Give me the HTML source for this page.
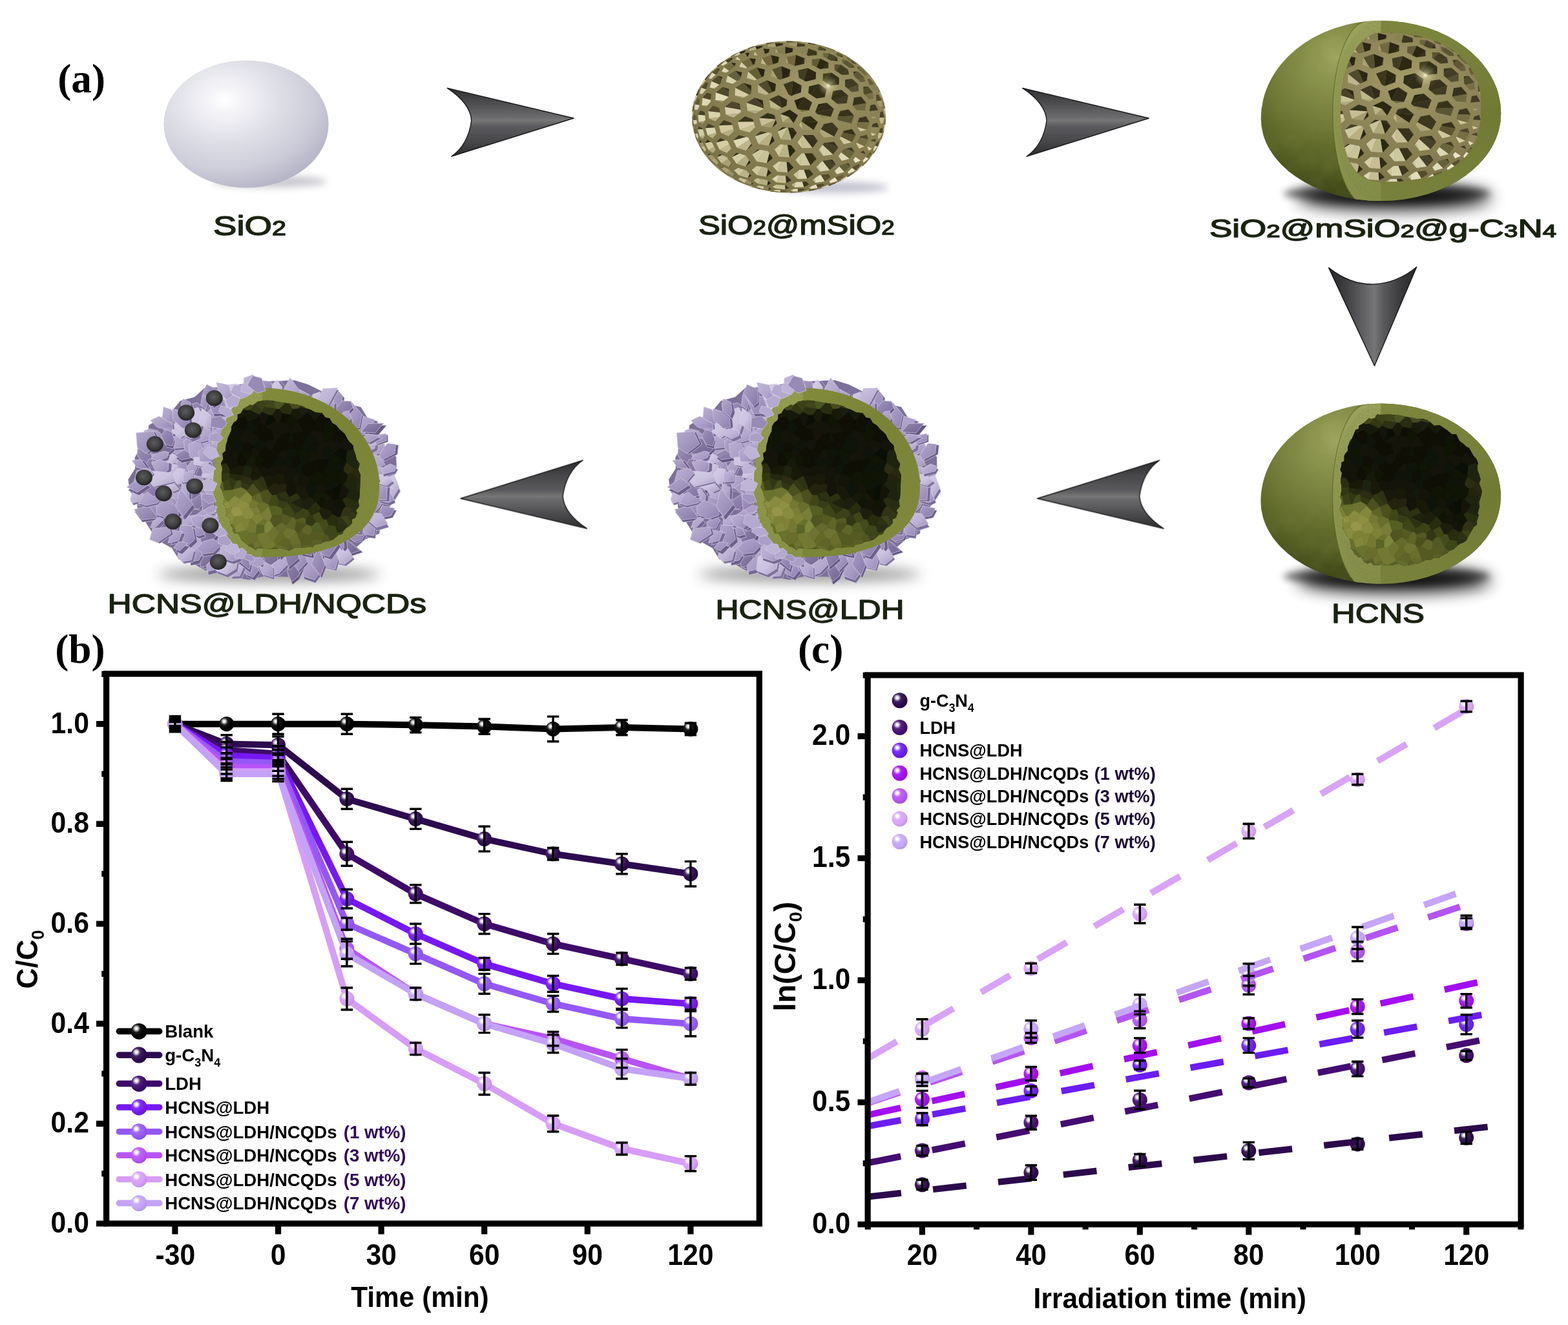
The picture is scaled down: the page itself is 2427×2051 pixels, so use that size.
<!DOCTYPE html>
<html lang="en"><head><meta charset="utf-8"><title>Figure</title>
<style>html,body{margin:0;padding:0;background:#fff}svg{display:block}text{font-kerning:normal}</style>
</head><body>
<svg width="2427" height="2051" viewBox="0 0 2427 2051">
<defs>
<radialGradient id="gb0" cx=".34" cy=".34" r=".72" fx=".34" fy=".32"><stop offset="0" stop-color="#f2f2f2"/><stop offset=".10" stop-color="#f2f2f2"/><stop offset=".22" stop-color="#8c8c8c"/><stop offset=".34" stop-color="#1a1a1a"/><stop offset=".7" stop-color="#000000"/><stop offset="1" stop-color="#000000"/></radialGradient><radialGradient id="gb1" cx=".34" cy=".34" r=".72" fx=".34" fy=".32"><stop offset="0" stop-color="#f4f3f6"/><stop offset=".10" stop-color="#f4f3f6"/><stop offset=".22" stop-color="#a091b0"/><stop offset=".34" stop-color="#422361"/><stop offset=".7" stop-color="#2d0b4f"/><stop offset="1" stop-color="#280a47"/></radialGradient><radialGradient id="gb2" cx=".34" cy=".34" r=".72" fx=".34" fy=".32"><stop offset="0" stop-color="#f5f3f8"/><stop offset=".10" stop-color="#f5f3f8"/><stop offset=".22" stop-color="#a891bc"/><stop offset=".34" stop-color="#512378"/><stop offset=".7" stop-color="#3e0b69"/><stop offset="1" stop-color="#380a5e"/></radialGradient><radialGradient id="gb3" cx=".34" cy=".34" r=".72" fx=".34" fy=".32"><stop offset="0" stop-color="#f8f3fe"/><stop offset=".10" stop-color="#f8f3fe"/><stop offset=".22" stop-color="#c197fa"/><stop offset=".34" stop-color="#842ff4"/><stop offset=".7" stop-color="#7618f3"/><stop offset="1" stop-color="#6a16db"/></radialGradient><radialGradient id="gb4" cx=".34" cy=".34" r=".72" fx=".34" fy=".32"><stop offset="0" stop-color="#faf7ff"/><stop offset=".10" stop-color="#faf7ff"/><stop offset=".22" stop-color="#cfb4fb"/><stop offset=".34" stop-color="#9f69f7"/><stop offset=".7" stop-color="#9458f6"/><stop offset="1" stop-color="#854fdd"/></radialGradient><radialGradient id="gb5" cx=".34" cy=".34" r=".72" fx=".34" fy=".32"><stop offset="0" stop-color="#fbf6ff"/><stop offset=".10" stop-color="#fbf6ff"/><stop offset=".22" stop-color="#dfb2fb"/><stop offset=".34" stop-color="#bf65f8"/><stop offset=".7" stop-color="#b854f7"/><stop offset="1" stop-color="#a64cde"/></radialGradient><radialGradient id="gb6" cx=".34" cy=".34" r=".72" fx=".34" fy=".32"><stop offset="0" stop-color="#fdfaff"/><stop offset=".10" stop-color="#fdfaff"/><stop offset=".22" stop-color="#edd3fc"/><stop offset=".34" stop-color="#dba7f9"/><stop offset=".7" stop-color="#d79df8"/><stop offset="1" stop-color="#c28ddf"/></radialGradient><radialGradient id="gb7" cx=".34" cy=".34" r=".72" fx=".34" fy=".32"><stop offset="0" stop-color="#fcfaff"/><stop offset=".10" stop-color="#fcfaff"/><stop offset=".22" stop-color="#e4d5fb"/><stop offset=".34" stop-color="#caabf8"/><stop offset=".7" stop-color="#c4a2f7"/><stop offset="1" stop-color="#b092de"/></radialGradient><radialGradient id="gc0" cx=".34" cy=".34" r=".72" fx=".34" fy=".32"><stop offset="0" stop-color="#f4f3f6"/><stop offset=".10" stop-color="#f4f3f6"/><stop offset=".22" stop-color="#a091ae"/><stop offset=".34" stop-color="#41225e"/><stop offset=".7" stop-color="#2c0a4c"/><stop offset="1" stop-color="#280944"/></radialGradient><radialGradient id="gc1" cx=".34" cy=".34" r=".72" fx=".34" fy=".32"><stop offset="0" stop-color="#f6f3f8"/><stop offset=".10" stop-color="#f6f3f8"/><stop offset=".22" stop-color="#ab92c0"/><stop offset=".34" stop-color="#582580"/><stop offset=".7" stop-color="#450d72"/><stop offset="1" stop-color="#3e0c67"/></radialGradient><radialGradient id="gc2" cx=".34" cy=".34" r=".72" fx=".34" fy=".32"><stop offset="0" stop-color="#f8f4fe"/><stop offset=".10" stop-color="#f8f4fe"/><stop offset=".22" stop-color="#bd99fa"/><stop offset=".34" stop-color="#7b34f5"/><stop offset=".7" stop-color="#6c1df4"/><stop offset="1" stop-color="#611adc"/></radialGradient><radialGradient id="gc3" cx=".34" cy=".34" r=".72" fx=".34" fy=".32"><stop offset="0" stop-color="#faf3fe"/><stop offset=".10" stop-color="#faf3fe"/><stop offset=".22" stop-color="#d693f9"/><stop offset=".34" stop-color="#ac26f3"/><stop offset=".7" stop-color="#a30ef2"/><stop offset="1" stop-color="#930dda"/></radialGradient><radialGradient id="gc4" cx=".34" cy=".34" r=".72" fx=".34" fy=".32"><stop offset="0" stop-color="#fbf6fe"/><stop offset=".10" stop-color="#fbf6fe"/><stop offset=".22" stop-color="#ddb2fa"/><stop offset=".34" stop-color="#bc66f4"/><stop offset=".7" stop-color="#b455f3"/><stop offset="1" stop-color="#a24cdb"/></radialGradient><radialGradient id="gc5" cx=".34" cy=".34" r=".72" fx=".34" fy=".32"><stop offset="0" stop-color="#fdfaff"/><stop offset=".10" stop-color="#fdfaff"/><stop offset=".22" stop-color="#eed6fc"/><stop offset=".34" stop-color="#ddacf9"/><stop offset=".7" stop-color="#d9a3f8"/><stop offset="1" stop-color="#c393df"/></radialGradient><radialGradient id="gc6" cx=".34" cy=".34" r=".72" fx=".34" fy=".32"><stop offset="0" stop-color="#fcfbff"/><stop offset=".10" stop-color="#fcfbff"/><stop offset=".22" stop-color="#e5d7fc"/><stop offset=".34" stop-color="#cbaff9"/><stop offset=".7" stop-color="#c5a6f8"/><stop offset="1" stop-color="#b195df"/></radialGradient><linearGradient id="arG" x1="0" y1="0" x2="0" y2="1"><stop offset="0" stop-color="#2f2f31"/><stop offset=".18" stop-color="#47474a"/><stop offset=".42" stop-color="#6a6a6c"/><stop offset=".47" stop-color="#767676"/><stop offset=".56" stop-color="#5b5b5e"/><stop offset=".8" stop-color="#454548"/><stop offset="1" stop-color="#2a2a2c"/></linearGradient><linearGradient id="arV" x1="0" y1="0" x2="1" y2="0"><stop offset="0" stop-color="#262628"/><stop offset=".22" stop-color="#434346"/><stop offset=".46" stop-color="#6c6c6e"/><stop offset=".52" stop-color="#757577"/><stop offset=".62" stop-color="#5a5a5d"/><stop offset=".82" stop-color="#3a3a3d"/><stop offset="1" stop-color="#262628"/></linearGradient><filter id="arB" x="-10%" y="-10%" width="120%" height="120%"><feGaussianBlur stdDeviation="0.7"/></filter><path id="arR" d="M22.4 26.4L217.9 73L28.7 132.2Q54.6 114.1 59.8 76.5Q57.8 49.7 22.4 26.4Z"/><radialGradient id="s1g" cx=".37" cy=".32" r=".72" fx=".37" fy=".31"><stop offset="0" stop-color="#ffffff"/><stop offset=".12" stop-color="#f6f6f9"/><stop offset=".45" stop-color="#dfdfe8"/><stop offset=".75" stop-color="#cdcdda"/><stop offset="1" stop-color="#b4b4c6"/></radialGradient><filter id="blur6" x="-30%" y="-80%" width="160%" height="260%"><feGaussianBlur stdDeviation="6"/></filter><filter id="blur4" x="-30%" y="-80%" width="160%" height="260%"><feGaussianBlur stdDeviation="4"/></filter><filter id="blur10" x="-30%" y="-100%" width="160%" height="300%"><feGaussianBlur stdDeviation="10"/></filter><filter id="blur14" x="-30%" y="-100%" width="160%" height="300%"><feGaussianBlur stdDeviation="13"/></filter><radialGradient id="geoBase" cx=".62" cy=".34" r=".8"><stop offset="0" stop-color="#a59c6b"/><stop offset=".35" stop-color="#8f8659"/><stop offset=".8" stop-color="#7d754a"/><stop offset="1" stop-color="#6a6340"/></radialGradient><radialGradient id="star" cx=".5" cy=".5" r=".5"><stop offset="0" stop-color="#fffbe0" stop-opacity=".95"/><stop offset=".25" stop-color="#e8e0b0" stop-opacity=".5"/><stop offset="1" stop-color="#c8c090" stop-opacity="0"/></radialGradient><g id="geo"><ellipse rx="150" ry="117.4" fill="url(#geoBase)"/><path fill="#6e6441" d="M146.1 26.4L145 28L142.3 34.4L142.3 34.5L143.2 34.7Z"/><path fill="#dcd7b4" d="M142.3 34.5L139.3 42.7L139.6 42.9L143.2 34.7ZM-111.6 -78.4L-118.7 -71.7L-117.1 -71.9L-110.3 -77.5ZM138 30.4L138.2 33.7L142.1 31.7ZM-141.3 -11.2L-138.7 -15.9L-138.5 -18.5L-145.5 -19.5L-145.9 -11ZM-124.2 -60L-120.3 -59.1L-112.9 -65.4L-118.7 -68.6ZM9 109.1L23.4 108.5L20.9 100.4L12.1 100.7L9.4 102.1ZM-130.5 6.6L-129.1 4.3L-129.9 -2.5L-140.6 -3.4L-139.3 7.9ZM-100.4 -77.1L-104 -70.1L-97.1 -68.6L-92.3 -71.6ZM-112.5 24.5L-114.9 16.3L-129.1 17.2L-125.7 28.5ZM94.1 64.8L81.1 54.8L76.8 60.6L81.9 68.1ZM-85.9 36.3L-80.5 47.8L-61.1 35.3L-62.6 32.1L-66.7 31Z"/><path fill="#ebe6c8" d="M131.1 56.9L130.3 56.5L130.2 56.6L126.2 62.5L125.5 64.2ZM113.1 75L107 81L106.8 82.3L114.4 75.9ZM123.5 64.3L118.9 61.9L114.6 67.5L115.6 70.9ZM103 82.7L98.1 78.7L91.2 85.2L92.8 88.1ZM64.3 102.4L75.7 98.9L71.4 93.4L63 99.2ZM103.2 61.8L100 65.9L102.9 71.1L111.2 67.4Z"/><path fill="#5f5532" d="M131.1 56.9L136.2 49.2L135.9 49.1L130.3 56.5ZM-28.6 115.2L-17.6 116.6L-17.7 116.3L-28.4 114.4ZM97.6 39.2L103.7 28L83.6 24.2L80.2 30.4Z"/><path fill="#afa578" d="M-138.1 45.8L-138.3 44L-141 37.7L-141 37.6L-141.9 37.8ZM-56.1 107.3L-65.4 104.7L-67 105L-56.9 108.6ZM21.2 116.2L21.2 115.4L19.1 115.8ZM-104.5 79.5L-96.8 86.9L-91.4 82L-101 77.5ZM70.1 30.2L49.9 19L47.7 23L54.3 32Z"/><path fill="#6e643c" d="M-141 37.6L-144.8 29.5L-145.2 29.5L-141.9 37.8ZM-141.5 25.4L-143.1 20L-146.4 17.3L-145.3 26.1Z"/><path fill="#b4af82" d="M-28.6 115.2L-28.4 114.4L-28.5 114.4L-37 113.2L-39.3 113.3ZM139.2 -38.3L143.7 -29.9L144.9 -30L141.5 -39ZM5.4 115.5L5.7 112.1L1.7 113.3ZM-57.3 -102.9L-55 -103L-49.8 -104.8L-51.6 -108.8L-59.4 -105.9ZM-47.5 103.6L-33.5 106.1L-32.3 99.1L-34.7 97.4L-43.2 95.9ZM-118.2 33.2L-112 26.2L-112.5 24.5L-125.7 28.5ZM-80.8 72.5L-66.7 76.7L-61.4 67.3L-66.5 59.7ZM-93.2 29.8L-85 21.6L-85.8 18.8L-104.9 25Z"/><path fill="#d7d2aa" d="M-98.4 -88.6L-96.3 -89.3L-89.3 -93.3L-89.3 -93.3L-89.8 -93.9ZM-73.3 -102.4L-73.1 -102.2L-63 -105.7L-63.3 -106.3ZM21.2 116.2L31.4 114.8L31 113.4L30.2 113.5L21.2 115.4ZM-130.5 -57.9L-135.8 -49.5L-134.6 -49.3L-128.4 -57ZM-76.6 -100.1L-85.4 -94.7L-80.6 -94.7L-74.6 -97.5ZM-148.2 4.8L-147 11.5L-142.7 10.8L-142.2 9.1L-142.7 4.7ZM-135.5 -45.2L-138.3 -35.9L-134.1 -35.4L-127.9 -42.7ZM13.4 96.1L28.5 95.5L23.3 81.8L16.4 82L13.7 84.1ZM-108.3 0.8L-106.1 -1.6L-106.8 -7L-124.8 -9.1L-123.4 2.6ZM-94.8 -64.2L-97.3 -54.3L-87.1 -51.3L-80.3 -55.5Z"/><path fill="#504b2d" d="M-89.3 -93.3L-80.6 -98.7L-80.7 -98.9L-89.8 -93.9ZM41.4 -112.7L30.1 -115L29.6 -113.2L29.9 -113.1L40.9 -111.8ZM14.1 115.5L25.2 113.2L21.9 111L13.5 111.3ZM55.4 105.6L52.9 103.2L42.3 104.8L44.5 110.1ZM56.5 -105.8L46.7 -109.6L44.5 -104.3L47.6 -103.1L54.2 -102.7ZM-128.9 -53.3L-135.5 -45.2L-127.9 -42.7L-127.9 -42.7L-125.4 -51.2ZM-109.8 -63.5L-119.7 -55.2L-107.8 -50L-105.6 -51.9L-103.8 -58.7ZM130.2 -37.7L122.5 -47.3L115.4 -43.4L115.6 -36.5L117.5 -34.3ZM-93.1 -31.1L-92.8 -39.7L-102.7 -46.3L-113.1 -37.8ZM-34 -56.7L-47.8 -50.2L-30.9 -36.1L-26.1 -38.3Z"/><path fill="#3c371e" d="M-63 -105.7L-62.8 -105.7L-55.1 -108.6L-53.3 -109.7L-63.3 -106.3ZM84.9 92.7L83.1 89.9L81.9 90.3ZM0.4 110.1L-4.7 105.9L-6 105.8L-5.6 112ZM23.4 108.5L31.5 104.6L27 100.1L20.9 100.4ZM61.1 88.4L60.1 88.6L64.8 93.1ZM27.5 -95.7L30.5 -94.6L39.3 -95.4L43.2 -101.4L30.1 -106.1ZM-98 36.2L-106.2 32.8L-112.6 39.7ZM28.5 95.5L38 88.7L32 81.6L23.3 81.8ZM119.5 -0.9L109 1.4L106.6 7.9L124.9 8.3ZM-88.1 -24.3L-75.6 -17.8L-76 -20.2ZM79.3 -9.3L78.5 -7.1L92.2 -11.7ZM-45 50.8L-48 50.3L-56.8 58.1ZM70.1 30.2L76.4 18.6L52.1 15L49.9 19ZM76.4 18.6L67.1 8.6L54.2 11L52.1 15ZM-54.6 7.6L-55.8 3.4L-68 -0.9L-79.4 7.8ZM-0.7 -35.1L3.7 -32.6L3.7 -32.6L6.3 -55.7L-8.5 -50.4Z"/><path fill="#d2c8a0" d="M2.1 117.3L2.1 116.6L-8.9 116.9L-9 117.2ZM146.7 19.9L146.6 21.5L147.8 20.1ZM146.7 -12.9L146.7 -12.7L148.5 -4.1L149.8 -4L149.1 -13.2ZM-12.9 113.2L-19.9 112.7L-24.2 114.3L-13.2 116.2ZM-18 104.9L-19.3 104.8L-25.3 108.3L-19.8 111ZM-129.8 40.4L-124.7 50.9L-115.5 46.6L-118.6 40.2L-121.1 38.5ZM13.4 96.1L13.7 84.1L7 89.2ZM97.6 39.2L80.2 30.4L78.8 33.1L85 42.2ZM-85.8 18.8L-87.7 12.3L-108.4 13.2L-104.9 25ZM-7.7 43L-13.2 42.6L-22.1 50.3L-15.1 61.5ZM20.4 48.3L18.9 31.8L13.5 39.4Z"/><path fill="#50462d" d="M2.1 117.3L13 117L10.8 116.6L2.2 116.6L2.1 116.6ZM-120.8 -26.3L-120.3 -34.6L-126.7 -37.6L-133.7 -29.4ZM123.1 34.8L120.6 27.5L110.3 30.3L109.4 31.9ZM-88.1 -24.3L-99.1 -15.6L-74.7 -10.9L-75.6 -17.8Z"/><path fill="#5a5032" d="M-148.8 14.3L-147.8 14.2L-147.9 14.1L-149 7.5L-149.8 5.8ZM-104.4 -84.3L-111.6 -78.4L-110.3 -77.5L-109.7 -78L-103.8 -83.6ZM95.4 -85.6L100.7 -82L105.4 -81.4L98 -88ZM103 82.7L109.7 76L105.9 74L100.3 76.6L98.1 78.7ZM80.3 -80.9L70.6 -81.2L70.9 -72.7L72.6 -71.5Z"/><path fill="#beb98c" d="M-148.8 14.3L-147.1 22.9L-146.8 22.8L-147.8 14.2ZM-129.8 53.7L-128 50.6L-131.1 44.4L-136 46.2ZM140.5 0.9L140.1 3.6L141.6 8.6L146 9.3L147.6 0.9ZM-41.4 -91.1L-43.3 -82.7L-34.5 -80.4ZM18.9 7.2L16 12.5L21.8 20ZM-11.7 -13.7L-11 -14L-30.4 -27L-28.3 -14.2Z"/><path fill="#878255" d="M101.8 -86.2L101.7 -86L108.9 -79.5L109.6 -80ZM17.9 -99.3L27.5 -95.7L30.1 -106.1L17.5 -105.2Z"/><path fill="#827850" d="M108.9 -79.5L109 -79.4L114.9 -74.6L116.9 -73.6L109.6 -80Z"/><path fill="#736e46" d="M86.4 -95.9L85.8 -95.3L95 -90.5L95.3 -90.7Z"/><path fill="#918c5f" d="M86.4 -95.9L77.3 -100.6L78.8 -99.3L85.7 -95.3L85.8 -95.3ZM104.8 -10.6L107.4 -7.7L117.9 -9.8Z"/><path fill="#464123" d="M120 -69.4L121 -67.9L121.8 -68.5ZM-35.6 -114L-35.2 -112.7L-25.7 -114.8L-24.6 -115.7ZM122 -58.3L122.7 -56L126.3 -58.2ZM53 -67L52.5 -56.6L55.3 -54.7L66.1 -68.5ZM-52.4 30.1L-32.8 23.9L-43.7 22.2Z"/><path fill="#8c825a" d="M121 -67.9L125.6 -61.6L126 -61L127.6 -61.7L121.8 -68.5ZM136.5 0.8L138.2 -10.4L124.8 -9.1L124.4 -6.6L128.1 -0.3Z"/><path fill="#9b9164" d="M126 -61L131.5 -54.6L133 -54.1L127.6 -61.7ZM-108.9 77.9L-109.2 77.7L-117.1 71.7L-118.2 72.2L-110.7 79.2ZM-131.1 44.4L-133.1 40.2L-134.5 38.9L-138.7 39.7L-136 46.2ZM-138.3 -35.9L-134.8 -34.5L-134.1 -35.4ZM14.2 -72.3L13.2 -61.9L15.7 -60.6ZM-9.8 -40.1L-0.7 -35.1L-8.5 -50.4ZM19.2 6.6L18.9 7.2L21.8 20L38.3 19.9ZM7.5 -16.7L13 -13L8.5 -25.5Z"/><path fill="#464128" d="M121.4 67.9L119.9 69.1L120.9 69.5ZM145.5 -8.6L141.7 -7.5L140.5 0.9L147.6 0.9ZM-129.9 -2.5L-130.4 -7.3L-136.7 -10.2L-140.6 -3.4ZM-114.9 16.3L-115.4 14.6L-124.9 10.4L-129.1 17.2ZM63.2 82.6L72.6 73.4L62.8 66.5L52 68ZM68.4 58.2L76.4 47.6L58.6 39.8L54.3 40.3L52.2 43.2Z"/><path fill="#736941" d="M119.9 69.1L113.6 74.4L113.1 75L114.4 75.9L120.9 69.5ZM145.9 -22.1L146.7 -12.9L149.1 -13.2L147.1 -22.4ZM88.7 -92.8L90.1 -89.2L95.4 -85.6L98 -88ZM123.5 64.3L127.6 58.3L123.6 56.9L121.9 58L118.9 61.9ZM-64.5 -76.2L-55.3 -80.5L-60.7 -90.8L-73.5 -84.8ZM-27.5 -95.7L-41.4 -91.1L-34.5 -80.4L-30.8 -79.5L-24.5 -81.6ZM10.9 -95.9L-3.6 -92.7L-0.8 -82.7L9 -78.9L9 -78.9Z"/><path fill="#373219" d="M-134.7 51.7L-133.7 51.4L-134.8 50ZM82.4 -96L79.6 -93.3L83.7 -92.5ZM61.3 -83.9L52.1 -74.4L61.3 -75.4ZM24.5 -90.8L19.5 -81.3L23.9 -82.3ZM103.7 28L97.8 18.8L85 21.6L83.6 24.2ZM33.3 74.7L42.8 65L32.8 56.2L24 56.4ZM78.5 -7.1L76 -0.4L101.1 -1.7L92.2 -11.7ZM81.4 -42.1L68.4 -40.2L66.5 -31.4ZM44.7 36.9L38 27.9L26.9 28.1Z"/><path fill="#8c8255" d="M-134.7 51.7L-129.8 58.8L-128.2 58.1L-128.6 57.5L-133.7 51.4ZM-150 -0.6L-149.2 0.9L-148.9 -0.7ZM-30.9 109.6L-32.9 108.7L-38.4 107.7L-40 111.8L-31.4 113ZM46.7 -109.6L34.5 -111L34.7 -107.8L44.5 -104.3ZM-39.4 -105.7L-52.6 -101.3L-48.3 -95.1L-45.1 -94.8L-37 -97.5ZM65 -0.3L44.5 -4.2L52.1 2.1Z"/><path fill="#a09669" d="M-129.8 58.8L-123.8 66.2L-123.6 64.9L-128.2 58.1ZM-114.3 63.9L-116 61.5L-121 58.2L-125.2 59.7L-120.1 67.1ZM1.6 -110.7L12.3 -108.4L13.1 -114.8L0.9 -114.1ZM-133.2 11.1L-130.5 6.6L-139.3 7.9ZM-128.2 -15.4L-126 -18L-134.6 -18.1ZM0 0L-9.4 8.5L7.4 9.6Z"/><path fill="#827d50" d="M-46.9 110.6L-55.3 107.6L-56.1 107.3L-56.9 108.6L-47.1 111.4ZM125.9 -48.7L131.8 -41.5L135.8 -41.8L132.3 -51.1ZM-5.6 -108.6L-19.6 -105.8L-17.1 -99.3L-8.6 -97.4L-5.4 -98ZM89.6 -20.9L74.6 -20.4L76.6 -18.6Z"/><path fill="#2d2814" d="M-45 111.3L-46.9 110.6L-47.1 111.4ZM-76.6 -100.1L-74.6 -97.5L-68.5 -100.3L-66.3 -103.6ZM-49.8 -104.8L-42 -107.4L-40.3 -110.5L-51.6 -108.8ZM-88.8 -88.1L-86.5 -90.9L-91.1 -91ZM-27.3 111.3L-30.9 109.6L-31.4 113ZM-108.1 -72.1L-107 -74.2L-111.2 -74.7ZM56.5 -105.8L54.2 -102.7L57.1 -102.6ZM23.5 -109.2L24.8 -109.3L24.9 -112.4ZM-128.9 -53.3L-125.4 -51.2L-125.1 -52.2ZM-39.4 -105.7L-37 -97.5L-31.4 -99.4L-29.8 -104.9ZM-129.8 40.4L-121.1 38.5L-126.1 35.4ZM-120.3 -34.6L-120.2 -35.3L-126.7 -37.6ZM-109.8 -63.5L-103.8 -58.7L-103 -61.8ZM-55.3 -80.5L-53.3 -81.4L-51.2 -89.7L-60.7 -90.8ZM-27 86.8L-32.5 80.9L-34.9 92.7ZM-27.5 -95.7L-24.5 -81.6L-16.6 -84.3L-15.1 -92.8ZM61.3 -83.9L48.7 -90.4L42.6 -76.9L48.3 -73.9L52.1 -74.4ZM-83 -71.5L-74.2 -61.8L-72.6 -68.9ZM24.5 -90.8L10.9 -95.9L9 -78.9L19.5 -81.3ZM42.8 65L35.9 56.2L32.8 56.2ZM-70.6 -52.7L-58.3 -40.1L-58.2 -49ZM-25.1 64L-30.2 56L-34.2 71.5ZM42.2 -68.9L30.7 -55.8L41.6 -58.5ZM42.2 -68.9L29.2 -75.7L22.9 -56.7L26.5 -54.8L30.7 -55.8ZM-34 -56.7L-26.1 -38.3L-21.3 -40.5L-20 -50.9ZM-31 44.7L-22.2 36.9L-25.8 28.7ZM3.7 -32.6L8.6 -34.4L19.7 -48.5L6.3 -55.7ZM-39.2 -17L-40.5 -25.7L-52.8 -29.7ZM19.4 6.3L19.2 6.6L38.3 19.9L44.9 7.9ZM4.3 35.8L12.3 24.5L-0.8 16.5L-1.6 16.4ZM0 0L1.3 -11.2L-13.2 -4.4ZM0 0L14 -2.5L1.3 -11.2ZM0 0L7.4 9.6L14 -2.5Z"/><path fill="#2d2d19" d="M-104.4 -84.3L-103.8 -83.6L-102.4 -84.9ZM-134.5 38.9L-137.2 36.3L-138.7 39.7ZM-111.1 62.2L-103.4 59.1L-106.9 57.6ZM6.5 -105.9L4.8 -100.2L5.8 -100.4ZM-2 85.9L7.4 78.6L0 70L-3.6 69.7ZM31.1 -47.3L30.2 -36.9L34.3 -34.1L46.3 -51.1ZM12.3 24.5L6.5 17L-0.8 16.5ZM-20.7 2.8L-22.4 -2.7L-32.7 -6.2Z"/><path fill="#6e6941" d="M70.1 -103.8L60.8 -107.3L60.1 -106L60.9 -105.7L69.5 -103.1ZM107.3 -74.4L108.2 -72.8L111.9 -69.4L116.3 -72L110.3 -76.9ZM111.9 -69.4L117.5 -64.4L121.8 -64.2L116.3 -72ZM98.7 -17.7L98.7 -17.7L104.8 -10.6L117.9 -9.8L119.9 -21.5ZM14.6 -11.8L20.2 -8.1L31.1 -10Z"/><path fill="#91875a" d="M60.8 -107.3L50.4 -110.5L51.2 -109.4L60.1 -106ZM135.3 27L139.1 16.1L128.4 15.5L126.1 22.1L126.9 24.5Z"/><path fill="#322d19" d="M70.1 -103.8L69.5 -103.1L71.5 -102.5ZM-20.3 -108.8L-9.8 -110.9L-8.9 -114L-21.2 -114.3ZM74.6 -92.4L69 -86.9L75.4 -86.6ZM-79.2 78.8L-80.1 78.6L-84.8 82.7ZM-4.2 102.4L3.9 98.2L-2.7 91.4L-5 91.3ZM100.9 -29.7L100.3 -26.2L111.6 -31.4ZM-88 62.2L-76.8 56.8L-81.1 55.6ZM72.6 73.4L67.2 65.9L62.8 66.5ZM-92.8 -39.7L-92.6 -43.2L-102.7 -46.3ZM61.8 -50.3L64.5 -48.4L77.6 -50.2L77.8 -60.6ZM2.3 -73.1L-1.7 -61.8L1 -62.8ZM38.5 -31.2L42.7 -28.4L55.6 -30.6L58.4 -42.8ZM34.3 -34.1L38.5 -31.2L58.4 -42.8L46.3 -51.1ZM69.7 -12.5L58.7 -21.9L42.4 -11.4L40.8 -7.3ZM19.8 5.7L19.4 6.3L44.9 7.9L33.6 -1.6ZM-10.6 -14.2L-9.9 -14.6L-2.6 -26.2L-16.1 -33.7ZM-9.9 -14.6L-3.6 -17.5L-2.6 -26.2ZM13.6 -12.5L14 -12.3L36 -22.4L23.4 -31ZM14 -12.3L14.6 -11.8L31.1 -10L36 -22.4Z"/><path fill="#5f5a37" d="M149.9 3.4L148.8 4.3L147.4 12L149.2 12.1ZM-148.2 4.8L-142.7 4.7L-143.4 -1.9L-146.8 -4.1ZM82.4 -96L75.4 -99.9L72.7 -96.2L77.4 -93.8L79.6 -93.3ZM-138.5 -18.5L-137.8 -27L-141.3 -28.6L-145.5 -19.5Z"/><path fill="#cdc8a0" d="M147.4 12L147.3 12.6L146.7 19.9L147.8 20.1L149.2 12.1ZM74.3 88.7L71.3 83.3L70.7 83.9ZM-69.3 81.8L-79.2 78.8L-84.8 82.7L-77 90.4ZM48.3 84.7L45.3 74.8L42.5 77.5ZM17.5 75.2L33.3 74.7L24 56.4L19.7 56.5L17.1 59.3ZM-36.4 52.2L-45 50.8L-56.8 58.1L-49.6 68.9ZM-52.4 30.1L-47 42.1L-27.5 24.7L-27.5 24.7L-32.8 23.9Z"/><path fill="#504628" d="M31.4 114.8L42.2 112.6L40.7 112.1L31 113.4ZM109.7 76L108.5 72.8L105.9 74Z"/><path fill="#55502d" d="M-149.6 -8.8L-147.8 -8.6L-147.4 -16.3L-148.3 -17.4ZM71.9 101.8L61 105.2L62 106.9L72.7 102.6ZM-112.9 -65.4L-110.6 -67.3L-108.1 -72.1L-111.2 -74.7L-118.7 -68.6ZM-11.6 -78.6L-26 -73.6L-17.6 -59.2L-13.7 -57.6L-9.8 -59Z"/><path fill="#cdc89b" d="M-149.6 -8.8L-150 -0.6L-148.9 -0.7L-147.8 -8L-147.8 -8.6ZM-41.5 77.3L-49.9 75.9L-57.4 82L-49.6 90.1ZM106.4 15.8L110.5 22.4L120.9 19.7ZM-65 -60.2L-52.6 -56.6L-49.4 -58.1L-62.9 -70.4Z"/><path fill="#c8be96" d="M-35.6 -114L-45.6 -111.8L-45.1 -111.1L-36 -112.5L-35.2 -112.7ZM-45.6 -111.8L-47.2 -110.8L-45.1 -111.1ZM141.6 8.6L142.3 10.8L146 9.3ZM-52.6 -101.3L-54.6 -95.7L-48.3 -95.1ZM-111.1 62.2L-104 72L-94.1 64.8L-95.7 62.5L-103.4 59.1ZM-19 101.4L-4.2 102.4L-5 91.3L-15.7 90.5ZM-17.4 84.8L-2 85.9L-3.6 69.7L-12.2 69.1ZM20.4 48.3L36.7 48L21.5 28.1L18.9 31.8ZM-20.4 3.9L-20.5 3.5L-45.9 1.6L-42.2 14.3Z"/><path fill="#e6e1be" d="M61 105.2L60.7 105.3L50.9 109.3L51.2 110.3L62 106.9Z"/><path fill="#968c5f" d="M-101.5 85L-108.9 77.9L-110.7 79.2L-102.2 85.8ZM-142.5 -9L-141.3 -11.2L-145.9 -11ZM-57.2 101.7L-62.1 98.3L-65.3 97.3L-68.7 102.2L-58.5 105.2Z"/><path fill="#a09b6e" d="M-94.7 90.9L-85.2 96.6L-83.8 95.1L-93.8 90.3ZM135.5 -24.3L140 -16.3L144.3 -16.2L143.6 -25.7Z"/><path fill="#7d784b" d="M-85.2 96.6L-75.3 101.4L-74.8 100.5L-83.5 95.2L-83.8 95.1Z"/><path fill="#d7cdaa" d="M-143.7 -33.6L-146.5 -24.7L-145.2 -24.6L-141.5 -32.8L-141.4 -33ZM-99.1 -15.6L-97.5 -3.4L-77.3 -5.2L-74.2 -7.6L-74.7 -10.9ZM-53.4 11.8L-54.6 7.6L-79.4 7.8L-75.8 20.1Z"/><path fill="#413c23" d="M-139.7 -42.4L-143.7 -33.6L-141.4 -33L-138.7 -41.9ZM12.3 -108.4L12.3 -108.4L23.5 -109.2L24.9 -112.4L13.1 -114.8ZM139.1 16.1L136.8 8.9L130 10.8L128.4 15.5ZM116.1 52.3L110.5 54.7L118.6 57.7ZM95.3 76.5L92.2 71.5L88.4 72.5ZM138.2 -10.4L133.2 -19.5L126.2 -17.4L124.8 -9.1ZM133.2 -19.5L126.3 -18.1L126.2 -17.4ZM91.5 -73.3L80.3 -80.9L72.6 -71.5L80.7 -66ZM101.8 54.6L97.2 47L88.3 49.2ZM107.8 -50L97.9 -58.9L87 -50.5L87 -47.5L91.6 -43.5ZM-87.7 12.3L-88.6 9.5L-100.5 4.9L-108.4 13.2ZM-85.9 36.3L-66.7 31L-77.6 28.2ZM89.6 -20.9L91.9 -32.9L68.6 -25.5L74.6 -20.4ZM29.2 -75.7L14.2 -72.3L15.7 -60.6L22.9 -56.7Z"/><path fill="#787346" d="M136 -46.9L139.1 -38.6L139.2 -38.3L141.5 -39L137.1 -47.4Z"/><path fill="#e6e1c3" d="M81.2 98.6L91.1 93.3L89.6 91.8L80.7 97.7Z"/><path fill="#645f3c" d="M91.1 93.3L100 87.4L99 86.7L89.9 91.6L89.6 91.8ZM116.2 -61.9L107 -57.7L111 -54.1L118.2 -54.6ZM86.1 85.3L95.3 76.5L88.4 72.5L80.1 74.8L78 76.8ZM-83 -71.5L-94.8 -64.2L-80.3 -55.5L-74.9 -58.8L-74.2 -61.8Z"/><path fill="#554b2d" d="M-124.2 -65.7L-130.5 -57.9L-128.4 -57L-128.2 -57.2L-123.3 -65ZM140.2 37.3L136.3 39.5L133.5 44.6L137.2 45.8ZM135 -33.1L135.5 -24.3L135.5 -24.3L143.6 -25.7L138.9 -34.6ZM60.1 88.6L49.7 90.1L55.4 99.7L64.8 93.1ZM-106.8 -7L-107.6 -13.7L-117.4 -17.4L-124.8 -9.1Z"/><path fill="#aaa578" d="M30.1 -115L18.2 -116.4L18.3 -115.4L29.6 -113.2ZM-111.3 73.9L-109 71.3L-114.3 63.9L-120.1 67.1Z"/><path fill="#afaa7d" d="M-15 -115.7L-3.9 -115.5L-3.6 -115.5L-3.6 -117.4L-15.3 -116.7ZM-33.1 -108.8L-30.1 -108.6L-31.6 -112ZM-19.6 -105.8L-20.9 -100.2L-17.1 -99.3ZM-12.3 34.7L4.3 35.8L-1.6 16.4L-2.1 16.4Z"/><path fill="#4b4128" d="M-3.6 -115.5L8.1 -116.2L8.4 -117.1L-3.6 -117.4ZM105.7 -77.5L107.3 -74.4L110.3 -76.9ZM-141 19.6L-133.1 19L-133.4 18L-139.5 14.6ZM106.8 -70.4L99.4 -70.2L100.6 -65.3ZM-38.5 -12.9L-38.5 -12.9L-39.2 -17L-52.8 -29.7L-65.7 -21.9Z"/><path fill="#e1dcb9" d="M133.5 44.6L130.8 49.6L131.5 53.3L137.2 45.8ZM-105.4 -80L-101.1 -79.7L-94.5 -83.8L-98.2 -87ZM42.3 104.8L38.9 105.4L33.3 108L33.8 111.6L44.5 110.1ZM128.8 49L122 45.8L121.4 46.8L123.8 52.3ZM74.3 88.7L86.1 85.3L78 76.8L71.3 83.3ZM49.7 90.1L46.4 90.6L39.9 95.2L41.2 101.9L55.4 99.7ZM-100.8 -24.9L-93.1 -31.1L-93.1 -31.1L-113.1 -37.8L-113.8 -26Z"/><path fill="#645a37" d="M-2.1 115.9L-5.9 113.7L-12.9 113.2L-13.2 116.2ZM48.7 -90.4L35.9 -89.2L35.4 -80.7L42.6 -76.9Z"/><path fill="#d2cda5" d="M-141.4 34.3L-139.9 30.7L-141.5 25.4L-145.3 26.1ZM-38.4 107.7L-46.7 106.2L-50.4 108L-40 111.8ZM-83 -88.9L-75.7 -87.8L-74.6 -88.3L-79.6 -93.2ZM-141 19.6L-137.8 30.4L-130.4 28.2L-133.1 19ZM-76.9 -77.7L-66.5 -75.2L-64.5 -76.2L-73.5 -84.8ZM-88 62.2L-80.8 72.5L-66.5 59.7L-66.5 59.7L-76.8 56.8ZM-17.4 84.8L-12.2 69.1L-15.8 68.9L-25 76.3ZM17.5 75.2L17.1 59.3L10.3 66.5ZM53 60.2L68.4 58.2L52.2 43.2L47.8 49.2Z"/><path fill="#4b4628" d="M127.6 58.3L126.8 54.7L123.6 56.9ZM145.4 16.3L141.6 18L139.4 24.3L144.7 25.2ZM-94.5 -83.8L-90 -86.6L-88.8 -88.1L-91.1 -91L-98.2 -87ZM134.3 38.8L133.9 33.7L127.2 36.2L126.7 37.2ZM74.6 -92.4L62.6 -98.5L58.5 -90.8L65.8 -87L69 -86.9Z"/><path fill="#dcd7af" d="M5.4 115.5L14.1 115.5L13.5 111.3L7.8 111.5L5.7 112.1ZM-126 -18L-121 -23.7L-120.8 -26.3L-133.7 -29.4L-134.6 -18.1ZM-19 101.4L-15.7 90.5L-18 90.4L-26 96.1Z"/><path fill="#c3be91" d="M139.4 24.3L137.9 28.7L138 30.4L142.1 31.7L144.7 25.2ZM64.3 102.4L63 99.2L62 99.8ZM-47.5 103.6L-43.2 95.9L-49.2 94.8L-54.6 98.6ZM39.9 95.2L36.9 97.3L41.2 101.9ZM53 60.2L47.8 49.2L46.3 51.3ZM-60.7 23.9L-52.1 16L-53.4 11.8L-75.8 20.1Z"/><path fill="#c8c396" d="M-61.5 -102.6L-57.3 -102.9L-59.4 -105.9ZM-6 105.8L-18 104.9L-19.8 111L-5.6 112ZM-30.2 56L-32.2 52.9L-36.4 52.2L-49.6 68.9L-34.2 71.5ZM-42.8 -10.3L-38.5 -12.9L-65.7 -21.9L-63.9 -9.3Z"/><path fill="#877d50" d="M-147 11.5L-143.7 14.1L-142.7 10.8ZM-74.6 -88.3L-64.3 -93.2L-67.3 -98.9L-79.6 -93.2ZM110.5 54.7L107.6 55.9L103.2 61.8L111.2 67.4L118.6 57.7Z"/><path fill="#8c875a" d="M75.4 -99.9L64.7 -103.2L65.6 -99.9L72.7 -96.2ZM128.8 49L134.3 38.8L126.7 37.2L122 45.8ZM17 -99.6L17.9 -99.3L17.5 -105.2Z"/><path fill="#c3b991" d="M33.3 108L30.8 109.3L33.8 111.6Z"/><path fill="#a5a073" d="M-30.1 -108.6L-23.6 -108.1L-20.3 -108.8L-21.2 -114.3L-31.6 -112ZM-103.9 -22.4L-100.8 -24.9L-113.8 -26Z"/><path fill="#323219" d="M-55 103.3L-57.2 101.7L-58.5 105.2ZM55.3 -54.7L61.8 -50.3L77.8 -60.6L66.1 -68.5ZM-20.5 3.5L-20.7 2.8L-32.7 -6.2L-45.9 1.6Z"/><path fill="#cdc39b" d="M-65.3 97.3L-75.4 94.2L-78.4 96.3L-68.7 102.2Z"/><path fill="#282314" d="M-121 58.2L-123.2 56.7L-125.2 59.7ZM-33.5 106.1L-27.7 102.6L-32.3 99.1ZM-58.3 90.7L-60.8 88.2L-63.6 94.6ZM6.5 -105.9L-5.6 -108.6L-5.4 -98L4.8 -100.2ZM-42.1 -61.5L-38.9 -63L-37.1 -73.3L-49.6 -76.6ZM2.3 -73.1L-11.6 -78.6L-9.8 -59L-1.7 -61.8ZM-65.8 51.9L-57.2 44.1L-58.2 41.8ZM13 -13L13.6 -12.5L23.4 -31L8.5 -25.5Z"/><path fill="#695f3c" d="M122.7 -56L124.1 -51L125.9 -48.7L132.3 -51.1L126.3 -58.2ZM75.7 98.9L84.9 92.7L81.9 90.3L71.4 93.4ZM82.4 -89.3L83.3 -83.5L84.3 -82.8L88.6 -88Z"/><path fill="#96915f" d="M140 -16.3L140.5 -15.3L144.3 -16.2Z"/><path fill="#37321e" d="M135 -34.1L135 -33.1L138.9 -34.6ZM122.5 -47.3L115.3 -46.5L115.4 -43.4ZM100.3 -26.2L98.7 -17.7L119.9 -21.5L111.6 -31.4ZM76.4 47.6L70 38.5L58.6 39.8ZM91.9 -32.9L81.4 -42.1L66.5 -31.4L65.7 -28L68.6 -25.5ZM36.7 48L44.7 36.9L26.9 28.1L21.5 28.1L21.5 28.1ZM65 -0.3L69.7 -12.5L40.8 -7.3L40.8 -7.3L44.5 -4.2ZM22.6 0.4L19.8 5.7L33.6 -1.6ZM-17.6 22.4L-2.9 16.3L-10.2 15.8Z"/><path fill="#a59b6e" d="M0.3 -111L1.6 -110.7L0.9 -114.1ZM-3.6 -92.7L-4.9 -84.3L-0.8 -82.7ZM-20.2 4.5L-20.4 3.9L-42.2 14.3L-26 16.7Z"/><path fill="#282814" d="M-104.5 79.5L-101 77.5L-102.2 77ZM-86.4 91.9L-83.6 89.7L-84.4 88.9ZM-64.3 -93.2L-63.1 -93.7L-60.9 -99.3L-67.3 -98.9ZM-89.2 -84.1L-84.3 -78.2L-82 -82.9ZM39.3 -95.4L43.2 -95.7L43.2 -101.4ZM10.3 52.6L3.3 43.8L-2.1 43.4L1 62.6ZM58.7 -21.9L45.7 -19.7L42.4 -11.4Z"/><path fill="#969164" d="M-96.8 86.9L-86.4 91.9L-84.4 88.9L-91.4 82Z"/><path fill="#b9af82" d="M-137.8 30.4L-133.7 34.3L-130.1 29.2L-130.4 28.2ZM-113.9 6.7L-108.3 0.8L-123.4 2.6ZM-47 42.1L-31 44.7L-25.8 28.7L-27.5 24.7Z"/><path fill="#5a5532" d="M84.3 -82.8L93.4 -76.6L99.4 -80.7L88.6 -88ZM76 -0.4L74.8 2.8L77.3 5.6L96.7 10.2L101.1 -1.7ZM-70.6 -52.7L-83 -45.1L-61.8 -34.6L-58.4 -36.6L-58.3 -40.1Z"/><path fill="#555032" d="M93.4 -76.6L94.4 -75.9L101.8 -76L99.4 -80.7ZM107.8 -50L91.6 -43.5L97.3 -38.4L108 -39.9Z"/><path fill="#d7cda5" d="M135.3 27L126.9 24.5L128.6 29.3ZM117.3 45.5L105.2 39.7L104.3 41.3L108.8 49.1ZM-92.2 42.7L-94.6 37.6L-98 36.2L-112.6 39.7L-107.3 50.7ZM-83 -45.1L-83.4 -32.9L-68.8 -30.4L-61.8 -34.6Z"/><path fill="#beb48c" d="M9 109.1L9.4 102.1L4.1 104.8ZM-32.5 80.9L-34.7 78.5L-41.5 77.3L-49.6 90.1L-34.9 92.7ZM-97.5 -3.4L-85.5 1.1L-77.3 -5.2ZM-80.5 47.8L-65.8 51.9L-58.2 41.8L-61.1 35.3ZM-47.8 -50.2L-47.9 -37.8L-35.6 -33.9L-30.9 -36.1Z"/><path fill="#736e41" d="M-89.2 -84.1L-100.4 -77.1L-92.3 -71.6L-85.4 -75.9L-84.3 -78.2Z"/><path fill="#b4aa7d" d="M-124.7 50.9L-117.4 55.8L-113.3 51.1L-115.5 46.6ZM-18 -10.7L-11.7 -13.7L-28.3 -14.2Z"/><path fill="#5f5537" d="M116.2 -61.9L106.8 -70.4L100.6 -65.3L101.2 -62.8L107 -57.7Z"/><path fill="#69643c" d="M62.6 -98.5L53.1 -99.1L53.3 -93.4L58.5 -90.8ZM94.1 64.8L101.8 54.6L88.3 49.2L84.6 50.1L81.1 54.8Z"/><path fill="#e1d7b4" d="M-119.7 -55.2L-122.4 -45.5L-115.1 -44L-107.8 -50Z"/><path fill="#9b9664" d="M-122.4 -45.5L-115.8 -43.4L-115.1 -44Z"/><path fill="#b9b487" d="M-60.8 88.2L-66.2 82.7L-69.3 81.8L-77 90.4L-63.6 94.6ZM-2.1 43.4L-7.7 43L-15.1 61.5L1 62.6ZM0 0L-13.2 -4.4L-9.4 8.5Z"/><path fill="#23230f" d="M-93.1 77L-88.6 72.8L-89 72.1Z"/><path fill="#aaa073" d="M-104 72L-93.1 77L-89 72.1L-94.1 64.8ZM136.5 0.8L128.1 -0.3L129.7 2.6ZM-26 -73.6L-27.7 -63.3L-17.6 -59.2ZM-83.4 -32.9L-71.2 -28.9L-68.8 -30.4Z"/><path fill="#7d734b" d="M130.7 -27.9L123.2 -27.4L123.8 -26.7Z"/><path fill="#786e46" d="M130.7 -27.9L130.2 -37.7L117.5 -34.3L123.2 -27.4ZM117.3 45.5L123.1 34.8L109.4 31.9L105.2 39.7ZM106.6 7.9L104.8 13.1L106.4 15.8L120.9 19.7L124.9 8.3Z"/><path fill="#463c23" d="M91.5 -73.3L80.7 -66L82.4 -64.9L93.2 -65.8Z"/><path fill="#c3b98c" d="M-96 55.7L-89.2 49L-92.2 42.7L-107.3 50.7Z"/><path fill="#3c3723" d="M97.9 -58.9L87.1 -57.8L87 -50.5Z"/><path fill="#231e0f" d="M-66.7 76.7L-59.3 70.4L-61.4 67.3Z"/><path fill="#d7d2af" d="M48.3 84.7L63.2 82.6L52 68L52 68L45.3 74.8Z"/><path fill="#645f37" d="M-49.4 -58.1L-42.1 -61.5L-49.6 -76.6L-62.9 -70.4Z"/><path fill="#91875f" d="M77.3 5.6L83.9 12.9L96.7 10.2Z"/><path fill="#2d2819" d="M8.6 -34.4L18.7 -38.1L19.7 -48.5ZM-18.6 10.1L-20.2 4.5L-26 16.7Z"/><path fill="#b4aa82" d="M-51.7 -5.1L-42.8 -10.3L-63.9 -9.3Z"/><path fill="#413723" d="M-11 -14L-10.6 -14.2L-16.1 -33.7L-30.4 -27Z"/><path fill="#c8c39b" d="M-17.6 22.4L-12.3 34.7L-2.1 16.4L-2.9 16.3Z"/><ellipse cx="61" cy="-48" rx="16" ry="16" fill="url(#star)"/></g><clipPath id="cavSm"><polygon points="156,-5.5 155.7,8.8 154.8,19.1 153.3,28.2 151.3,36.5 148.6,44.3 145.4,51.5 141.6,58.3 137.2,64.7 132.3,70.6 126.8,76.2 120.7,81.3 114.1,86 107,90.3 99.3,94.2 91,97.7 82.2,100.7 72.8,103.4 62.7,105.5 51.9,107.3 40.3,108.6 27.4,109.5 12.2,109.9 -2.8,109.9 -8.5,109.5 -13.5,108.5 -18.2,107.1 -22.5,105.3 -26.6,102.9 -30.4,100.2 -34.1,97 -37.5,93.3 -40.7,89.2 -43.7,84.7 -46.5,79.8 -49.1,74.4 -51.4,68.7 -53.5,62.5 -55.3,56 -57,49.1 -58.3,41.7 -59.5,34 -60.4,25.7 -61,16.8 -61.4,7.1 -61.5,-5.5 -61.3,-13.6 -60.9,-21.6 -60.1,-29.5 -59.1,-37.3 -57.7,-45 -56.1,-52.5 -54.2,-59.7 -52,-66.7 -49.6,-73.4 -46.9,-79.7 -44,-85.7 -40.8,-91.3 -37.5,-96.5 -33.9,-101.3 -30.3,-105.5 -26.4,-109.3 -22.4,-112.6 -18.3,-115.3 -14.1,-117.6 -9.9,-119.2 -5.5,-120.4 -1.2,-120.9 9.4,-120.9 22.8,-120.4 34.8,-119.5 46.1,-118 56.8,-116.1 67,-113.7 76.7,-110.8 85.8,-107.4 94.5,-103.6 102.7,-99.4 110.3,-94.7 117.4,-89.6 123.9,-84.1 129.9,-78.3 135.3,-72 140.1,-65.3 144.3,-58.3 147.8,-50.9 150.8,-43.2 153.1,-35 154.7,-26.3 155.7,-16.9"/></clipPath><radialGradient id="shOut" gradientUnits="userSpaceOnUse" cx="-80" cy="-72" r="225" fx="-66" fy="-84"><stop offset="0" stop-color="#9ea65f"/><stop offset=".2" stop-color="#8a934c"/><stop offset=".45" stop-color="#727b38"/><stop offset=".7" stop-color="#566024"/><stop offset="1" stop-color="#333b12"/></radialGradient><linearGradient id="shBandL" x1="0" y1="0" x2="0" y2="1"><stop offset="0" stop-color="#9aa25c"/><stop offset=".5" stop-color="#8f9852"/><stop offset="1" stop-color="#858e48"/></linearGradient><linearGradient id="shBandR" x1="0" y1="0" x2="0" y2="1"><stop offset="0" stop-color="#7f8840"/><stop offset=".5" stop-color="#727b34"/><stop offset="1" stop-color="#7a833c"/></linearGradient><filter id="grain" x="0" y="0" width="100%" height="100%"><feTurbulence type="fractalNoise" baseFrequency=".45" numOctaves="2" seed="4" result="n"/><feColorMatrix in="n" type="matrix" values="0 0 0 0 0.16  0 0 0 0 0.18  0 0 0 0 0.04  1.8 0 0 0 -.72"/></filter><filter id="grain2" x="0" y="0" width="100%" height="100%"><feTurbulence type="fractalNoise" baseFrequency=".03" numOctaves="3" seed="9" result="n"/><feColorMatrix in="n" type="matrix" values="0 0 0 0 0.2  0 0 0 0 0.22  0 0 0 0 0.05  0 1.5 0 0 -.62"/></filter><clipPath id="faceClip"><path d="M1 -141H190V141H1A73.0 141 0 0 1 1 -141Z"/></clipPath><clipPath id="outClip"><path d="M1 -139.6A185.8 143.6 0 0 1 186.8 4.0A185.8 135.6 0 0 1 1 139.6A185.8 127.6 0 0 1 -184.8 12.0A185.8 151.6 0 0 1 1 -139.6Z"/></clipPath><clipPath id="cavClip"><polygon points="157.6,-3.9 155.9,4.8 153,13.5 154,19.1 151,30.8 152.6,33.1 149.7,42.9 149.9,47.9 144.8,51.5 143.5,54.4 139.8,60.4 138,63.9 133.2,72.6 126.8,76.9 125.7,76.3 120.2,79.9 114.1,85.7 107.2,88.4 104.8,91.4 95.4,96.1 90.7,99.2 83.1,99.1 79.1,102.1 70.3,102.6 60.2,107.8 52.5,108.7 45.5,110.4 36.7,111.2 27.7,108.2 17.6,110.8 2,109.8 -5.8,110.6 -10.6,110.5 -11.6,108.2 -14.3,106.3 -19.8,108.3 -23.1,106.4 -25,105.9 -26,102.8 -29.8,97.6 -33,98.8 -37.2,94.5 -39.2,93.7 -42.4,87.6 -46.3,84.3 -45.1,83.3 -45.6,76.2 -47.1,71.4 -49.7,66.9 -53.5,61.9 -52.6,61 -57.6,54.5 -58.2,49 -57.7,41.6 -57,36.8 -60,29.6 -62.9,24.1 -61.7,21.3 -59.2,12 -61.7,5.3 -59.6,-6.3 -59.9,-12.1 -60.7,-16.3 -60.7,-22.6 -59.1,-32.1 -61.8,-37.2 -59.9,-42.7 -59.7,-48.4 -55.6,-50.5 -55.5,-58.6 -53.6,-62.3 -49.9,-66.1 -50.2,-72.3 -48.4,-76.5 -46.8,-80.9 -43.2,-86 -40.6,-92.3 -38.4,-97.6 -38.1,-98.8 -33.2,-100.6 -32.7,-105.2 -27.4,-107.9 -23.2,-110.9 -21.1,-113.4 -17.7,-116.7 -14.9,-116.2 -13.6,-115.9 -7.5,-117.2 -6.6,-120.7 -3.5,-123.2 -1.5,-122.3 14.8,-122.6 23.7,-121.8 29.6,-121.4 41.5,-118.8 49.1,-117.8 55.7,-116.1 66.7,-115.9 73.1,-113.6 77.4,-110.9 83.7,-105.2 91.7,-106.3 96,-103.8 103.1,-98.7 110.8,-92.2 117.7,-92.3 121.3,-84.8 123.4,-80.9 129.4,-76.8 133.1,-72.9 137.8,-70.8 142.6,-61.9 144.2,-58.9 149.3,-53.5 151.4,-47.5 150.7,-41.9 150.8,-36.1 152.9,-30.8 155.5,-22 153.3,-16.2"/></clipPath><g id="shellBody"><path d="M1 -139.6A185.8 143.6 0 0 1 186.8 4.0A185.8 135.6 0 0 1 1 139.6A185.8 127.6 0 0 1 -184.8 12.0A185.8 151.6 0 0 1 1 -139.6Z" fill="url(#shOut)"/><g clip-path="url(#outClip)"><rect x="-186" y="-141" width="260" height="282" filter="url(#grain2)" opacity=".4"/><ellipse cx="-20" cy="4" rx="54.5" ry="143.5" fill="#5c6426" opacity=".6"/><ellipse cx="-20" cy="4" rx="53" ry="142" fill="url(#shBandL)"/><rect x="-20" y="-141" width="22" height="282" fill="url(#shBandL)"/><rect x="1" y="-141" width="188" height="282" fill="url(#shBandR)"/><rect x="-75" y="-141" width="264" height="282" filter="url(#grain)" opacity=".45" clip-path="url(#faceClip)"/></g></g><g id="cavCells"><path fill="#373c19" stroke="#373c19" stroke-width=".6" d="M-78.5 -134.6L-63.9 -136.7L-62.2 -135.6L-69.3 -123.4L-73.7 -121.4L-79.1 -124.1ZM-38.7 -114.6L-39.9 -124.9L-34 -140.6L-33.7 -140.8L-25.8 -133.5L-25.9 -129.1ZM51.5 -123.7L62.8 -118.5L67.8 -124.1L62.9 -131L56.6 -131.5L53 -130ZM-38.9 -113.9L-38.7 -114.6L-39.9 -124.9L-48.3 -128.2L-46.5 -112.2L-40.5 -113ZM67.8 -124.1L72.8 -123.8L78.8 -112.1L76 -109.2L62.1 -112.4L62.8 -118.5ZM90.2 -112.7L78.8 -112.1L72.8 -123.8L78.5 -130L87.9 -128.7ZM29 31.9L27.3 42.2L35.1 45.8L43.7 38.2L44.6 36.1L44.5 35.6L43.3 35Z"/><path fill="#464b1e" stroke="#464b1e" stroke-width=".6" d="M-54.7 -133.8L-56.5 -119.1L-69.3 -123.4L-62.2 -135.6L-55 -135.3ZM51.5 -123.7L45.5 -117.5L39.2 -118.7L34.4 -129.1L34.2 -132.2L42.7 -138.6L53 -130ZM51.5 -123.7L45.5 -117.5L50.3 -109.5L59.9 -110.2L62.1 -112.4L62.8 -118.5ZM108 71.5L100.4 82.9L99 81.8L92.4 67.3L98.9 62.1L104.3 62.5Z"/><path fill="#3c4119" stroke="#3c4119" stroke-width=".6" d="M-39.9 -124.9L-34 -140.6L-51.9 -138.6L-55 -135.3L-54.7 -133.8L-48.3 -128.2ZM-16.7 -133.5L-25.8 -133.5L-25.9 -129.1L-21.5 -118.3L-10.7 -124.1ZM-7.6 -122.9L-10.7 -124.1L-16.7 -133.5L-13.5 -136.8L0.1 -139.9L4.3 -134.5L1.9 -127.3ZM-7.7 -117.7L3.3 -105.9L6.9 -113.1L7.3 -118.1L1.9 -127.3L-7.6 -122.9ZM-59 3.6L-56.7 17.7L-44.1 16.6L-49 -1.9ZM52.4 58.8L54.6 53.4L63.5 48L67.5 59.8L55.6 63.1ZM75.1 47.5L79.2 54.8L71.5 62.1L67.5 59.8L63.5 48L65.6 45.1L66.6 44.5ZM136.3 70.4L142.3 65.5L137.7 56.2L126.4 57.4L125.7 58ZM165.6 101.9L175.1 92.1L180.2 97.2L177 109.3L167.8 105.8Z"/><path fill="#414619" stroke="#414619" stroke-width=".6" d="M1.9 -127.3L4.3 -134.5L12.3 -135.5L17.2 -133L19.2 -121.5L7.3 -118.1ZM-7.7 -117.7L-15.5 -108L-23 -107.2L-24.3 -109L-21.5 -118.3L-10.7 -124.1L-7.6 -122.9ZM25.7 23.7L18.1 24.5L13.1 39.4L13.7 41L27.3 42.2L29 31.9ZM86.8 67.4L81.8 55.6L92.9 50.1L98.9 62.1L92.4 67.3ZM127.8 82.2L138.2 94.7L136.3 99.5L130.4 100.4L120.3 91.3L118.8 86.3L121 83Z"/><path fill="#374119" stroke="#374119" stroke-width=".6" d="M19.2 -121.5L17.2 -133L28.5 -135.2L34.2 -132.2L34.4 -129.1L21.2 -120ZM156.4 72.5L145.3 64.9L142.3 65.5L136.3 70.4L136 72.4L136.2 75.2L145.8 82.5Z"/><path fill="#282d14" stroke="#282d14" stroke-width=".6" d="M67 -138.1L62.9 -131L67.8 -124.1L72.8 -123.8L78.5 -130L76.9 -134.4ZM174.2 -16.9L168.4 -20.2L157.9 -16.1L159.7 -5.4L175.2 -10ZM25.7 23.7L29 31.9L43.3 35L26.8 23.1ZM160.4 35.7L158.1 54.1L150.1 53.6L144.4 49L142.6 43.9L150.7 34.1L155.2 31.3ZM119.6 70.6L136 72.4L136.2 75.2L127.8 82.2L121 83L118.1 73.2Z"/><path fill="#2d3214" stroke="#2d3214" stroke-width=".6" d="M95.7 -137.1L93.1 -133.7L101.7 -115.3L104.9 -116.7L112.7 -125.6L112.4 -126.3L97.3 -137.1ZM-83.6 -106.3L-72.5 -117L-67.2 -108.8L-69 -104.8L-80.1 -98.8ZM3.3 -105.9L3.1 -104.7L13 -100.1L18.8 -99.9L25.7 -109.6L24.8 -110.6L6.9 -113.1ZM8.6 16L11.3 15.6L12.2 13.2L5 -4.8L2.5 -5.4L-5.7 0.4ZM158.7 21.1L168.3 7.1L172.8 6.9L173.8 7.7L177.7 15.1L173.3 22.6ZM26.8 23.1L27.8 22.1L40.5 18.4L45.9 27.1L44.5 35.6L43.3 35ZM59.4 22.9L63.8 30.1L49.1 36.4L44.6 36.1L44.5 35.6L45.9 27.1L56.3 21.4ZM44.6 36.1L43.7 38.2L54.6 53.4L63.5 48L65.6 45.1L49.1 36.4ZM119.6 70.6L136 72.4L136.3 70.4L125.7 58L122.4 58.6Z"/><path fill="#1e1e0f" stroke="#1e1e0f" stroke-width=".6" d="M131.7 -142.3L126.7 -130.4L135.3 -125.5L140.9 -127.5L142.1 -134.9L133.2 -142ZM142 -113L152.8 -108.5L161.4 -112.6L152.9 -122.7L145.2 -122.1ZM-65.7 -23.6L-75.8 -11.8L-83.2 -21.2L-81.7 -29.3L-78.8 -32L-73.5 -30.3ZM75.1 47.5L87.1 35.9L80.2 27.5L77.6 26.8L67.9 32.4L66.6 44.5ZM113.6 53.8L112 48.2L95.2 43.7L92.9 50.1L98.9 62.1L104.3 62.5Z"/><path fill="#23230f" stroke="#23230f" stroke-width=".6" d="M140.9 -127.5L145.2 -122.1L152.9 -122.7L157.8 -136L153 -138.3L142.1 -134.9ZM116.8 -124.2L122.9 -116.5L121.2 -109.4L111.8 -107.2L104.9 -116.7L112.7 -125.6ZM126.7 -130.4L135.3 -125.5L131 -115.9L122.9 -116.5L116.8 -124.2ZM-40.5 -113L-46.5 -112.2L-50.5 -111.2L-52.5 -96.3L-49.8 -93.8L-38.2 -95.3ZM153.5 -48.1L148.5 -46.4L149.4 -32.7L152.4 -29.8L166.3 -33.3L166.6 -33.7L161.5 -44.6ZM154.9 0.2L143 -9.8L137.2 -7.9L135.2 2.1L150.8 5.2ZM12.2 13.2L11.3 15.6L18.1 24.5L25.7 23.7L26.8 23.1L27.8 22.1L28.2 8.1L22.3 5.3ZM39.1 6.1L28.2 8.1L27.8 22.1L40.5 18.4L42.1 9.7Z"/><path fill="#23280f" stroke="#23280f" stroke-width=".6" d="M163.8 -112.3L168.4 -127.2L166.6 -134.1L159.5 -136.2L157.8 -136L152.9 -122.7L161.4 -112.6ZM168.4 -20.2L166.3 -33.3L152.4 -29.8L152.5 -19.3L157.9 -16.1ZM-31.1 1.3L-27.7 -5.4L-28.5 -7.1L-47.9 -9.5L-48.3 -3.2L-36.7 2.3ZM158 -0.8L159.7 -5.4L175.2 -10L177.8 -6.5L172.8 6.9L168.3 7.1ZM155.3 23.2L149.9 18.1L150.8 5.2L154.9 0.2L158 -0.8L168.3 7.1L158.7 21.1ZM162.6 36.1L174.8 27.5L173.3 22.6L158.7 21.1L155.3 23.2L155.2 31.3L160.4 35.7ZM162.6 36.1L174 43.2L174.2 52.5L163 58.3L158.1 54.1L160.4 35.7Z"/><path fill="#41461e" stroke="#41461e" stroke-width=".6" d="M-72.5 -117L-73.7 -121.4L-69.3 -123.4L-56.5 -119.1L-53.9 -113L-67.2 -108.8ZM7.3 -118.1L19.2 -121.5L21.2 -120L24.8 -110.6L6.9 -113.1ZM120.3 91.3L112.6 103.7L106.2 87.4L118.8 86.3ZM146.1 87.5L138.2 94.7L127.8 82.2L136.2 75.2L145.8 82.5Z"/><path fill="#373c14" stroke="#373c14" stroke-width=".6" d="M-46.5 -112.2L-48.3 -128.2L-54.7 -133.8L-56.5 -119.1L-53.9 -113L-50.5 -111.2ZM162.4 71.4L163 58.3L158.1 54.1L150.1 53.6L145.3 64.9L156.4 72.5Z"/><path fill="#4b501e" stroke="#4b501e" stroke-width=".6" d="M-24.3 -109L-21.5 -118.3L-25.9 -129.1L-38.7 -114.6L-38.9 -113.9ZM-75.1 -9.9L-83.2 -1.8L-84.7 1.2L-78.3 11.2L-74.6 11.7L-66.3 0.8L-68.8 -7.2ZM0.3 19.5L-0.4 20.7L-12.9 27.1L-20.8 19.4L-21 17.5L-15.1 9.1L-11.9 5.7ZM8.6 16L11.3 15.6L18.1 24.5L13.1 39.4L4 35.4L-0.4 20.7L0.3 19.5ZM57.6 82.8L56.6 82.5L54 78.6L56.6 67L71.6 69L72.4 70.4L63 81.9ZM130.4 100.4L123.6 108.1L112.4 104.8L112.6 103.7L120.3 91.3ZM107.6 119.7L107.8 107.6L112.4 104.8L123.6 108.1L124.8 115.2L119.7 122.9Z"/><path fill="#4b5523" stroke="#4b5523" stroke-width=".6" d="M25.7 -109.6L24.8 -110.6L21.2 -120L34.4 -129.1L39.2 -118.7L30 -109.5ZM161.6 89.6L164.1 101.1L154.2 103.2L153.6 91.7Z"/><path fill="#373714" stroke="#373714" stroke-width=".6" d="M101.7 -115.3L93.1 -133.7L87.9 -128.7L90.2 -112.7L93.8 -110.4Z"/><path fill="#28280f" stroke="#28280f" stroke-width=".6" d="M135.3 -125.5L131 -115.9L137.6 -110.9L142 -113L145.2 -122.1L140.9 -127.5ZM158 -0.8L159.7 -5.4L157.9 -16.1L152.5 -19.3L147.9 -16.9L143 -9.8L154.9 0.2Z"/><path fill="#1e230f" stroke="#1e230f" stroke-width=".6" d="M-50.5 -111.2L-53.9 -113L-67.2 -108.8L-69 -104.8L-59.8 -94.3L-52.5 -96.3ZM101.7 -115.3L104.9 -116.7L111.8 -107.2L108.9 -95.4L108.8 -95.4L108.7 -95.4L95.2 -101.8L93.8 -110.4ZM148.5 -46.4L149.4 -32.7L135.2 -29L134.5 -29.8L136 -44L146 -47.6ZM135.2 -29L149.4 -32.7L152.4 -29.8L152.5 -19.3L147.9 -16.9L135.3 -25.8ZM-65.7 -23.6L-75.8 -11.8L-75.1 -9.9L-68.8 -7.2L-65.2 -9.5L-62.1 -22.7ZM-22.7 -22.7L-12.7 -18.9L-15 -1.7L-27.7 -5.4L-28.5 -7.1L-26.7 -20.7ZM150.8 5.2L135.2 2.1L129.9 8.1L139.7 17.5L149.9 18.1ZM155.2 31.3L150.7 34.1L134.3 28L139.7 17.5L149.9 18.1L155.3 23.2ZM66.6 44.5L65.6 45.1L49.1 36.4L63.8 30.1L67.9 32.4Z"/><path fill="#19190a" stroke="#19190a" stroke-width=".6" d="M-23 -107.2L-23.9 -98.1L-36 -94.1L-38.2 -95.3L-40.5 -113L-38.9 -113.9L-24.3 -109ZM18.8 -99.9L25.7 -109.6L30 -109.5L35 -102.9L31.4 -90L27.9 -88.1L23.2 -91.3ZM58.2 -91.4L47.4 -100.9L50.3 -109.5L59.9 -110.2L64.9 -96.6L64.7 -95.9ZM137.6 -110.9L135.8 -100.3L133.6 -98L125 -97.1L121.2 -109.4L122.9 -116.5L131 -115.9ZM-60.6 -34.8L-73.5 -30.3L-65.7 -23.6L-62.1 -22.7L-54.8 -24.9ZM-33.2 -22.9L-26.7 -20.7L-28.5 -7.1L-47.9 -9.5L-48.5 -11L-48 -16.1ZM-5.7 0.4L2.5 -5.4L-2.3 -19.3L-6.1 -20.3L-12.7 -18.9L-15 -1.7L-11.2 2.6ZM11.3 -6.9L21.4 -5.2L22.3 5.3L12.2 13.2L5 -4.8ZM22.3 5.3L28.2 8.1L39.1 6.1L39.4 -5.7L38.4 -7.2L27.1 -10.2L21.4 -5.2ZM55 9.6L56.3 21.4L59.4 22.9L72 14L72 11.6L58.9 8ZM67.9 32.4L63.8 30.1L59.4 22.9L72 14L77.6 26.8Z"/><path fill="#14190a" stroke="#14190a" stroke-width=".6" d="M-23 -107.2L-15.5 -108L-1.1 -101.2L-2.4 -97L-13.6 -91.2L-19.4 -90.6L-23.9 -98.1ZM93.8 -110.4L95.2 -101.8L88.1 -92.6L85.6 -91.3L74.7 -103.9L76 -109.2L78.8 -112.1L90.2 -112.7ZM137.6 -110.9L135.8 -100.3L149.4 -98.6L152.8 -108.5L142 -113ZM-13.6 -36.1L-8.2 -34.1L-6.1 -20.3L-12.7 -18.9L-22.7 -22.7L-21.8 -27.9ZM53.6 9.1L50.9 -5.1L58.3 -9.1L63.1 -7.8L58.9 8L55 9.6ZM89.7 36.8L87.1 35.9L80.2 27.5L87.7 19.7L101.2 22L97.5 27.7ZM103.6 35.4L112.7 30.3L103.7 20.8L101.2 22L97.5 27.7Z"/><path fill="#323714" stroke="#323714" stroke-width=".6" d="M-7.7 -117.7L-15.5 -108L-1.1 -101.2L3.1 -104.7L3.3 -105.9ZM-65.2 -9.5L-48.5 -11L-47.9 -9.5L-48.3 -3.2L-49 -1.9L-59 3.6L-66.3 0.8L-68.8 -7.2ZM-43.3 16.3L-44 16.6L-44.1 16.6L-49 -1.9L-48.3 -3.2L-36.7 2.3ZM-15.1 9.1L-30.7 2.6L-29.7 12.6L-21 17.5ZM8.6 16L-5.7 0.4L-11.2 2.6L-11.9 5.7L0.3 19.5ZM144.4 49L150.1 53.6L145.3 64.9L142.3 65.5L137.7 56.2ZM80.7 73.5L72.4 70.4L71.6 69L71.5 62.1L79.2 54.8L81.8 55.6L86.8 67.4ZM162.4 71.4L156.4 72.5L145.8 82.5L146.1 87.5L153.6 91.7L161.6 89.6L168.7 83.6L163.1 72Z"/><path fill="#282d0f" stroke="#282d0f" stroke-width=".6" d="M35 -102.9L46.6 -100.6L47.4 -100.9L50.3 -109.5L45.5 -117.5L39.2 -118.7L30 -109.5ZM142.6 43.9L150.7 34.1L134.3 28L128.5 31.7L134.7 42.2ZM94.9 42.9L95.2 43.7L92.9 50.1L81.8 55.6L79.2 54.8L75.1 47.5L87.1 35.9L89.7 36.8ZM119.6 70.6L122.4 58.6L113.6 53.8L104.3 62.5L108 71.5L118.1 73.2Z"/><path fill="#191e0f" stroke="#191e0f" stroke-width=".6" d="M64.9 -96.6L59.9 -110.2L62.1 -112.4L76 -109.2L74.7 -103.9Z"/><path fill="#191e0a" stroke="#191e0a" stroke-width=".6" d="M108.9 -95.4L111.8 -107.2L121.2 -109.4L125 -97.1L122.7 -95L115.1 -94.5Z"/><path fill="#14140a" stroke="#14140a" stroke-width=".6" d="M169 -99.7L166.1 -110.3L163.8 -112.3L161.4 -112.6L152.8 -108.5L149.4 -98.6L149.5 -98.6L168.3 -98.8ZM-1.1 -101.2L-2.4 -97L3.4 -84L7.4 -82.6L8 -83.3L13 -100.1L3.1 -104.7ZM11.1 -78.6L8.7 -80L7.4 -82.6L8 -83.3L23.2 -91.3L27.9 -88.1L27.6 -80.4L17.5 -77.1ZM26.9 -61.5L20.1 -62.8L17.5 -77.1L27.6 -80.4L34.7 -70.5L29.3 -62ZM34.7 -70.5L27.6 -80.4L27.9 -88.1L31.4 -90L40.3 -89.2L47.8 -80.5L46.5 -72.9L44.9 -72.3ZM68.6 -74.1L68.2 -76.2L58 -90.5L47.8 -80.5L46.5 -72.9L50.2 -70.7ZM-14.7 -72.6L-19.1 -57.3L-26 -56.1L-33.2 -59.6L-33.1 -66.2L-25.2 -77.4L-22.8 -78.1ZM-10.4 -72.5L0.4 -62.4L-10.3 -51.2L-19.1 -57.3L-14.7 -72.6ZM91 -56.8L101.5 -60.2L99.6 -72.7L84.4 -77.2L77.7 -71.4ZM-59.8 -41.5L-62.1 -44.7L-57.5 -55.2L-50.5 -57.1L-42.8 -53.1L-42.4 -48.6L-48 -40.2ZM26.9 -61.5L20.1 -62.8L14.1 -61.6L8.4 -58.6L9.8 -49.6L14.5 -44.8L20.4 -47.1ZM91 -56.8L101.5 -60.2L103.3 -59.1L105.8 -52.2L98 -41L88.8 -42.6L87.9 -43.6L90.6 -56.3ZM103.3 -59.1L105.8 -52.2L116.9 -40.6L125.9 -48.1L126.6 -57.3L112.9 -62.2ZM133.3 -64.1L126.6 -57.3L125.9 -48.1L136 -44L146 -47.6L143.5 -54ZM143.5 -54L146 -47.6L148.5 -46.4L153.5 -48.1L157.2 -55.3L152.7 -65.4L151.9 -65.8ZM-59.8 -41.5L-48 -40.2L-46.7 -33.1L-53.1 -24.4L-54.8 -24.9L-60.6 -34.8ZM-48 -40.2L-42.4 -48.6L-32.5 -40.2L-37.1 -31.5L-46.7 -33.1ZM-10.3 -51L-15.5 -42.7L-13.6 -36.1L-8.2 -34.1L-1.1 -37.9L-1.2 -43.4ZM31.1 -43.4L26.6 -33.3L39 -29.8L43.5 -35.6L39.6 -46.2L37.9 -47.4ZM78.1 -41.5L87.9 -43.6L88.8 -42.6L90.1 -30.4L80.1 -26L78.9 -26.5L75.6 -34.5ZM90.1 -30.4L88.8 -42.6L98 -41L102.5 -31.2L92.9 -29.5ZM-46.7 -33.1L-37.1 -31.5L-33.2 -22.9L-48 -16.1L-53.1 -24.4ZM11.3 -6.9L12.9 -17.4L2.1 -22.4L-2.3 -19.3L2.5 -5.4L5 -4.8ZM21.9 -23.5L12.9 -17.4L11.3 -6.9L21.4 -5.2L27.1 -10.2L25 -19.7ZM25 -19.7L27.1 -10.2L38.4 -7.2L43.7 -18.5L39.1 -24.5ZM52.2 -18.8L58.3 -9.1L50.9 -5.1L39.4 -5.7L38.4 -7.2L43.7 -18.5L50.1 -19.8ZM53.6 9.1L42.1 9.7L39.1 6.1L39.4 -5.7L50.9 -5.1ZM58.9 8L72 11.6L78.6 3.7L77.4 -3.5L66.8 -8.9L63.1 -7.8ZM53.6 9.1L42.1 9.7L40.5 18.4L45.9 27.1L56.3 21.4L55 9.6ZM103.7 20.8L104.1 18.2L102.7 12L97.3 6.1L87.5 8L87.7 19.7L101.2 22ZM134.3 28L139.7 17.5L129.9 8.1L126.8 8.6L123.1 30.2L128.5 31.7ZM94.9 42.9L95.2 43.7L112 48.2L115.3 41L116.9 32.4L112.7 30.3L103.6 35.4ZM113.6 53.8L112 48.2L115.3 41L130.3 46.9L126.4 57.4L125.7 58L122.4 58.6Z"/><path fill="#0f140a" stroke="#0f140a" stroke-width=".6" d="M-80.1 -98.8L-80.6 -97.3L-76 -87.2L-69.4 -84.4L-66.9 -84.9L-59.8 -94.3L-69 -104.8ZM-25.2 -77.4L-33.1 -66.2L-44.9 -73L-34.5 -82.2ZM-4.1 -80.2L-13.6 -91.2L-19.4 -90.6L-22.8 -78.1L-14.7 -72.6L-10.4 -72.5ZM99.7 -83.2L108.7 -95.4L108.8 -95.4L110 -78.5L100.9 -74.9ZM53.9 -61.9L53.1 -58L43.7 -56.6L44.9 -72.3L46.5 -72.9L50.2 -70.7ZM72.8 -70.5L77.7 -71.4L91 -56.8L90.6 -56.3L77.1 -54.1L69.8 -58.6L69.6 -59.7ZM-42.8 -53.1L-33.2 -59.6L-26 -56.1L-26 -42.9L-28.4 -40.5L-32.5 -40.2L-42.4 -48.6ZM0.9 -62.4L8.4 -58.6L9.8 -49.6L-1.2 -43.4L-10.3 -51L-10.3 -51.2L0.4 -62.4ZM77.1 -54.1L77.9 -41.8L64.1 -48.5L69.8 -58.6ZM90.6 -56.3L87.9 -43.6L78.1 -41.5L77.9 -41.8L77.1 -54.1ZM153.5 -48.1L157.2 -55.3L165.9 -58.6L172.2 -52L161.5 -44.6ZM43.5 -35.6L51.8 -33.4L59.6 -36.2L59.9 -45.8L54.2 -49.5L39.6 -46.2ZM102.5 -31.2L105.2 -30.1L108 -29.7L109.5 -29.9L116.8 -39.3L116.9 -40.6L105.8 -52.2L98 -41ZM39 -29.8L39.1 -24.5L25 -19.7L21.9 -23.5L20.5 -29.6L26.6 -33.3ZM39 -29.8L39.1 -24.5L43.7 -18.5L50.1 -19.8L51.8 -33.4L43.5 -35.6ZM60.1 -35.7L75.6 -34.5L78.9 -26.5L68.2 -20.5L62.8 -24.8ZM122.7 -23.4L128 -31.3L134.5 -29.8L135.2 -29L135.3 -25.8L132 -18.9ZM62.8 -24.8L68.2 -20.5L66.8 -8.9L63.1 -7.8L58.3 -9.1L52.2 -18.8ZM115.5 -16L104.7 -7.3L100.7 -7L99.2 -8.5L108 -29.7L109.5 -29.9L115 -20.3ZM115.5 -16L122.1 -11.5L131.3 -13.3L132 -18.9L122.7 -23.4L115 -20.3ZM77.6 26.8L72 14L72 11.6L78.6 3.7L87.5 8L87.7 19.7L80.2 27.5ZM120.4 3.5L125 7.9L116.1 14.7L104.1 18.2L102.7 12L116.3 2.9Z"/><path fill="#0f0f05" stroke="#0f0f05" stroke-width=".6" d="M-52.5 -75.4L-48.3 -84.6L-49.8 -93.8L-52.5 -96.3L-59.8 -94.3L-66.9 -84.9L-52.6 -75.4ZM-36 -94.1L-36.1 -84.4L-48.3 -84.6L-49.8 -93.8L-38.2 -95.3ZM-36 -94.1L-36.1 -84.4L-34.5 -82.2L-25.2 -77.4L-22.8 -78.1L-19.4 -90.6L-23.9 -98.1ZM-4.1 -80.2L3.4 -84L-2.4 -97L-13.6 -91.2ZM31.4 -90L35 -102.9L46.6 -100.6L40.3 -89.2ZM68.2 -76.2L58 -90.5L58.2 -91.4L64.7 -95.9L74.3 -89.3ZM74.3 -89.3L84.6 -90.1L85.6 -91.3L74.7 -103.9L64.9 -96.6L64.7 -95.9ZM88.1 -92.6L95.2 -101.8L108.7 -95.4L99.7 -83.2ZM124.2 -85.1L122.7 -95L125 -97.1L133.6 -98L140.7 -83.1L140.4 -82.5ZM140.7 -83.1L133.6 -98L135.8 -100.3L149.4 -98.6L149.5 -98.6L151.7 -88.4ZM-71 -70.4L-75.1 -69.6L-85.8 -73.2L-83.8 -80L-76 -87.2L-69.4 -84.4ZM-52.6 -75.4L-66.9 -84.9L-69.4 -84.4L-71 -70.4L-66.4 -66.2ZM-4.1 -80.2L3.4 -84L7.4 -82.6L8.7 -80L0.9 -62.4L0.4 -62.4L-10.4 -72.5ZM72.8 -70.5L77.7 -71.4L84.4 -77.2L84.6 -90.1L74.3 -89.3L68.2 -76.2L68.6 -74.1ZM85.6 -91.3L84.6 -90.1L84.4 -77.2L99.6 -72.7L100.9 -74.9L99.7 -83.2L88.1 -92.6ZM121.5 -76L120.1 -75.7L115 -77.9L115.1 -94.5L122.7 -95L124.2 -85.1ZM147.6 -70.7L162.3 -82.9L161.7 -84.5L151.7 -88.4L140.7 -83.1L140.4 -82.5L139.6 -73.2ZM151.9 -65.8L152.7 -65.4L166.9 -69.6L169.6 -73.7L169.5 -75.4L162.3 -82.9L147.6 -70.7ZM-65.8 -61L-75.8 -54.6L-79 -55.6L-80.4 -57.1L-75.1 -69.6L-71 -70.4L-66.4 -66.2ZM-50.5 -57.1L-50.6 -73.4L-52.5 -75.4L-52.6 -75.4L-66.4 -66.2L-65.8 -61L-57.5 -55.2ZM11.1 -78.6L8.7 -80L0.9 -62.4L8.4 -58.6L14.1 -61.6ZM11.1 -78.6L14.1 -61.6L20.1 -62.8L17.5 -77.1ZM29.3 -62L34.7 -70.5L44.9 -72.3L43.7 -56.6L37.4 -49.4ZM72.8 -70.5L69.6 -59.7L53.9 -61.9L50.2 -70.7L68.6 -74.1ZM134.1 -68.9L121.5 -76L120.1 -75.7L112.9 -62.2L126.6 -57.3L133.3 -64.1ZM134.1 -68.9L139.6 -73.2L147.6 -70.7L151.9 -65.8L143.5 -54L133.3 -64.1ZM157.2 -55.3L152.7 -65.4L166.9 -69.6L165.9 -58.6ZM-62.1 -44.7L-71.2 -44.4L-75.8 -54.6L-65.8 -61L-57.5 -55.2ZM-10.3 -51L-15.5 -42.7L-26 -42.9L-26 -56.1L-19.1 -57.3L-10.3 -51.2ZM26.9 -61.5L20.4 -47.1L31.1 -43.4L37.9 -47.4L37.4 -49.4L29.3 -62ZM37.9 -47.4L39.6 -46.2L54.2 -49.5L53.1 -58L43.7 -56.6L37.4 -49.4ZM53.9 -61.9L53.1 -58L54.2 -49.5L59.9 -45.8L64.1 -48.5L69.8 -58.6L69.6 -59.7ZM-59.8 -41.5L-62.1 -44.7L-71.2 -44.4L-78.4 -34.8L-78.8 -32L-73.5 -30.3L-60.6 -34.8ZM9.8 -49.6L-1.2 -43.4L-1.1 -37.9L7.3 -31.1L14.6 -33.3L14.5 -44.8ZM20.4 -47.1L14.5 -44.8L14.6 -33.3L20.5 -29.6L26.6 -33.3L31.1 -43.4ZM161.5 -44.6L166.6 -33.7L174.8 -36.3L176.4 -51L176.3 -51.1L172.2 -52ZM-28.4 -40.5L-32.5 -40.2L-37.1 -31.5L-33.2 -22.9L-26.7 -20.7L-22.7 -22.7L-21.8 -27.9ZM21.9 -23.5L12.9 -17.4L2.1 -22.4L7.3 -31.1L14.6 -33.3L20.5 -29.6ZM59.6 -36.2L51.8 -33.4L50.1 -19.8L52.2 -18.8L62.8 -24.8L60.1 -35.7ZM90.1 -30.4L80.1 -26L86.2 -12.1L93.2 -12.1L94.1 -15.1L92.9 -29.5ZM92.9 -29.5L94.1 -15.1L105.2 -30.1L102.5 -31.2ZM66.8 -8.9L77.4 -3.5L86.2 -12.1L80.1 -26L78.9 -26.5L68.2 -20.5ZM93.2 -12.1L99.2 -8.5L108 -29.7L105.2 -30.1L94.1 -15.1ZM103.7 20.8L104.1 18.2L116.1 14.7L118.9 31.4L116.9 32.4L112.7 30.3Z"/><path fill="#0a0f05" stroke="#0a0f05" stroke-width=".6" d="M13 -100.1L8 -83.3L23.2 -91.3L18.8 -99.9ZM134.5 -29.8L136 -44L125.9 -48.1L116.9 -40.6L116.8 -39.3L128 -31.3ZM125 7.9L116.1 14.7L118.9 31.4L123.1 30.2L126.8 8.6Z"/><path fill="#0f1405" stroke="#0f1405" stroke-width=".6" d="M47.8 -80.5L58 -90.5L58.2 -91.4L47.4 -100.9L46.6 -100.6L40.3 -89.2ZM115 -77.9L115.1 -94.5L108.9 -95.4L108.8 -95.4L110 -78.5ZM161.7 -84.5L168.3 -98.8L149.5 -98.6L151.7 -88.4ZM-34.5 -82.2L-36.1 -84.4L-48.3 -84.6L-52.5 -75.4L-50.6 -73.4L-44.9 -73ZM134.1 -68.9L121.5 -76L124.2 -85.1L140.4 -82.5L139.6 -73.2ZM-33.1 -66.2L-33.2 -59.6L-42.8 -53.1L-50.5 -57.1L-50.6 -73.4L-44.9 -73ZM99.6 -72.7L101.5 -60.2L103.3 -59.1L112.9 -62.2L120.1 -75.7L115 -77.9L110 -78.5L100.9 -74.9ZM-28.4 -40.5L-21.8 -27.9L-13.6 -36.1L-15.5 -42.7L-26 -42.9ZM59.6 -36.2L59.9 -45.8L64.1 -48.5L77.9 -41.8L78.1 -41.5L75.6 -34.5L60.1 -35.7ZM-8.2 -34.1L-6.1 -20.3L-2.3 -19.3L2.1 -22.4L7.3 -31.1L-1.1 -37.9ZM115 -20.3L109.5 -29.9L116.8 -39.3L128 -31.3L122.7 -23.4ZM93.2 -12.1L86.2 -12.1L77.4 -3.5L78.6 3.7L87.5 8L97.3 6.1L100.7 -7L99.2 -8.5ZM116.3 2.9L102.7 12L97.3 6.1L100.7 -7L104.7 -7.3ZM115.5 -16L104.7 -7.3L116.3 2.9L120.4 3.5L122.1 -11.5ZM122.1 -11.5L120.4 3.5L125 7.9L126.8 8.6L129.9 8.1L135.2 2.1L137.2 -7.9L131.3 -13.3ZM94.9 42.9L89.7 36.8L97.5 27.7L103.6 35.4ZM115.3 41L116.9 32.4L118.9 31.4L123.1 30.2L128.5 31.7L134.7 42.2L130.3 46.9Z"/><path fill="#2d2d14" stroke="#2d2d14" stroke-width=".6" d="M-54.8 -24.9L-62.1 -22.7L-65.2 -9.5L-48.5 -11L-48 -16.1L-53.1 -24.4ZM132 -18.9L135.3 -25.8L147.9 -16.9L143 -9.8L137.2 -7.9L131.3 -13.3ZM-11.9 5.7L-15.1 9.1L-30.7 2.6L-31.1 1.3L-27.7 -5.4L-15 -1.7L-11.2 2.6Z"/><path fill="#5a5f28" stroke="#5a5f28" stroke-width=".6" d="M-65.9 21.5L-74.6 11.7L-66.3 0.8L-59 3.6L-56.7 17.7L-59.8 20.1ZM-84.1 84.5L-83.2 94.9L-78.5 98.3L-76.7 98L-64.8 89L-64.8 85.7L-71.8 76.6L-73.2 75.8ZM-8.1 108.7L-14.5 115.8L-15.9 115.7L-24.4 105.3L-11.7 99.4ZM80.2 101.3L82.4 92.8L96.9 93.4L98.2 102.7L88.1 111.3L84.9 111ZM59.2 117.9L56 122.2L42.3 115L42.9 107.4L47.8 101.8L48.5 102ZM107.6 119.7L107.8 107.6L98.2 102.7L88.1 111.3L91.4 115.6L99.2 119.6L106.9 120.3Z"/><path fill="#414b1e" stroke="#414b1e" stroke-width=".6" d="M-30.7 2.6L-31.1 1.3L-36.7 2.3L-43.3 16.3L-29.7 12.6Z"/><path fill="#64692d" stroke="#64692d" stroke-width=".6" d="M-87.3 19.4L-88.2 28.3L-78.3 34.5L-66.4 22.3L-65.9 21.5L-74.6 11.7L-78.3 11.2L-87.1 19ZM43.1 75.6L35.1 83.9L30.3 83.2L22.7 74.2L33.4 66.9L41.1 71.5ZM64.4 101.8L48.5 102L59.2 117.9L65.6 113.1L64.8 102.3ZM2 102.5L5.1 109.1L0.3 118.7L-5.3 120.3L-14.5 115.8L-8.1 108.7ZM76.4 128.1L56 122.4L56 122.2L59.2 117.9L65.6 113.1L76.6 117.8L77.1 127.9ZM82.4 133.5L88.4 132.7L91.4 115.6L88.1 111.3L84.9 111L76.6 117.8L77.1 127.9ZM158.9 114.4L161.2 121.4L154 129.7L146.3 125.7L146.3 108.2L151.6 107.4Z"/><path fill="#7d8237" stroke="#7d8237" stroke-width=".6" d="M-65.9 21.5L-59.8 20.1L-52 34.5L-60.4 38.3L-66.4 22.3ZM-28 65.9L-41.8 72.3L-44.3 70.2L-41 58.1L-28.9 56.5L-25.9 61ZM-20.9 80.5L-15 62.1L-25.9 61L-28 65.9L-23.8 79.6ZM-4.9 70.9L5.2 62.3L0.8 53L-9.7 54.3L-13.8 61.9L-5.3 71.1Z"/><path fill="#69732d" stroke="#69732d" stroke-width=".6" d="M-59.8 20.1L-56.7 17.7L-44.1 16.6L-44 16.6L-40.6 25.7L-49.7 35L-52 34.5ZM-4.9 70.9L5.2 62.3L11.6 64.7L6.5 72.8ZM-26.2 100.8L-38.8 86L-39 85.6L-38.1 83.3L-23.8 79.6L-20.9 80.5L-16.9 83.6Z"/><path fill="#6e7332" stroke="#6e7332" stroke-width=".6" d="M-21 17.5L-20.8 19.4L-32.7 30.2L-40.6 25.7L-44 16.6L-43.3 16.3L-29.7 12.6ZM56.6 82.5L54 78.6L43.1 75.6L35.1 83.9L39.9 91.6L46.1 94.4ZM-55.4 96.1L-64.8 89L-64.8 85.7L-56.5 79.5L-43.8 87ZM16.9 94.3L12.2 83.2L21 73.8L22.7 74.2L30.3 83.2L21.6 96.7ZM1.9 101L-4.1 93.5L-11.7 99.4L-8.1 108.7L2 102.5Z"/><path fill="#82873c" stroke="#82873c" stroke-width=".6" d="M-12.9 27.1L-20.8 19.4L-32.7 30.2L-32.4 31.3L-17.1 38.9L-12.7 31.2ZM-86.1 48.6L-83 55.9L-75.6 59.2L-74 58.3L-71.2 40.9L-78.3 34.8ZM-45.5 43.8L-60.6 45.9L-59.8 57.9L-59.8 57.9L-46 52L-44.5 44.8ZM-23.8 79.6L-28 65.9L-41.8 72.3L-38.1 83.3Z"/><path fill="#5f6428" stroke="#5f6428" stroke-width=".6" d="M-0.4 20.7L-12.9 27.1L-12.7 31.2L-1.5 36.5L4 35.4ZM49 59.2L41.1 71.5L43.1 75.6L54 78.6L56.6 67L55.6 63.1L52.4 58.8ZM63 81.9L72.4 70.4L80.7 73.5L82 80.1L79 87.6L74.8 87.7ZM-38.8 86L-41.9 99.8L-53.5 104.4L-55.4 96.1L-43.8 87L-39 85.6ZM-62 111.4L-76.7 98L-78.5 98.3L-81.6 108.3L-72.5 115.8L-64.6 114.5ZM-53.5 104.4L-54 108.5L-51 111.4L-35.7 112.6L-29.9 106.8L-41.9 99.8ZM-25.7 104.6L-29.9 106.8L-41.9 99.8L-38.8 86L-26.2 100.8ZM46.1 94.4L39.9 91.6L27 101.7L42.9 107.4L47.8 101.8ZM-64.3 119.6L-64.6 114.5L-72.5 115.8L-76.6 122.9L-69.7 128.6ZM33.1 124.9L27.7 124.5L24.7 122.2L22.8 105.6L24.1 103.4L37.3 118.9Z"/><path fill="#787d37" stroke="#787d37" stroke-width=".6" d="M-66.4 22.3L-78.3 34.5L-78.3 34.8L-71.2 40.9L-62.8 41.8L-60.4 38.3ZM-14.6 45.3L-9.7 54.3L0.8 53L1.1 52.6L-4.1 41.8ZM11.6 64.7L15.3 64.9L18.9 57.8L13.5 41.9L1.1 52.6L0.8 53L5.2 62.3ZM-59.8 57.9L-74 58.3L-75.6 59.2L-76.5 69.9L-73.2 75.8L-71.8 76.6L-56.8 65.6L-59.8 57.9Z"/><path fill="#8c9141" stroke="#8c9141" stroke-width=".6" d="M-45.5 43.8L-49.7 35L-52 34.5L-60.4 38.3L-62.8 41.8L-60.6 45.9ZM-28.2 48.9L-17.1 43L-17.1 38.9L-32.4 31.3L-35.3 42.5Z"/><path fill="#878c41" stroke="#878c41" stroke-width=".6" d="M-45.5 43.8L-49.7 35L-40.6 25.7L-32.7 30.2L-32.4 31.3L-35.3 42.5L-44.5 44.8ZM-25.9 61L-28.9 56.5L-28.2 48.9L-17.1 43L-14.6 45.3L-9.7 54.3L-13.8 61.9L-15 62.1ZM-46 52L-41 58.1L-44.3 70.2L-52.5 69.6L-56.8 65.6L-59.8 57.9Z"/><path fill="#737832" stroke="#737832" stroke-width=".6" d="M-1.5 36.5L-4.1 41.8L-14.6 45.3L-17.1 43L-17.1 38.9L-12.7 31.2ZM-59.8 57.9L-74 58.3L-71.2 40.9L-62.8 41.8L-60.6 45.9ZM-56.8 65.6L-52.5 69.6L-56.5 79.5L-64.8 85.7L-71.8 76.6ZM-5.3 71.1L-13.8 61.9L-15 62.1L-20.9 80.5L-16.9 83.6L-6.4 84ZM1.9 101L16.9 94.3L12.2 83.2L6.6 82.6L-5.3 85L-4.1 93.5ZM1.9 101L16.9 94.3L21.6 96.7L24.6 101.9L24.1 103.4L22.8 105.6L12.2 110.7L5.1 109.1L2 102.5Z"/><path fill="#696e2d" stroke="#696e2d" stroke-width=".6" d="M4 35.4L-1.5 36.5L-4.1 41.8L1.1 52.6L13.5 41.9L13.7 41L13.1 39.4ZM-39 85.6L-43.8 87L-56.5 79.5L-52.5 69.6L-44.3 70.2L-41.8 72.3L-38.1 83.3ZM-11.7 99.4L-24.4 105.3L-25.7 104.6L-26.2 100.8L-16.9 83.6L-6.4 84L-5.3 85L-4.1 93.5ZM57.6 82.8L56.6 82.5L46.1 94.4L47.8 101.8L48.5 102L64.4 101.8L64.5 101.2ZM88.4 132.7L91.4 115.6L99.2 119.6L90.6 133.2Z"/><path fill="#96964b" stroke="#96964b" stroke-width=".6" d="M-44.5 44.8L-35.3 42.5L-28.2 48.9L-28.9 56.5L-41 58.1L-46 52Z"/><path fill="#555f23" stroke="#555f23" stroke-width=".6" d="M27.3 42.2L13.7 41L13.5 41.9L18.9 57.8L33.7 55.6L35.1 53.9L35.1 45.8ZM136.6 121.7L134.7 117L124.8 115.2L119.7 122.9L122.9 130.6L123.3 130.8Z"/><path fill="#3c4619" stroke="#3c4619" stroke-width=".6" d="M49 59.2L35.1 53.9L35.1 45.8L43.7 38.2L54.6 53.4L52.4 58.8ZM118.1 73.2L121 83L118.8 86.3L106.2 87.4L101.5 86.3L100.4 82.9L108 71.5Z"/><path fill="#323214" stroke="#323214" stroke-width=".6" d="M130.3 46.9L134.7 42.2L142.6 43.9L144.4 49L137.7 56.2L126.4 57.4Z"/><path fill="#505523" stroke="#505523" stroke-width=".6" d="M21 73.8L15.3 64.9L18.9 57.8L33.7 55.6L33.4 66.9L22.7 74.2ZM98.2 102.7L107.8 107.6L112.4 104.8L112.6 103.7L106.2 87.4L101.5 86.3L96.9 93.4ZM136.3 99.5L130.4 100.4L123.6 108.1L124.8 115.2L134.7 117L142 106.8ZM146.1 87.5L138.2 94.7L136.3 99.5L142 106.8L146.3 108.2L151.6 107.4L154.2 103.2L153.6 91.7ZM164.1 101.1L154.2 103.2L151.6 107.4L158.9 114.4L167.8 105.8L165.6 101.9ZM167.8 105.8L177 109.3L177.6 110.9L170.3 121.3L169.2 121.6L161.2 121.4L158.9 114.4ZM40.2 136.2L55.4 126.4L56 122.4L56 122.2L42.3 115L37.3 118.9L33.1 124.9L39.9 135.9Z"/><path fill="#555a23" stroke="#555a23" stroke-width=".6" d="M49 59.2L35.1 53.9L33.7 55.6L33.4 66.9L41.1 71.5ZM55.6 63.1L67.5 59.8L71.5 62.1L71.6 69L56.6 67ZM57.6 82.8L64.5 101.2L74.8 87.7L63 81.9ZM64.5 101.2L64.4 101.8L64.8 102.3L80.2 101.3L82.4 92.8L79 87.6L74.8 87.7ZM82 80.1L79 87.6L82.4 92.8L96.9 93.4L101.5 86.3L100.4 82.9L99 81.8ZM168.7 83.6L172 85.2L175.1 92.1L165.6 101.9L164.1 101.1L161.6 89.6Z"/><path fill="#5a6428" stroke="#5a6428" stroke-width=".6" d="M-4.9 70.9L6.5 72.8L6.6 82.6L-5.3 85L-6.4 84L-5.3 71.1ZM-24.4 105.3L-15.9 115.7L-22.9 128.6L-34.8 121.5L-35.7 112.6L-29.9 106.8L-25.7 104.6Z"/><path fill="#7d873c" stroke="#7d873c" stroke-width=".6" d="M6.5 72.8L11.6 64.7L15.3 64.9L21 73.8L12.2 83.2L6.6 82.6Z"/><path fill="#505a23" stroke="#505a23" stroke-width=".6" d="M80.7 73.5L86.8 67.4L92.4 67.3L99 81.8L82 80.1ZM136.6 121.7L134.7 117L142 106.8L146.3 108.2L146.3 125.7L142 125.9Z"/><path fill="#646928" stroke="#646928" stroke-width=".6" d="M39.9 91.6L35.1 83.9L30.3 83.2L21.6 96.7L24.6 101.9L27 101.7ZM-38.9 125.4L-34.8 121.5L-35.7 112.6L-51 111.4L-50.3 121.6Z"/><path fill="#646e2d" stroke="#646e2d" stroke-width=".6" d="M-53.5 104.4L-54 108.5L-62 111.4L-76.7 98L-64.8 89L-55.4 96.1ZM37.3 118.9L24.1 103.4L24.6 101.9L27 101.7L42.9 107.4L42.3 115ZM9.2 126.5L0.3 118.7L5.1 109.1L12.2 110.7L15.3 121.8Z"/><path fill="#5a5f23" stroke="#5a5f23" stroke-width=".6" d="M64.8 102.3L80.2 101.3L84.9 111L76.6 117.8L65.6 113.1ZM-54.6 130.5L-64.3 119.6L-64.6 114.5L-62 111.4L-54 108.5L-51 111.4L-50.3 121.6ZM24.7 122.2L15.3 121.8L12.2 110.7L22.8 105.6Z"/></g><g id="cavity" clip-path="url(#cavClip)"><rect x="-65" y="-125" width="225" height="240" fill="#14170a"/><use href="#cavCells"/></g><linearGradient id="fl0" x1="0" y1="0" x2="1" y2="1"><stop offset="0" stop-color="#968bae"/><stop offset=".55" stop-color="#7f729c"/><stop offset="1" stop-color="#746693"/></linearGradient><linearGradient id="fl1" x1="0" y1="0" x2="1" y2="1"><stop offset="0" stop-color="#a095b9"/><stop offset=".55" stop-color="#8b7eaa"/><stop offset="1" stop-color="#7c6f9c"/></linearGradient><linearGradient id="fl2" x1="0" y1="0" x2="1" y2="1"><stop offset="0" stop-color="#aa9fc2"/><stop offset=".55" stop-color="#978ab5"/><stop offset="1" stop-color="#8577a4"/></linearGradient><linearGradient id="fl3" x1="0" y1="0" x2="1" y2="1"><stop offset="0" stop-color="#b3a8cb"/><stop offset=".55" stop-color="#a295bf"/><stop offset="1" stop-color="#8c7fab"/></linearGradient><linearGradient id="fl4" x1="0" y1="0" x2="1" y2="1"><stop offset="0" stop-color="#bab0d1"/><stop offset=".55" stop-color="#ab9fc7"/><stop offset="1" stop-color="#9386b1"/></linearGradient><linearGradient id="fl5" x1="0" y1="0" x2="1" y2="1"><stop offset="0" stop-color="#c2b8d7"/><stop offset=".55" stop-color="#b4a9ce"/><stop offset="1" stop-color="#998db6"/></linearGradient><linearGradient id="fl6" x1="0" y1="0" x2="1" y2="1"><stop offset="0" stop-color="#cac2dd"/><stop offset=".55" stop-color="#beb4d6"/><stop offset="1" stop-color="#a094bb"/></linearGradient><linearGradient id="fl7" x1="0" y1="0" x2="1" y2="1"><stop offset="0" stop-color="#d4cee6"/><stop offset=".55" stop-color="#cbc3e0"/><stop offset="1" stop-color="#a99fc2"/></linearGradient><g id="flakes"><polygon points="200.7,0 204.1,17.2 201.6,34.4 188.2,49.2 181,65.2 178.6,83.9 156.3,93.2 141.9,106.1 131.7,123.5 110.1,131 88.4,137.3 67.9,145.1 46.2,151.3 22.7,150.5 0,150.1 -23.4,155.4 -46.2,151.3 -67.9,145.1 -90.9,141.1 -109.6,130.5 -131.9,123.7 -142.6,106.6 -161.2,96.1 -173.8,81.6 -183.4,66 -195,51 -197,33.6 -208,17.5 -210.2,0 -199.4,-16.8 -199.9,-34.1 -191.2,-50 -180.3,-64.9 -178.3,-83.7 -159.9,-95.3 -142.1,-106.2 -129.5,-121.4 -107.3,-127.6 -91.4,-141.9 -66.7,-142.4 -44.4,-145.4 -22.6,-149.8 0,-152.1 23,-152.3 46.9,-153.6 68.7,-146.8 88.2,-137 106,-126.1 125.4,-117.5 149.8,-112 160.2,-95.5 176,-82.7 179.9,-64.8 188.3,-49.3 204.6,-34.9 205.3,-17.3" fill="#7d7099"/><g stroke="#d6cee8" stroke-width=".9" stroke-linejoin="round" stroke-opacity=".75"><path fill="#7f729c" d="M-205.9 34L-202.4 22.7L-190.4 19.5L-182.4 30.3L-186.8 36.1L-202.1 40.1Z"/><path fill="url(#fl6)" d="M-207.1 30.7L-203.5 19.4L-191.6 16.2L-183.5 27L-187.9 32.8L-203.3 36.8Z"/><path fill="#6c5f8a" d="M-2.4 -150.8L16.2 -147.8L22.1 -124.8L4.3 -119.3L-6.6 -137.5Z"/><path fill="url(#fl2)" d="M-7.6 -154L11.1 -151L17 -128L-0.9 -122.5L-11.7 -140.7Z"/><path fill="#7f729c" d="M32.5 0.7L17.5 -5.7L22.7 -24.3L36 -14.9Z"/><path fill="url(#fl6)" d="M31.2 -4.7L16.2 -11.1L21.4 -29.7L34.7 -20.3Z"/><path fill="#766994" d="M59.3 -45.1L69 -58.7L90.5 -60.8L81.8 -45.5Z"/><path fill="url(#fl4)" d="M56.8 -49.7L66.5 -63.4L88 -65.5L79.4 -50.2Z"/><path fill="#766994" d="M31.5 -50.2L18.8 -45.5L5.8 -54.2L-0.2 -67.6L13.3 -71.3L33.8 -62.2Z"/><path fill="url(#fl5)" d="M30.3 -53.4L17.6 -48.6L4.6 -57.3L-1.4 -70.7L12.1 -74.5L32.6 -65.4Z"/><path fill="#766994" d="M-15.7 84.5L-21.1 72L-13.1 52.1L1.4 55L-0.4 75.3Z"/><path fill="url(#fl4)" d="M-19.2 80.9L-24.6 68.4L-16.7 48.4L-2.1 51.4L-3.9 71.7Z"/><path fill="#766994" d="M59.2 -136.5L73.7 -128.7L66 -109.4L53.5 -122.4Z"/><path fill="url(#fl4)" d="M54.8 -139.4L69.3 -131.5L61.6 -112.2L49.1 -125.2Z"/><path fill="#766994" d="M98 51.8L93.3 24.5L114.7 16.2L116.8 38Z"/><path fill="url(#fl4)" d="M95 48.8L90.3 21.6L111.7 13.2L113.8 35Z"/><path fill="#6c5f8a" d="M-19 -57.9L-31.8 -57.1L-39.3 -62.1L-42.2 -74.9L-31.3 -79.8L-18.4 -70.1Z"/><path fill="url(#fl3)" d="M-22 -59.4L-34.8 -58.6L-42.3 -63.6L-45.2 -76.4L-34.3 -81.3L-21.4 -71.7Z"/><path fill="#766994" d="M80.4 -45.7L66.3 -42.4L43.3 -51.3L46.5 -64.2L69.8 -59.8Z"/><path fill="url(#fl5)" d="M78.7 -51.9L64.6 -48.6L41.6 -57.5L44.8 -70.4L68.1 -66.1Z"/><path fill="#6c5f8a" d="M-29.2 -4.7L-14.5 -11.1L10.6 -1.4L-3.9 5.4Z"/><path fill="url(#fl2)" d="M-33.5 -8.9L-18.8 -15.3L6.3 -5.6L-8.3 1.2Z"/><path fill="#7f729c" d="M-153.4 -23.5L-150.8 -36.5L-140.9 -41L-128.8 -33L-131.2 -24.9L-145.1 -19.8Z"/><path fill="url(#fl7)" d="M-156.1 -26.2L-153.5 -39.2L-143.6 -43.6L-131.5 -35.7L-133.9 -27.5L-147.9 -22.5Z"/><path fill="#6c5f8a" d="M-176.4 47.1L-164.6 43.2L-147.8 60.4L-162.8 60.8Z"/><path fill="url(#fl2)" d="M-179.4 42.6L-167.6 38.6L-150.8 55.9L-165.8 56.2Z"/><path fill="#6c5f8a" d="M-93.8 -128.3L-84.3 -117.8L-88.2 -103.8L-96.6 -111.7Z"/><path fill="url(#fl3)" d="M-95.3 -132.2L-85.7 -121.6L-89.6 -107.6L-98 -115.5Z"/><path fill="#6c5f8a" d="M160.4 84.9L155.2 94.7L142.5 97.7L136.3 93.1L141.2 82.4L151.3 79.5Z"/><path fill="url(#fl2)" d="M157.5 83.2L152.2 93L139.6 96L133.3 91.4L138.2 80.7L148.3 77.8Z"/><path fill="#6c5f8a" d="M-200.1 50.1L-176.3 45L-163.3 63.4L-188.1 66.3Z"/><path fill="url(#fl2)" d="M-201.2 46.4L-177.5 41.3L-164.4 59.7L-189.3 62.6Z"/><path fill="#7f729c" d="M201.8 33.5L183.2 21.9L185.7 5.1L203.4 -1.2L211.1 18.7Z"/><path fill="url(#fl7)" d="M200.1 27.6L181.4 16L184 -0.8L201.7 -7.1L209.3 12.8Z"/><path fill="#63567f" d="M-0.6 85.9L0.9 77.7L13.5 69.6L17.1 77.3L8 86.5Z"/><path fill="url(#fl0)" d="M-3.3 80.8L-1.8 72.6L10.8 64.5L14.4 72.2L5.3 81.4Z"/><path fill="#7f729c" d="M127.8 -17.5L116.6 -35.7L122.8 -56.1L137.1 -61.5L139.6 -29.8Z"/><path fill="url(#fl6)" d="M126.2 -21L114.9 -39.3L121.1 -59.6L135.4 -65L137.9 -33.3Z"/><path fill="#766994" d="M-57 115.4L-67.8 117.1L-79 110.2L-77.7 104.1L-62.4 109.4Z"/><path fill="url(#fl5)" d="M-60.2 114.3L-71 116L-82.2 109.1L-80.9 103L-65.6 108.3Z"/><path fill="#7f729c" d="M-63.1 -128.4L-43.6 -133.5L-34.9 -107.4L-49.5 -97.2L-66.1 -113.6Z"/><path fill="url(#fl7)" d="M-64.1 -131.8L-44.6 -136.9L-35.9 -110.8L-50.5 -100.6L-67.2 -117Z"/><path fill="#766994" d="M-5.4 -90L-13 -92.4L-18.8 -110.2L-15 -123.8L-4.1 -114.8L-0.7 -99.7Z"/><path fill="url(#fl4)" d="M-9.3 -92.2L-16.9 -94.6L-22.6 -112.4L-18.9 -126L-8 -117L-4.6 -101.8Z"/><path fill="#7f729c" d="M-81.3 66.4L-79.6 59.3L-66 53.1L-53.8 57L-61.8 67.9L-71.6 71.2Z"/><path fill="url(#fl6)" d="M-82 62.9L-80.3 55.8L-66.7 49.6L-54.5 53.5L-62.5 64.4L-72.3 67.7Z"/><path fill="#7f729c" d="M-46.2 91.6L-65.5 68.7L-58.8 56L-40.7 75Z"/><path fill="url(#fl7)" d="M-50.3 87.3L-69.6 64.4L-62.9 51.7L-44.7 70.7Z"/><path fill="#766994" d="M-52.4 30.7L-58.9 18.5L-44.5 -1.8L-32.4 6.8L-35.5 22.7Z"/><path fill="url(#fl5)" d="M-57.3 27.4L-63.8 15.2L-49.4 -5.1L-37.3 3.5L-40.4 19.4Z"/><path fill="#63567f" d="M-93.5 138L-95.2 126L-83.4 115.5L-74.6 118.5L-76.3 127.8L-83 135.5Z"/><path fill="url(#fl0)" d="M-97.8 136L-99.6 124.1L-87.7 113.6L-78.9 116.6L-80.7 125.8L-87.3 133.6Z"/><path fill="#6c5f8a" d="M-189.1 -28.4L-179.8 -38L-156.9 -32.6L-153.6 -18.9L-176.9 -13.8Z"/><path fill="url(#fl3)" d="M-190.5 -31.4L-181.1 -41L-158.3 -35.7L-155 -22L-178.3 -16.8Z"/><path fill="#6c5f8a" d="M-43.5 58.3L-31.4 49.4L-14.5 44L-2.1 56.9L-13.3 67.8L-28.3 68.6Z"/><path fill="url(#fl2)" d="M-48.3 55.8L-36.2 46.9L-19.3 41.5L-6.9 54.4L-18.1 65.3L-33.1 66.1Z"/><path fill="#6c5f8a" d="M-154.1 -75L-149.1 -84.2L-133.9 -86.3L-121 -79.6L-131.4 -66.2L-143.2 -66.1Z"/><path fill="url(#fl3)" d="M-158.1 -79.3L-153.2 -88.5L-138 -90.6L-125.1 -83.9L-135.5 -70.5L-147.3 -70.4Z"/><path fill="#63567f" d="M-9.6 51.8L-27.7 53L-37.9 32L-27.8 19.1L-7.1 23.5L0.3 38.6Z"/><path fill="url(#fl0)" d="M-13 47.1L-31.1 48.3L-41.4 27.4L-31.2 14.5L-10.5 18.9L-3.1 33.9Z"/><path fill="#7f729c" d="M52.6 -86.6L53 -100.9L64.2 -108.1L65.1 -93.6Z"/><path fill="url(#fl6)" d="M48.8 -89.7L49.2 -104L60.4 -111.1L61.3 -96.7Z"/><path fill="#63567f" d="M114.8 96.2L109.2 77.8L129.2 71L133.2 82.9Z"/><path fill="url(#fl1)" d="M113.2 90.1L107.6 71.7L127.6 64.8L131.6 76.7Z"/><path fill="#6c5f8a" d="M-123 -1.2L-133.3 -8L-135.7 -20.3L-128.1 -25.9L-120.4 -22L-117.3 -11.5Z"/><path fill="url(#fl3)" d="M-124.2 -6.5L-134.4 -13.3L-136.9 -25.6L-129.3 -31.2L-121.6 -27.3L-118.5 -16.8Z"/><path fill="#63567f" d="M-7.6 101.1L-4.5 87.5L14.3 78.8L30.3 81.7L24.2 100.3L11 104.2Z"/><path fill="url(#fl1)" d="M-13.1 99.2L-9.9 85.7L8.8 76.9L24.9 79.9L18.7 98.5L5.6 102.4Z"/><path fill="#766994" d="M66 76.8L67.5 65.6L81.4 63L88 69.9L76.1 80.8Z"/><path fill="url(#fl4)" d="M62.2 75.1L63.7 63.9L77.6 61.3L84.2 68.2L72.3 79.1Z"/><path fill="#7f729c" d="M99.3 -60.2L90.8 -61.7L77.5 -70.6L75.7 -79.9L86.8 -78.9L97 -72.1Z"/><path fill="url(#fl6)" d="M96.5 -62.3L88 -63.8L74.8 -72.7L72.9 -81.9L84 -81L94.3 -74.2Z"/><path fill="#63567f" d="M-191.5 -52.9L-176.2 -42.8L-168.6 -25.9L-177.5 -12.9L-193.5 -32.2Z"/><path fill="url(#fl1)" d="M-194.4 -58.2L-179.1 -48.1L-171.5 -31.2L-180.4 -18.2L-196.5 -37.5Z"/><path fill="#766994" d="M-70.1 -149.1L-53 -145.6L-43.3 -132.9L-45.4 -120.5L-51.8 -120.3L-66.3 -134Z"/><path fill="url(#fl5)" d="M-74 -150.1L-56.9 -146.5L-47.2 -133.8L-49.3 -121.5L-55.7 -121.2L-70.2 -134.9Z"/><path fill="#6c5f8a" d="M113.1 -139.2L124.5 -125.9L122.5 -109.1L107.2 -95.1L98.5 -110.1L103.3 -132.5Z"/><path fill="url(#fl3)" d="M109.9 -141L121.3 -127.7L119.3 -110.9L104 -96.9L95.3 -111.9L100.1 -134.3Z"/><path fill="#6c5f8a" d="M-18.2 -68L-5.8 -83.9L7.8 -80.3L-2.2 -66.9Z"/><path fill="url(#fl3)" d="M-20 -72L-7.6 -87.9L6 -84.3L-4 -70.9Z"/><path fill="#766994" d="M79.8 160.4L62.7 154.7L53 131.6L61.3 119.3L81.8 127.7L88.8 148.1Z"/><path fill="url(#fl4)" d="M78.2 155.6L61.1 149.9L51.5 126.8L59.7 114.5L80.3 122.9L87.2 143.3Z"/><path fill="#766994" d="M126.9 57.8L114.2 50.7L105.9 40.8L108.9 29.2L121.5 30.7L129 43.6Z"/><path fill="url(#fl5)" d="M122.8 56.1L110.1 49L101.9 39L104.8 27.4L117.4 28.9L125 41.9Z"/><path fill="#766994" d="M182.6 36.3L169.6 39.5L155.9 29.8L160.5 22.3L173.5 25Z"/><path fill="url(#fl4)" d="M180.5 33.3L167.6 36.5L153.9 26.8L158.4 19.3L171.4 22Z"/><path fill="#6c5f8a" d="M185.5 36.4L179.6 46.8L168 57.7L154.5 60.5L155.8 49.6L169.6 36.3Z"/><path fill="url(#fl3)" d="M184.4 33.5L178.5 43.9L166.9 54.8L153.5 57.7L154.7 46.7L168.5 33.4Z"/><path fill="#7f729c" d="M15.4 -35.2L17.2 -44.9L24.8 -51.6L31.4 -44.9L23.6 -37.2Z"/><path fill="url(#fl6)" d="M10 -36.9L11.8 -46.6L19.5 -53.3L26 -46.6L18.2 -38.9Z"/><path fill="#63567f" d="M44.3 163.1L36.9 147.4L42 127.9L53 123.7L63.2 136.8L54.7 154.8Z"/><path fill="url(#fl0)" d="M43.1 158.3L35.7 142.6L40.8 123.1L51.7 118.9L62 132L53.5 149.9Z"/><path fill="#766994" d="M-105.5 119.3L-112.9 97.9L-97.1 82.2L-79.9 91.8L-83.9 115.2Z"/><path fill="url(#fl5)" d="M-109.8 117.2L-117.2 95.8L-101.3 80.1L-84.1 89.7L-88.1 113.1Z"/><path fill="#766994" d="M192.6 -51.9L186 -38.7L172.2 -33.5L177.7 -49.6Z"/><path fill="url(#fl4)" d="M187.6 -54.8L181 -41.6L167.2 -36.4L172.7 -52.5Z"/><path fill="#6c5f8a" d="M-16.6 -17L-29.7 -11.4L-54.1 -30L-55 -42.2L-40.2 -43.8L-24.7 -31.8Z"/><path fill="url(#fl2)" d="M-20.3 -17.9L-33.4 -12.3L-57.9 -30.9L-58.8 -43.1L-43.9 -44.7L-28.4 -32.7Z"/><path fill="#766994" d="M176.6 -89.6L166.2 -67.7L145 -65L134.2 -70.3L141.6 -91.6L157.6 -95.6Z"/><path fill="url(#fl4)" d="M171.6 -92.2L161.2 -70.2L140.1 -67.6L129.2 -72.9L136.6 -94.1L152.7 -98.2Z"/><path fill="#766994" d="M11.6 -85.6L-3 -80.4L-18.2 -96.6L4.6 -104.4Z"/><path fill="url(#fl4)" d="M10.7 -89L-3.9 -83.8L-19.2 -100L3.7 -107.8Z"/><path fill="#7f729c" d="M119.9 -4.3L122.8 -18.1L135.4 -26.8L141.7 -23.8L131.4 -9.3Z"/><path fill="url(#fl7)" d="M117 -9.2L119.9 -23L132.5 -31.7L138.7 -28.7L128.4 -14.2Z"/><path fill="#6c5f8a" d="M57 70.1L62.8 47.9L80.6 42.5L71.4 68.8Z"/><path fill="url(#fl2)" d="M52.8 68.2L58.6 46L76.3 40.6L67.2 66.9Z"/><path fill="#6c5f8a" d="M108.8 -54.3L95 -61.9L97.2 -74.4L107.8 -76.2L113.2 -62Z"/><path fill="url(#fl3)" d="M108.1 -57.6L94.2 -65.2L96.5 -77.7L107 -79.5L112.5 -65.3Z"/><path fill="#766994" d="M47.1 118.5L41 113.1L36.7 93.9L46 92.2L53.5 108Z"/><path fill="url(#fl4)" d="M43.1 114.1L36.9 108.6L32.6 89.5L42 87.7L49.5 103.5Z"/><path fill="#6c5f8a" d="M166.3 54.6L159.7 65L142 64.2L143.1 52.7L153.6 47.6Z"/><path fill="url(#fl3)" d="M163.3 52.6L156.8 63L139 62.1L140.1 50.7L150.6 45.6Z"/><path fill="#766994" d="M20.2 -79.1L6.8 -99.1L21 -118.6L37.5 -111.1L40.9 -92.1Z"/><path fill="url(#fl4)" d="M17.1 -83.4L3.6 -103.4L17.8 -122.9L34.3 -115.4L37.8 -96.5Z"/><path fill="#63567f" d="M88.8 108L80.2 97.4L80.7 82.7L92.2 83.1L97.1 94.1Z"/><path fill="url(#fl1)" d="M87.9 104.5L79.4 93.9L79.8 79.2L91.4 79.6L96.3 90.6Z"/><path fill="#7f729c" d="M-91.5 -1L-87.6 -12.7L-67 -15.6L-73.9 1.7Z"/><path fill="url(#fl7)" d="M-97.1 -3.5L-93.1 -15.2L-72.6 -18.1L-79.4 -0.8Z"/><path fill="#766994" d="M103.1 61.8L90.5 68.2L77.2 56L95.7 52.6Z"/><path fill="url(#fl4)" d="M100.6 56.2L88 62.6L74.8 50.4L93.2 47Z"/><path fill="#63567f" d="M59.2 -66.4L52.6 -76.1L60.7 -87.9L68.8 -86.2L67.3 -71Z"/><path fill="url(#fl1)" d="M57.1 -70.2L50.5 -80L58.6 -91.7L66.7 -90L65.2 -74.8Z"/><path fill="#6c5f8a" d="M-5.3 -11.7L-11.1 -25.5L-0.1 -36.8L5.4 -25.5Z"/><path fill="url(#fl3)" d="M-10.2 -13.9L-16 -27.7L-5 -39L0.5 -27.8Z"/><path fill="#63567f" d="M-77.9 103.9L-66.1 93.2L-49.2 93.1L-45.7 102.6L-58.5 111.9Z"/><path fill="url(#fl0)" d="M-79.7 100L-67.9 89.3L-51 89.2L-47.5 98.7L-60.3 108.1Z"/><path fill="#7f729c" d="M108.9 -56.2L113.6 -79.4L139.2 -79.2L128.1 -57.8Z"/><path fill="url(#fl6)" d="M107.3 -61.8L112 -85L137.6 -84.8L126.6 -63.5Z"/><path fill="#766994" d="M-86.4 148.3L-86.9 138L-69 118.9L-56.8 120.4L-60.9 135.4L-70.8 144.5Z"/><path fill="url(#fl4)" d="M-88.1 142.6L-88.7 132.3L-70.7 113.2L-58.6 114.7L-62.7 129.7L-72.5 138.8Z"/><path fill="#63567f" d="M-181.4 12.3L-187.3 -7L-176.5 -26L-158.2 -27L-151.6 -6L-164.9 8.3Z"/><path fill="url(#fl0)" d="M-183.3 7.3L-189.2 -11.9L-178.4 -31L-160.1 -32L-153.5 -11L-166.8 3.3Z"/><path fill="#766994" d="M189.4 -17.9L172.4 -8.4L159.4 -17.4L162.3 -34L182.5 -31.4Z"/><path fill="url(#fl5)" d="M187 -22.9L170 -13.4L157 -22.4L159.9 -38.9L180.2 -36.3Z"/><path fill="#7f729c" d="M161.5 16.3L137.5 21.4L124.2 5.9L136.9 -9.2L154.4 -5.9Z"/><path fill="url(#fl6)" d="M158.8 14L134.9 19.1L121.5 3.6L134.3 -11.4L151.8 -8.2Z"/><path fill="#63567f" d="M26.1 137L14.8 136.3L1.5 125.5L1 109.8L11.7 111.7L27.2 120.4Z"/><path fill="url(#fl0)" d="M20.7 134.6L9.3 134L-4 123.2L-4.5 107.5L6.3 109.3L21.8 118.1Z"/><path fill="#63567f" d="M189.8 -83.6L176.9 -68.6L155.3 -70.2L165.8 -83.5Z"/><path fill="url(#fl0)" d="M185.2 -86.8L172.4 -71.8L150.7 -73.4L161.2 -86.7Z"/><path fill="#63567f" d="M71 104.3L64.1 88.6L84 73.6L86 95.2Z"/><path fill="url(#fl0)" d="M66.7 102.8L59.8 87.1L79.7 72.1L81.7 93.7Z"/><path fill="#766994" d="M-193.7 40L-183.9 24.6L-169.8 20.5L-157.2 28.7L-163.7 39.4L-182 43.6Z"/><path fill="url(#fl4)" d="M-194.4 36.8L-184.6 21.4L-170.4 17.3L-157.9 25.4L-164.4 36.2L-182.6 40.4Z"/><path fill="#766994" d="M-25.6 7.5L-36.5 2.3L-40.7 -11.1L-29.6 -16.3L-23 -6.2Z"/><path fill="url(#fl5)" d="M-27.2 4.9L-38.1 -0.3L-42.3 -13.7L-31.2 -18.9L-24.6 -8.8Z"/><path fill="#766994" d="M-108.7 -1.9L-118.5 -15.5L-109.6 -26.6L-100.5 -18.1Z"/><path fill="url(#fl4)" d="M-110.3 -4.7L-120.2 -18.4L-111.2 -29.4L-102.1 -20.9Z"/><path fill="#766994" d="M203.6 36.2L194.8 40.6L179 36L177.2 24.7L198.9 25.3Z"/><path fill="url(#fl4)" d="M201.1 32L192.2 36.4L176.5 31.9L174.7 20.6L196.4 21.2Z"/><path fill="#6c5f8a" d="M-62.7 -1.8L-67 -16.2L-61.8 -24.1L-52.1 -26L-52.8 -5.9Z"/><path fill="url(#fl2)" d="M-67 -2.8L-71.2 -17.2L-66 -25.1L-56.3 -26.9L-57 -6.8Z"/><path fill="#7f729c" d="M-81.9 47.1L-72.8 37.3L-56.5 36.3L-50.1 46.2L-69.4 51.6Z"/><path fill="url(#fl6)" d="M-85.6 45.2L-76.6 35.4L-60.3 34.4L-53.9 44.3L-73.2 49.7Z"/><path fill="#6c5f8a" d="M12 21.6L2.7 11.8L12.2 -6.8L28 -11.6L33.1 -0.5L29.2 16.6Z"/><path fill="url(#fl2)" d="M8.4 18.7L-0.9 8.8L8.6 -9.7L24.4 -14.5L29.5 -3.4L25.6 13.6Z"/><path fill="#766994" d="M17 41.8L-1.6 36.8L-9.6 12.7L6.7 4.2L19 28.4Z"/><path fill="url(#fl4)" d="M14.5 38.1L-4.1 33.1L-12.1 9.1L4.2 0.6L16.5 24.7Z"/><path fill="#766994" d="M7.9 -120.2L14.4 -128.5L35.9 -128.4L35.9 -115L21 -112.8Z"/><path fill="url(#fl4)" d="M3.5 -121.5L10 -129.8L31.5 -129.7L31.5 -116.2L16.6 -114Z"/><path fill="#6c5f8a" d="M138.1 -116L153.5 -97.4L149.5 -76.5L133.2 -79.3L130 -100.5Z"/><path fill="url(#fl3)" d="M136.3 -119.3L151.6 -100.7L147.6 -79.9L131.3 -82.6L128.2 -103.9Z"/><path fill="#766994" d="M-56.6 -48.8L-71 -39.5L-85 -44.7L-90.5 -58.5L-69.5 -63.8Z"/><path fill="url(#fl5)" d="M-59.8 -50.9L-74.2 -41.6L-88.1 -46.8L-93.7 -60.6L-72.7 -65.9Z"/><path fill="#766994" d="M-183.8 -72.4L-175.8 -75.4L-162.5 -72.5L-153 -63.7L-163.4 -58.6L-177.1 -61.3Z"/><path fill="url(#fl4)" d="M-185.9 -75.1L-177.8 -78.2L-164.5 -75.3L-155.1 -66.4L-165.4 -61.3L-179.1 -64.1Z"/><path fill="#766994" d="M145.2 -49.3L134.1 -47.3L112 -51.3L107.7 -64L121.1 -68.3L136.1 -63.7Z"/><path fill="url(#fl4)" d="M140.5 -51.3L129.4 -49.3L107.2 -53.2L103 -65.9L116.4 -70.2L131.3 -65.6Z"/><path fill="#6c5f8a" d="M-14.3 156.4L-26.9 150.7L-26.1 131.1L-14.5 124.9L-5.6 145.4Z"/><path fill="url(#fl3)" d="M-16.9 151.7L-29.5 146L-28.7 126.4L-17.1 120.2L-8.2 140.7Z"/><path fill="#63567f" d="M11.1 -16.8L23.7 -44.5L44.1 -41.2L42.4 -20.3Z"/><path fill="url(#fl1)" d="M6.9 -19.3L19.4 -47.1L39.9 -43.8L38.1 -22.8Z"/><path fill="#766994" d="M-153.3 -110.1L-141.6 -106.5L-133.9 -93.9L-135.7 -86.2L-150.3 -86.5L-154.8 -94.6Z"/><path fill="url(#fl4)" d="M-155.8 -112.2L-144.1 -108.6L-136.4 -95.9L-138.2 -88.3L-152.8 -88.5L-157.3 -96.7Z"/><path fill="#6c5f8a" d="M191.8 -69L192 -57.9L173.9 -51.8L178.4 -66.6Z"/><path fill="url(#fl3)" d="M189.4 -70.9L189.5 -59.8L171.5 -53.6L176 -68.4Z"/><path fill="#6c5f8a" d="M68.6 48.3L80.9 37.7L93.9 44.5L83.7 51.9Z"/><path fill="url(#fl2)" d="M62.8 46.4L75.1 35.8L88.1 42.6L77.9 50Z"/><path fill="#766994" d="M12.4 -33.4L0.2 -32.2L-3.1 -52L10.5 -48.7Z"/><path fill="url(#fl4)" d="M7.5 -37.1L-4.7 -35.9L-8 -55.7L5.5 -52.5Z"/><path fill="#766994" d="M-20.6 30.8L-38 21.7L-36.7 6.4L-20.4 14.5Z"/><path fill="url(#fl4)" d="M-26 27.3L-43.3 18.2L-42 3L-25.7 11.1Z"/><path fill="#7f729c" d="M88.5 -130.6L88.9 -120.1L74.6 -111.9L77.1 -126.5Z"/><path fill="url(#fl7)" d="M86.9 -135.6L87.3 -125.1L73 -116.9L75.4 -131.5Z"/><path fill="#766994" d="M172.4 91.5L158.7 89.9L151.3 69.5L174.4 72.7Z"/><path fill="url(#fl4)" d="M170.3 86.9L156.6 85.2L149.2 64.9L172.3 68Z"/><path fill="#6c5f8a" d="M-4.7 101L-12.5 105.8L-23.6 97.3L-24.8 86.4L-15.2 82.7L-2.2 92.2Z"/><path fill="url(#fl3)" d="M-6.9 96.7L-14.6 101.5L-25.7 93L-27 82.1L-17.3 78.4L-4.4 88Z"/><path fill="#6c5f8a" d="M55.1 144.7L44 129.1L48.8 111.8L62.7 112.5L68.4 130.6Z"/><path fill="url(#fl3)" d="M53.8 141.3L42.7 125.7L47.5 108.4L61.4 109.1L67.1 127.2Z"/><path fill="#766994" d="M-32.2 -64.7L-18.3 -73L-1.9 -73.7L10.6 -65.7L1.1 -58.6L-22.6 -56.7Z"/><path fill="url(#fl5)" d="M-36.2 -66.1L-22.2 -74.4L-5.8 -75.1L6.7 -67.2L-2.9 -60L-26.5 -58.1Z"/><path fill="#766994" d="M99.9 -61.5L90.7 -74.6L92.2 -98.1L100.6 -104.6L108.5 -92.6L106.8 -74.1Z"/><path fill="url(#fl5)" d="M97.1 -65.5L87.9 -78.6L89.4 -102.1L97.8 -108.6L105.7 -96.6L104 -78.1Z"/><path fill="#766994" d="M-118.5 -39.8L-134.8 -36.6L-157.2 -48.8L-131.6 -53.5Z"/><path fill="url(#fl5)" d="M-120.2 -42.9L-136.4 -39.7L-158.9 -51.9L-133.3 -56.6Z"/><path fill="#766994" d="M99 33L81.3 41.2L55.5 19.1L85.8 12.4Z"/><path fill="url(#fl4)" d="M97.3 27.8L79.6 35.9L53.8 13.9L84.1 7.2Z"/><path fill="#766994" d="M-9.7 -20.3L-21.5 -23.1L-28.6 -31.4L-28.3 -44.2L-16.6 -40.8L-9.2 -32.5Z"/><path fill="url(#fl5)" d="M-12 -24.1L-23.8 -26.9L-30.9 -35.2L-30.6 -48L-18.9 -44.7L-11.4 -36.4Z"/><path fill="#63567f" d="M152.8 113L128.7 120.9L119.8 103.4L134.7 97.1Z"/><path fill="url(#fl0)" d="M148.3 110.5L124.1 118.4L115.3 100.9L130.2 94.6Z"/><path fill="#6c5f8a" d="M7.3 73.1L1.4 60.1L6.2 45.9L17 45.1L16.4 69.2Z"/><path fill="url(#fl2)" d="M3.4 69.5L-2.5 56.5L2.3 42.3L13.1 41.5L12.5 65.6Z"/><path fill="#7f729c" d="M-129.4 -5.3L-144.9 -7.4L-147.1 -26.2L-130 -19.1Z"/><path fill="url(#fl7)" d="M-132.9 -7.2L-148.4 -9.4L-150.6 -28.1L-133.5 -21.1Z"/><path fill="#766994" d="M-90.4 24L-111 17.2L-114.9 -2.5L-93.3 1.4Z"/><path fill="url(#fl4)" d="M-91.9 18.8L-112.5 12.1L-116.3 -7.6L-94.8 -3.7Z"/><path fill="#6c5f8a" d="M91.9 20.9L82.8 13.1L92.2 -16.4L100 -16.4L100.7 6.9Z"/><path fill="url(#fl2)" d="M86.9 19.1L77.8 11.3L87.2 -18.2L95 -18.1L95.7 5.1Z"/><path fill="#63567f" d="M-114.6 46.2L-112.6 35.7L-94.9 24L-86.6 32.8L-97.7 47.1Z"/><path fill="url(#fl1)" d="M-117.5 45L-115.5 34.6L-97.8 22.8L-89.5 31.7L-100.6 46Z"/><path fill="#63567f" d="M-91.8 107L-96.5 98L-86.6 81.3L-70.6 74.1L-70 90L-82.5 107Z"/><path fill="url(#fl0)" d="M-94.1 102.1L-98.8 93.2L-88.9 76.5L-72.9 69.3L-72.3 85.2L-84.8 102.1Z"/><path fill="#766994" d="M-121.2 38.7L-143.5 31.1L-150 14.1L-127.8 16.7Z"/><path fill="url(#fl5)" d="M-123.3 35.1L-145.5 27.5L-152.1 10.5L-129.9 13.1Z"/><path fill="#766994" d="M192.3 -9.6L187.1 -5.8L173.3 -5.3L164.5 -12.1L175.8 -18.6L188.6 -16.4Z"/><path fill="url(#fl5)" d="M189 -11.1L183.8 -7.2L170 -6.7L161.2 -13.5L172.6 -20L185.3 -17.8Z"/><path fill="#7f729c" d="M-136.6 15.9L-138.7 -1.7L-128.8 -13.9L-117.4 -11.4L-121.8 9.4Z"/><path fill="url(#fl7)" d="M-141.5 11.8L-143.6 -5.8L-133.7 -17.9L-122.2 -15.5L-126.6 5.3Z"/><path fill="#7f729c" d="M-33.3 -65.7L-27.2 -83.6L-6.6 -95.1L-11.1 -72.9Z"/><path fill="url(#fl6)" d="M-38.3 -69.1L-32.3 -87L-11.6 -98.5L-16.1 -76.3Z"/><path fill="#766994" d="M146.4 -11.4L136.5 -20.9L133 -40.8L138.9 -48.7L148.8 -43.9L157.7 -23.1Z"/><path fill="url(#fl4)" d="M141.4 -14.2L131.5 -23.8L128 -43.7L133.9 -51.6L143.8 -46.8L152.7 -25.9Z"/><path fill="#6c5f8a" d="M-90.4 89.1L-99.7 91.9L-110.6 85.9L-113.4 80.1L-107.5 75.1L-94.9 79.4Z"/><path fill="url(#fl3)" d="M-92 84.9L-101.3 87.8L-112.2 81.8L-115 76L-109 70.9L-96.4 75.2Z"/><path fill="#63567f" d="M-180.8 -1.9L-165.8 -6.5L-147.4 12.2L-152.2 27.4L-166.3 29.2L-180.9 17.6Z"/><path fill="url(#fl1)" d="M-185.8 -4.6L-170.8 -9.2L-152.4 9.5L-157.2 24.7L-171.3 26.6L-185.9 14.9Z"/><path fill="#766994" d="M54.7 -103.3L65.9 -111.9L84.6 -116.2L89.7 -109.5L65.9 -97.6Z"/><path fill="url(#fl4)" d="M51.5 -105.3L62.8 -114L81.4 -118.2L86.5 -111.5L62.7 -99.6Z"/><path fill="#7f729c" d="M-52.8 -144.2L-40.4 -145.2L-24.2 -130.4L-32.1 -120.6L-47.5 -128.8Z"/><path fill="url(#fl7)" d="M-55 -146.7L-42.6 -147.7L-26.4 -132.9L-34.3 -123.1L-49.7 -131.3Z"/><path fill="#766994" d="M-29.1 -152.9L-15.2 -158.2L2.5 -142.8L3.1 -126.8L-8.2 -123.7L-29.6 -137.2Z"/><path fill="url(#fl5)" d="M-31.3 -156.7L-17.4 -162.1L0.4 -146.6L0.9 -130.6L-10.3 -127.5L-31.7 -141Z"/><path fill="#766994" d="M-123.6 7.6L-124 -6.6L-108.1 -11L-108.2 6.3Z"/><path fill="url(#fl5)" d="M-125.1 4.3L-125.5 -10L-109.7 -14.3L-109.7 3Z"/><path fill="#6c5f8a" d="M-199.1 -27.7L-185.3 -28.7L-175.3 -15.2L-191.7 -16.7Z"/><path fill="url(#fl3)" d="M-204.4 -29.5L-190.6 -30.5L-180.7 -17L-197 -18.5Z"/><path fill="#7f729c" d="M177.5 -52.6L175.8 -44.3L163.5 -38.1L153.8 -37.4L158.1 -49.1L168.8 -53.6Z"/><path fill="url(#fl6)" d="M172.9 -56.4L171.2 -48.1L159 -41.8L149.2 -41.2L153.5 -52.9L164.2 -57.4Z"/><path fill="#63567f" d="M93.6 89.2L107.7 79.5L122.6 79.9L123.6 94.5L110.3 103.6Z"/><path fill="url(#fl1)" d="M88.6 86.6L102.7 76.9L117.6 77.3L118.6 91.9L105.3 101Z"/><path fill="#6c5f8a" d="M-8.3 -11.9L-18.7 -10.6L-34.3 -18.3L-32.9 -24L-12.1 -20.8Z"/><path fill="url(#fl3)" d="M-11.2 -14.5L-21.7 -13.2L-37.2 -20.9L-35.8 -26.6L-15.1 -23.4Z"/><path fill="#63567f" d="M153.7 52.7L143.5 55L129.5 47.7L134.1 40L148.1 42.8Z"/><path fill="url(#fl0)" d="M151.9 48.3L141.7 50.6L127.7 43.4L132.3 35.6L146.3 38.5Z"/><path fill="#6c5f8a" d="M153.3 -53.4L144.9 -49.9L125.5 -54.1L120.2 -66.1L132.3 -72L152.4 -64.7Z"/><path fill="url(#fl3)" d="M151.9 -57.3L143.5 -53.8L124.1 -57.9L118.8 -70L130.8 -75.9L150.9 -68.5Z"/><path fill="#766994" d="M132.3 33.7L122.7 32.8L115.4 23.8L112.8 17L120.2 14.5L131 22.6Z"/><path fill="url(#fl5)" d="M131.3 29.7L121.8 28.8L114.5 19.9L111.9 13.1L119.3 10.5L130 18.7Z"/><path fill="#63567f" d="M135.8 -117L139.1 -107.7L126.4 -93.7L114.4 -93.4L111.5 -104.4L122 -117.6Z"/><path fill="url(#fl1)" d="M134.6 -120.9L137.8 -111.5L125.2 -97.6L113.2 -97.2L110.2 -108.3L120.8 -121.5Z"/><path fill="#766994" d="M7.8 154.2L11.3 137L34.6 120.8L41.9 131.4L27.3 147.3Z"/><path fill="url(#fl5)" d="M4.5 151.9L8.1 134.6L31.4 118.4L38.6 129.1L24 144.9Z"/><path fill="#7f729c" d="M26 71.3L21.3 54.4L36 38.9L50.6 45.2L39.3 66.1Z"/><path fill="url(#fl6)" d="M22 69.5L17.3 52.6L32.1 37.1L46.6 43.4L35.3 64.3Z"/><path fill="#766994" d="M-54.1 96.2L-70.5 87.8L-71.1 73.5L-62.5 70.3L-49.7 82.3Z"/><path fill="url(#fl5)" d="M-58.8 94.5L-75.3 86.1L-75.9 71.8L-67.2 68.6L-54.5 80.6Z"/><path fill="#766994" d="M194.1 34.6L177.7 33.9L164 9.4L177 -0.5L195.4 12.8Z"/><path fill="url(#fl4)" d="M189.5 32L173.2 31.2L159.5 6.8L172.4 -3.2L190.9 10.1Z"/><path fill="#63567f" d="M15 -8.2L6.7 2.3L-6.3 -1.6L-8.6 -11L9.4 -16Z"/><path fill="url(#fl1)" d="M12.3 -9.8L4 0.7L-8.9 -3.2L-11.3 -12.6L6.7 -17.6Z"/><path fill="#63567f" d="M39.3 140.2L31.5 116.1L47.4 101.2L55.8 126Z"/><path fill="url(#fl1)" d="M37.8 136.3L30.1 112.2L46 97.3L54.4 122.1Z"/><path fill="#766994" d="M-140.2 -44L-138.3 -62.5L-112.9 -72.4L-107.4 -61.6L-117.9 -46.7Z"/><path fill="url(#fl4)" d="M-141.9 -47.5L-140 -65.9L-114.6 -75.8L-109.1 -65L-119.6 -50.2Z"/><path fill="#6c5f8a" d="M-34.8 -72.7L-46.8 -67.5L-58.4 -75.5L-58.8 -86.2L-51.3 -92.5L-36.9 -83.1Z"/><path fill="url(#fl2)" d="M-38 -77.4L-50 -72.2L-61.6 -80.2L-62 -90.9L-54.5 -97.2L-40.1 -87.8Z"/><path fill="#7f729c" d="M120.1 -9L105.7 -22.6L108.6 -43.3L121.6 -47.9L131 -35.7L129.3 -13.7Z"/><path fill="url(#fl7)" d="M117 -14.4L102.6 -27.9L105.5 -48.6L118.5 -53.2L127.9 -41L126.2 -19Z"/><path fill="#766994" d="M-121.3 74.4L-120.6 61.2L-99.8 58.4L-105.6 75.2Z"/><path fill="url(#fl5)" d="M-126.3 71.1L-125.7 57.8L-104.8 55L-110.6 71.8Z"/><path fill="#7f729c" d="M-50.7 -45L-50.9 -74L-38.3 -89.7L-34.6 -56.3Z"/><path fill="url(#fl6)" d="M-56.4 -46.9L-56.7 -76L-44 -91.6L-40.3 -58.2Z"/><path fill="#7f729c" d="M122 73L113.6 60.9L128.4 43.7L132.1 56.4Z"/><path fill="url(#fl7)" d="M121.1 68.1L112.7 56.1L127.5 38.9L131.2 51.6Z"/><path fill="#63567f" d="M-7.6 109.1L-16.3 121.2L-41 118.4L-44.6 107.2L-39.7 93.9L-16.6 97.8Z"/><path fill="url(#fl0)" d="M-8.8 105.1L-17.4 117.1L-42.2 114.3L-45.7 103.1L-40.8 89.9L-17.7 93.7Z"/><path fill="#6c5f8a" d="M-127 52.1L-137.6 49.8L-147.7 41.4L-151.1 30.6L-137.6 34.1L-130.1 41.6Z"/><path fill="url(#fl3)" d="M-129.2 46.8L-139.8 44.6L-149.9 36.1L-153.3 25.4L-139.8 28.9L-132.3 36.3Z"/><path fill="#63567f" d="M77.9 122.5L58.9 118.4L54.8 94.6L73.3 98.1Z"/><path fill="url(#fl1)" d="M73.9 118.3L55 114.2L50.9 90.4L69.3 93.9Z"/><path fill="#7f729c" d="M201.9 6.1L193.1 12.7L173.1 7.6L175.3 -4.1L191 -5.2Z"/><path fill="url(#fl7)" d="M198.7 3.1L189.8 9.7L169.9 4.6L172.1 -7.1L187.7 -8.2Z"/><path fill="#7f729c" d="M-126.5 16.6L-139.1 22.1L-164.2 10.2L-157.2 0.4L-136.2 5.5Z"/><path fill="url(#fl7)" d="M-131.4 15.1L-144 20.5L-169.2 8.6L-162.1 -1.1L-141.1 4Z"/><path fill="#63567f" d="M-120.6 -110.1L-102.6 -114.6L-89.8 -105.7L-93.8 -94.2L-108.2 -95.2Z"/><path fill="url(#fl1)" d="M-121.6 -114.1L-103.6 -118.6L-90.8 -109.7L-94.8 -98.2L-109.1 -99.2Z"/><path fill="#6c5f8a" d="M-54 -78.2L-59.9 -71.6L-76.3 -75L-78.1 -84.1L-70.8 -92.2L-56.1 -87.7Z"/><path fill="url(#fl3)" d="M-55.8 -83.1L-61.8 -76.6L-78.1 -79.9L-79.9 -89L-72.6 -97.1L-58 -92.6Z"/><path fill="#6c5f8a" d="M-117.1 -29.4L-119.7 -55.3L-99.3 -65.4L-94.4 -49.5Z"/><path fill="url(#fl3)" d="M-121.6 -33.8L-124.2 -59.6L-103.8 -69.8L-99 -53.8Z"/><path fill="#766994" d="M182.6 -63.8L166 -54.2L150.2 -57.8L163.1 -67.5Z"/><path fill="url(#fl4)" d="M179.7 -66.8L163.1 -57.2L147.3 -60.8L160.2 -70.5Z"/><path fill="#766994" d="M102.7 -37.3L90.7 -36.9L81.2 -51.7L85.9 -64.7L96.9 -62.5L105.5 -47.6Z"/><path fill="url(#fl5)" d="M97.2 -39.1L85.3 -38.7L75.7 -53.5L80.4 -66.5L91.5 -64.3L100.1 -49.4Z"/><path fill="#6c5f8a" d="M34.5 -72L12.3 -76.6L0.7 -98.7L25.7 -90.1Z"/><path fill="url(#fl3)" d="M30.8 -72.9L8.6 -77.5L-3 -99.6L22.1 -91Z"/><path fill="#6c5f8a" d="M208.1 -52.9L206.6 -38.5L186.2 -27.8L182.6 -36.4L195 -54.2Z"/><path fill="url(#fl3)" d="M203.8 -54.5L202.3 -40.1L181.9 -29.4L178.4 -38.1L190.8 -55.8Z"/><path fill="#766994" d="M77.5 -20.1L78.3 -34L100.7 -41.1L93.8 -19.3Z"/><path fill="url(#fl5)" d="M74.2 -21.1L75.1 -34.9L97.4 -42.1L90.5 -20.2Z"/><path fill="#766994" d="M-103.6 59.6L-87.8 47.9L-73.2 55L-90.9 64.5Z"/><path fill="url(#fl4)" d="M-105.5 55.3L-89.8 43.7L-75.1 50.7L-92.8 60.2Z"/><path fill="#6c5f8a" d="M-11.8 115.3L-8.3 103.6L8.6 95.9L7 109.4Z"/><path fill="url(#fl3)" d="M-12.8 110.7L-9.3 99L7.5 91.3L6 104.8Z"/><path fill="#6c5f8a" d="M32.5 109.7L13.9 100.3L16.7 82.5L32.6 86.2Z"/><path fill="url(#fl3)" d="M29.7 107.2L11.2 97.8L14 80L29.8 83.7Z"/><path fill="#63567f" d="M-183.9 -50.8L-168.8 -64.3L-140.3 -57.2L-138.3 -44.4L-149.7 -33.5L-175.3 -39.1Z"/><path fill="url(#fl0)" d="M-187.1 -52.8L-171.9 -66.4L-143.4 -59.3L-141.5 -46.4L-152.9 -35.6L-178.5 -41.1Z"/><path fill="#6c5f8a" d="M42.9 83.3L50.2 65.3L69.7 66.6L67.1 79.3Z"/><path fill="url(#fl2)" d="M40.2 78.5L47.5 60.5L67 61.7L64.4 74.5Z"/><path fill="#766994" d="M100.3 52.6L87.8 50.1L81.5 38.5L91.5 29.4L104.6 38.8Z"/><path fill="url(#fl5)" d="M97.5 51.1L84.9 48.6L78.6 37L88.6 27.9L101.8 37.3Z"/><path fill="#63567f" d="M-104.4 -29.7L-126.9 -25.4L-136.1 -32.8L-121.8 -41.3Z"/><path fill="url(#fl1)" d="M-105.9 -34.6L-128.4 -30.2L-137.6 -37.7L-123.3 -46.1Z"/><path fill="#6c5f8a" d="M27.8 -38.5L28.9 -58.6L36.1 -69.6L46.7 -63L41.2 -48.2Z"/><path fill="url(#fl3)" d="M24.1 -40.4L25.2 -60.5L32.4 -71.5L43 -64.9L37.5 -50.1Z"/><path fill="#6c5f8a" d="M57.4 63.6L41.1 55.8L46.9 35.7L58.2 45.7Z"/><path fill="url(#fl2)" d="M54.8 61.9L38.4 54.1L44.3 34L55.6 44Z"/><path fill="#7f729c" d="M140 124L127.1 134.2L102.2 128.9L94.8 114.4L108.2 102.7L130.3 107.4Z"/><path fill="url(#fl7)" d="M137.6 121.4L124.6 131.6L99.7 126.2L92.4 111.8L105.8 100L127.8 104.8Z"/><path fill="#766994" d="M48 -136.6L52.2 -122.3L34.6 -104.5L19.9 -112.1L31.2 -129.5Z"/><path fill="url(#fl4)" d="M46.6 -139.9L50.8 -125.6L33.2 -107.8L18.6 -115.5L29.8 -132.8Z"/><path fill="#7f729c" d="M57 -83.1L42.9 -76.5L28.5 -76.6L16 -90.1L30.5 -100.4L49.7 -95.7Z"/><path fill="url(#fl6)" d="M53 -84L38.9 -77.4L24.5 -77.5L12 -91L26.5 -101.4L45.7 -96.6Z"/><path fill="#6c5f8a" d="M205.2 48.2L199.2 59.5L177.9 64.1L185.6 44.6Z"/><path fill="url(#fl2)" d="M202.5 44.7L196.5 56L175.2 60.6L182.9 41.1Z"/><path fill="#6c5f8a" d="M-194.1 -70.9L-168 -73.2L-158.8 -53.9L-178.4 -38.9L-192.3 -48.4Z"/><path fill="url(#fl3)" d="M-198 -72L-171.8 -74.4L-162.6 -55L-182.3 -40L-196.2 -49.6Z"/><path fill="#766994" d="M157.2 0.9L141.3 -9.7L153.2 -36.8L170.9 -28.8Z"/><path fill="url(#fl5)" d="M154 -2.7L138.1 -13.3L150 -40.3L167.6 -32.3Z"/><path fill="#7f729c" d="M-41.2 -78.3L-61.1 -83L-65.3 -110.3L-39.6 -105Z"/><path fill="url(#fl6)" d="M-45.9 -81.6L-65.8 -86.4L-70 -113.7L-44.3 -108.3Z"/><path fill="#766994" d="M-83.2 -34.2L-101.6 -48L-92.2 -71.1L-80.5 -55.8Z"/><path fill="url(#fl5)" d="M-86 -35.7L-104.5 -49.5L-95 -72.5L-83.4 -57.3Z"/><path fill="#766994" d="M-173 79.9L-168.8 69.5L-158.5 63.1L-152.9 67.1L-164.4 79.1Z"/><path fill="url(#fl5)" d="M-175.9 74.8L-171.7 64.5L-161.4 58.1L-155.8 62.1L-167.4 74.1Z"/><path fill="#7f729c" d="M25.5 -152.8L34 -141.7L31.7 -119.8L21 -121.1L18.6 -145Z"/><path fill="url(#fl7)" d="M19.6 -154.3L28.1 -143.1L25.8 -121.2L15.2 -122.5L12.7 -146.5Z"/><path fill="#766994" d="M-134.4 54.8L-124.5 44.2L-111.4 50L-122.2 63.4Z"/><path fill="url(#fl5)" d="M-137.6 51.2L-127.7 40.6L-114.6 46.5L-125.4 59.9Z"/><path fill="#6c5f8a" d="M-15.6 30.3L-21.6 6.3L-1.8 -7.8L4.8 12.2Z"/><path fill="url(#fl3)" d="M-16.6 27.3L-22.6 3.3L-2.8 -10.8L3.7 9.2Z"/><path fill="#766994" d="M-89.6 -19.7L-110.4 -31.9L-112.1 -50.9L-96.7 -56.5L-81.2 -33.7Z"/><path fill="url(#fl4)" d="M-94.3 -23.4L-115.1 -35.6L-116.8 -54.6L-101.4 -60.2L-85.9 -37.3Z"/><path fill="#766994" d="M-85 -97.4L-79.7 -105.7L-69.4 -106.8L-63.4 -102L-66.1 -95.7L-78.4 -93.5Z"/><path fill="url(#fl4)" d="M-89.3 -100L-84 -108.4L-73.7 -109.5L-67.7 -104.6L-70.4 -98.3L-82.7 -96.1Z"/><path fill="#6c5f8a" d="M156.8 -37L149.8 -34.8L138.1 -39.5L136 -49.4L145.2 -50.3L154 -47Z"/><path fill="url(#fl2)" d="M153.7 -42.7L146.7 -40.5L135 -45.2L132.9 -55.1L142.1 -56L150.8 -52.7Z"/><path fill="#7f729c" d="M193.4 74L175.3 79.6L156.4 63.1L163.2 55.3L183.5 58.7Z"/><path fill="url(#fl6)" d="M191.7 68.8L173.6 74.4L154.7 57.9L161.5 50.1L181.8 53.5Z"/><path fill="#766994" d="M95.5 -35.5L93.9 -46.7L106.3 -64.9L121.5 -67.1L121.5 -54L106 -37.8Z"/><path fill="url(#fl4)" d="M93.2 -37.9L91.5 -49.1L104 -67.3L119.1 -69.5L119.2 -56.4L103.6 -40.2Z"/><path fill="#766994" d="M3.1 48.8L10.7 34.1L29.5 30.1L42.2 43.7L33.6 58.4L13.9 58.8Z"/><path fill="url(#fl5)" d="M1.7 43.2L9.3 28.5L28.2 24.5L40.9 38.1L32.2 52.8L12.6 53.2Z"/><path fill="#6c5f8a" d="M99.9 13.9L96.6 -5.4L119.7 -16.3L121.2 -0.3Z"/><path fill="url(#fl3)" d="M95.5 12.9L92.1 -6.4L115.3 -17.3L116.7 -1.4Z"/><path fill="#7f729c" d="M-29.8 50.1L-44.7 43L-50.6 27.8L-40.2 17.3L-25.5 22.7L-18.9 37.2Z"/><path fill="url(#fl6)" d="M-33.5 48.4L-48.3 41.2L-54.3 26.1L-43.8 15.6L-29.1 20.9L-22.6 35.4Z"/><path fill="#766994" d="M60.9 9.9L75.2 1.6L86.1 5L75.8 14.6Z"/><path fill="url(#fl5)" d="M56.5 7.2L70.8 -1.1L81.6 2.3L71.4 11.9Z"/><path fill="#766994" d="M207.4 -15.5L203.9 -8.7L185.4 -4.1L182.8 -12.3L196.9 -19.8Z"/><path fill="url(#fl5)" d="M205.7 -19.5L202.2 -12.7L183.8 -8.1L181.1 -16.4L195.3 -23.9Z"/><path fill="#6c5f8a" d="M-115.1 107.8L-128.7 93.1L-125.3 74.8L-107.3 76.1L-103.1 97Z"/><path fill="url(#fl3)" d="M-118.8 103.5L-132.5 88.8L-129.1 70.5L-111.1 71.9L-106.9 92.7Z"/><path fill="#766994" d="M41.2 -36.3L46.9 -46.3L64.5 -45.8L68.4 -38.6L55.1 -30.2Z"/><path fill="url(#fl4)" d="M37 -40.9L42.8 -51L60.4 -50.4L64.2 -43.2L50.9 -34.8Z"/><path fill="#766994" d="M-144 101.3L-138 82.3L-121.7 83.6L-127.4 97.8Z"/><path fill="url(#fl4)" d="M-148.6 98.4L-142.7 79.3L-126.3 80.7L-132.1 94.8Z"/><path fill="#766994" d="M16.8 87.2L24.5 71L43.8 64.5L49.2 75.4L37.3 85.1Z"/><path fill="url(#fl5)" d="M11.2 86.1L18.8 69.9L38.2 63.3L43.6 74.3L31.7 84Z"/><path fill="#63567f" d="M-45.7 107.5L-50.2 97.2L-42 77L-31.7 83.3L-31.9 97.3Z"/><path fill="url(#fl1)" d="M-48 103.7L-52.4 93.3L-44.3 73.1L-34 79.4L-34.2 93.4Z"/><path fill="#766994" d="M-72.9 -61.6L-96.2 -55L-115.4 -62.3L-112.2 -82.1L-77 -80.3Z"/><path fill="url(#fl5)" d="M-75 -64.1L-98.3 -57.6L-117.5 -64.9L-114.3 -84.6L-79.1 -82.9Z"/><path fill="#63567f" d="M18.1 -61.2L13.2 -74L29.9 -87.7L38.9 -84.4L39.9 -66.4L31.8 -56.9Z"/><path fill="url(#fl1)" d="M16 -64.6L11 -77.4L27.8 -91.1L36.8 -87.9L37.8 -69.9L29.6 -60.4Z"/><path fill="#766994" d="M5.6 -36.4L-14.5 -63.9L-1.8 -77.3L22 -61.1Z"/><path fill="url(#fl4)" d="M0.4 -39L-19.6 -66.6L-7 -79.9L16.8 -63.7Z"/><path fill="#7f729c" d="M-97.4 -67.7L-107.6 -77.2L-113.4 -104.5L-97.7 -109.9L-88.4 -94.2Z"/><path fill="url(#fl7)" d="M-101.7 -69.1L-111.9 -78.7L-117.7 -106L-102 -111.4L-92.7 -95.7Z"/><path fill="#7f729c" d="M-50.4 154.2L-42.4 135.3L-27.5 136.9L-34.3 153.6Z"/><path fill="url(#fl6)" d="M-53.6 150.2L-45.5 131.3L-30.7 132.9L-37.4 149.6Z"/><path fill="#6c5f8a" d="M-35.5 86.8L-44.8 77.8L-37.9 58.4L-25.7 72.9Z"/><path fill="url(#fl3)" d="M-38.2 81.9L-47.5 73L-40.6 53.5L-28.4 68.1Z"/><path fill="#7f729c" d="M-72.9 20.9L-78.9 2.4L-70.3 -10.5L-55 -10.9L-50.1 3L-59.6 18.6Z"/><path fill="url(#fl6)" d="M-78.1 19.1L-84.1 0.7L-75.5 -12.3L-60.2 -12.7L-55.4 1.2L-64.9 16.8Z"/><path fill="#7f729c" d="M-72.3 145.8L-69.9 124.4L-52.7 116L-36.9 121L-40.8 142.9L-55.7 152.1Z"/><path fill="url(#fl7)" d="M-74.5 141.2L-72.1 119.8L-54.9 111.4L-39.2 116.4L-43.1 138.3L-57.9 147.5Z"/><path fill="#7f729c" d="M-80.6 -72.6L-98.7 -85L-93.5 -107.7L-79.4 -95.9Z"/><path fill="url(#fl7)" d="M-83.1 -75.1L-101.3 -87.5L-96.1 -110.2L-81.9 -98.4Z"/><path fill="#766994" d="M-19.2 -37.9L-34.3 -50.5L-26.2 -65L-13.5 -51.7Z"/><path fill="url(#fl5)" d="M-21.3 -40.7L-36.5 -53.2L-28.4 -67.8L-15.7 -54.5Z"/><path fill="#766994" d="M-48.6 53.1L-61 51L-60.7 31.1L-45.8 29.5L-40.6 45.2Z"/><path fill="url(#fl5)" d="M-50.3 48.8L-62.7 46.7L-62.5 26.8L-47.6 25.3L-42.3 40.9Z"/><path fill="#6c5f8a" d="M-67.3 20.6L-83.6 28.2L-106.7 15.1L-82.3 -1.2Z"/><path fill="url(#fl3)" d="M-70.3 19.3L-86.6 26.9L-109.7 13.7L-85.2 -2.6Z"/><path fill="#63567f" d="M113.7 78.4L96.9 76.5L91.5 57.8L98.3 51.8L115.1 54L119.6 71.4Z"/><path fill="url(#fl1)" d="M110.9 73.5L94.1 71.6L88.7 52.8L95.5 46.9L112.3 49.1L116.8 66.5Z"/><path fill="#766994" d="M16.2 155.1L0.4 150.4L-6.7 136.4L-0.5 130L15.7 137.4Z"/><path fill="url(#fl5)" d="M13.7 151.7L-2.1 147L-9.1 133L-2.9 126.6L13.3 134Z"/><path fill="#6c5f8a" d="M180.3 4.2L165.6 10.6L149.2 7.1L140.9 -6.1L155.3 -20.5L176.6 -13.8Z"/><path fill="url(#fl2)" d="M178.9 0.3L164.2 6.7L147.8 3.2L139.5 -10L153.9 -24.4L175.2 -17.7Z"/><path fill="#7f729c" d="M-81.3 -24.6L-88.6 -16L-106.1 -20L-106 -31L-89.3 -32.1Z"/><path fill="url(#fl7)" d="M-83.9 -27.6L-91.2 -19L-108.7 -23L-108.6 -34L-91.9 -35.1Z"/><path fill="#63567f" d="M-73.3 -17.6L-75.3 -25.9L-64.7 -40L-60.3 -34L-64.7 -21.6Z"/><path fill="url(#fl0)" d="M-79.1 -19.7L-81 -28L-70.5 -42.1L-66.1 -36.1L-70.5 -23.8Z"/><path fill="#6c5f8a" d="M-91.4 -129.8L-61.3 -122.8L-54.5 -96.6L-76.6 -97.1Z"/><path fill="url(#fl3)" d="M-93.8 -134.6L-63.7 -127.6L-57 -101.5L-79.1 -101.9Z"/><path fill="#6c5f8a" d="M-4.4 52.2L-9.7 42.8L-2.9 30.3L10.6 26.7L15.7 34.7L3.7 53.6Z"/><path fill="url(#fl2)" d="M-8.4 48.7L-13.7 39.3L-6.9 26.7L6.7 23.1L11.8 31.2L-0.3 50.1Z"/><path fill="#7f729c" d="M-140 -72.6L-133.3 -87.9L-114.6 -87.4L-111.6 -72.6L-127.2 -62.4Z"/><path fill="url(#fl7)" d="M-143.2 -73.7L-136.5 -88.9L-117.8 -88.5L-114.8 -73.6L-130.4 -63.5Z"/><path fill="#766994" d="M-172.5 -28L-168.5 -33.6L-152.8 -39L-145.1 -37.3L-147.8 -29.5L-161.8 -24Z"/><path fill="url(#fl4)" d="M-174.8 -32.6L-170.8 -38.1L-155.1 -43.6L-147.4 -41.9L-150.1 -34.1L-164.1 -28.6Z"/><path fill="#6c5f8a" d="M-40.5 -95L-46.8 -107.2L-34.5 -119.8L-28.3 -107.9Z"/><path fill="url(#fl2)" d="M-43.9 -97.5L-50.2 -109.7L-37.9 -122.3L-31.7 -110.4Z"/><path fill="#63567f" d="M48.4 44.1L56.2 32L68.7 30.2L74.7 43.1L59.4 51.1Z"/><path fill="url(#fl1)" d="M44.8 41.2L52.5 29.1L65 27.3L71 40.2L55.8 48.2Z"/><path fill="#766994" d="M-94.7 -26.4L-97.6 -42.1L-76.5 -55.2L-68.3 -51.3L-64.4 -35.3L-78.9 -26.8Z"/><path fill="url(#fl4)" d="M-99.1 -27.3L-102 -43L-80.9 -56.2L-72.6 -52.2L-68.8 -36.2L-83.2 -27.7Z"/><path fill="#63567f" d="M150 26.5L151.7 5L166.3 -4L166.8 17Z"/><path fill="url(#fl1)" d="M149.2 22.8L151 1.4L165.5 -7.7L166.1 13.3Z"/><path fill="#766994" d="M134.9 3.5L106.2 1L101.6 -21.2L116.4 -23.1Z"/><path fill="url(#fl4)" d="M133.1 -2.7L104.4 -5.1L99.8 -27.3L114.6 -29.3Z"/><path fill="#7f729c" d="M15.3 -109.1L-4.4 -114.4L-9.7 -129.4L2.6 -137.4L19 -119.3Z"/><path fill="url(#fl6)" d="M10.6 -110.4L-9.1 -115.7L-14.4 -130.7L-2 -138.7L14.4 -120.6Z"/><path fill="#766994" d="M164 48L137.9 38.6L143 13.6L159.4 24.8Z"/><path fill="url(#fl5)" d="M161.6 44.9L135.5 35.5L140.7 10.4L157.1 21.7Z"/><path fill="#6c5f8a" d="M-149.3 76.9L-149.3 68.5L-134.6 59.1L-128.7 66.5L-135.2 78.5Z"/><path fill="url(#fl3)" d="M-151.3 74.3L-151.3 65.9L-136.6 56.5L-130.7 63.9L-137.1 75.9Z"/><path fill="#6c5f8a" d="M-20.9 144.9L-41.2 128.2L-28 112.8L-16 124.8Z"/><path fill="url(#fl2)" d="M-22.7 139.6L-43 122.9L-29.8 107.5L-17.8 119.5Z"/><path fill="#6c5f8a" d="M125.6 112.1L120.8 106.4L118.9 97L123.5 87.3L128.2 95L129.2 107.3Z"/><path fill="url(#fl3)" d="M120.4 110.5L115.6 104.8L113.7 95.3L118.3 85.7L123 93.4L124 105.6Z"/><path fill="#766994" d="M112.2 141.8L92.5 136.9L81.8 123.8L92.1 102.2L108.9 108.2L116.3 127.3Z"/><path fill="url(#fl5)" d="M110.1 139.5L90.3 134.6L79.7 121.5L89.9 99.9L106.8 105.9L114.1 125Z"/><path fill="#63567f" d="M93.4 123.5L79.3 116.9L75 104.2L81.2 95.1L95.4 110.2Z"/><path fill="url(#fl0)" d="M90.5 121.7L76.4 115.1L72.1 102.3L78.3 93.3L92.5 108.4Z"/><path fill="#6c5f8a" d="M108 12.7L117.7 -6.6L140.6 -10.6L146.9 2.6L121.3 16.7Z"/><path fill="url(#fl3)" d="M105.2 9.7L114.9 -9.7L137.8 -13.6L144.1 -0.4L118.5 13.6Z"/><path fill="#6c5f8a" d="M-103.6 113L-91.9 99.9L-77.1 95.6L-62.7 103.7L-75.7 117L-91.7 119.2Z"/><path fill="url(#fl3)" d="M-105.9 109.3L-94.3 96.2L-79.4 91.9L-65 100.1L-78 113.3L-94 115.5Z"/><path fill="#6c5f8a" d="M70.3 31.1L55.6 31.9L37.1 13.2L51.5 4.9L64.5 9.9Z"/><path fill="url(#fl3)" d="M66.1 27.6L51.4 28.4L32.9 9.8L47.3 1.5L60.3 6.5Z"/><path fill="#766994" d="M61.9 -22.3L61.2 -43.2L81.7 -49.5L87.1 -35.1L76 -20.9Z"/><path fill="url(#fl4)" d="M59 -24.9L58.3 -45.8L78.8 -52.1L84.2 -37.7L73.1 -23.5Z"/><path fill="#766994" d="M42.1 -153.3L58.4 -131.4L44.4 -113.2L32 -134.9Z"/><path fill="url(#fl5)" d="M40.4 -157.4L56.6 -135.5L42.7 -117.3L30.3 -139Z"/><path fill="#6c5f8a" d="M48 -12L38.5 -19.7L35.1 -40.3L43.5 -42.6L54.4 -26.8Z"/><path fill="url(#fl3)" d="M45.7 -16.3L36.2 -24L32.8 -44.6L41.2 -46.9L52.1 -31.1Z"/><path fill="#7f729c" d="M52.6 23.8L27.4 17.3L20.4 -0.9L42.6 -2.5Z"/><path fill="url(#fl6)" d="M49 21.2L23.8 14.6L16.9 -3.5L39.1 -5.1Z"/><path fill="#6c5f8a" d="M-113.5 133.4L-114 121.2L-103.7 112.7L-93.9 120.4L-99.9 131Z"/><path fill="url(#fl3)" d="M-114.7 127.7L-115.2 115.5L-104.8 106.9L-95.1 114.7L-101 125.2Z"/><path fill="#766994" d="M-143.1 -13L-152.1 -7.4L-163 -12.1L-169.2 -24.8L-156.4 -28.8L-142.5 -24.3Z"/><path fill="url(#fl4)" d="M-148.3 -14.6L-157.3 -9L-168.2 -13.7L-174.4 -26.4L-161.6 -30.4L-147.7 -25.9Z"/><path fill="#6c5f8a" d="M59.1 2.7L49.9 3.8L39.3 -10.2L42.3 -21.5L51.1 -22L64.1 -8.2Z"/><path fill="url(#fl3)" d="M55.8 -0.8L46.6 0.3L36 -13.6L38.9 -25L47.8 -25.4L60.8 -11.7Z"/><path fill="#766994" d="M-61.3 38L-77.7 34.3L-88.7 19.2L-78.4 13.3L-62.4 24.8Z"/><path fill="url(#fl4)" d="M-64.9 36.5L-81.3 32.7L-92.3 17.7L-82 11.8L-66 23.3Z"/><path fill="#766994" d="M71.4 -7.3L87.8 -29.4L113.5 -20.1L94.8 3.8Z"/><path fill="url(#fl4)" d="M66.8 -8.8L83.1 -30.9L108.8 -21.5L90.2 2.3Z"/><path fill="#63567f" d="M106.7 30.5L91.5 25.7L87.7 10.3L95 4.3L107.7 13.4Z"/><path fill="url(#fl1)" d="M104.7 25.7L89.5 21L85.7 5.6L93 -0.5L105.7 8.6Z"/><path fill="#6c5f8a" d="M-94.3 78.6L-88.3 66.9L-74.5 61.2L-67 62.5L-69.3 71.5L-87.1 79.8Z"/><path fill="url(#fl3)" d="M-95.7 74.4L-89.7 62.7L-75.8 56.9L-68.4 58.2L-70.6 67.3L-88.5 75.6Z"/><path fill="#7f729c" d="M60.4 -12.3L63.6 -19.5L77.4 -24.8L88.5 -22L85.4 -9.9L70.2 -5.3Z"/><path fill="url(#fl6)" d="M58.5 -18.3L61.7 -25.5L75.5 -30.7L86.6 -27.9L83.5 -15.9L68.3 -11.2Z"/><path fill="#6c5f8a" d="M104.6 124.4L92.9 120.4L92.4 92.7L108.7 89.4L118.8 104.3Z"/><path fill="url(#fl2)" d="M101 119.8L89.2 115.8L88.7 88.2L105 84.8L115.2 99.7Z"/><path fill="#6c5f8a" d="M-1.1 136.6L-15 129.4L-14 107.4L0.6 123.2Z"/><path fill="url(#fl2)" d="M-2.7 131.1L-16.6 123.9L-15.6 102L-1 117.7Z"/><path fill="#6c5f8a" d="M-86.9 -143.5L-70.3 -135.7L-69.8 -115.5L-77 -109.8L-92.7 -130.4Z"/><path fill="url(#fl2)" d="M-88.9 -147L-72.4 -139.2L-71.8 -119L-79.1 -113.2L-94.8 -133.8Z"/><path fill="#6c5f8a" d="M-50.9 60.1L-47.2 53.6L-32.4 49.5L-27.3 55.2L-30.3 60.4L-39.9 63.9Z"/><path fill="url(#fl3)" d="M-56.8 57.4L-53.1 50.9L-38.3 46.8L-33.2 52.4L-36.2 57.7L-45.8 61.2Z"/><path fill="#63567f" d="M3.9 60.3L-12.4 64.3L-27.5 48.7L-17.3 33.2L2.2 46.6Z"/><path fill="url(#fl1)" d="M1 55.2L-15.3 59.1L-30.4 43.6L-20.2 28.1L-0.7 41.5Z"/><path fill="#766994" d="M49.1 -88.1L38 -86.8L31.7 -101.2L35.2 -113L48.5 -107.9L55.5 -95.8Z"/><path fill="url(#fl4)" d="M45.7 -93.2L34.6 -91.9L28.4 -106.3L31.8 -118.1L45.1 -113L52.1 -100.9Z"/><path fill="#7f729c" d="M43.8 -14.3L47.9 -30.3L69.4 -33.6L74.9 -23L62.7 -7.4Z"/><path fill="url(#fl6)" d="M41.7 -19.6L45.9 -35.6L67.4 -39L72.9 -28.3L60.7 -12.8Z"/><path fill="#766994" d="M-34.7 127.1L-47 131.3L-64.5 125.5L-65.8 109.3L-56.1 103.5L-38 111.7Z"/><path fill="url(#fl5)" d="M-36.8 122.5L-49.1 126.7L-66.7 120.9L-67.9 104.7L-58.2 99L-40.1 107.1Z"/><path fill="#6c5f8a" d="M-28.8 -80.4L-33.3 -92.6L-26.7 -102.8L-23.6 -88.8Z"/><path fill="url(#fl3)" d="M-33.3 -84.9L-37.8 -97.1L-31.2 -107.2L-28.1 -93.2Z"/><path fill="#6c5f8a" d="M104.8 -82.1L85.2 -79L71.7 -102L101.3 -103.2Z"/><path fill="url(#fl3)" d="M99.7 -85.6L80.1 -82.5L66.6 -105.5L96.1 -106.7Z"/><path fill="#6c5f8a" d="M-46.4 -43.4L-55.4 -44.3L-66.3 -55.2L-67.1 -60.8L-57.4 -62.9L-50 -55.6Z"/><path fill="url(#fl2)" d="M-51.2 -47.5L-60.2 -48.5L-71.1 -59.4L-71.9 -64.9L-62.3 -67L-54.8 -59.7Z"/><path fill="#63567f" d="M102.6 75.7L94.4 84.4L80.9 80.8L74.8 71.2L85.6 61.8L98.4 66.2Z"/><path fill="url(#fl1)" d="M100.2 72.8L92 81.5L78.6 77.9L72.4 68.3L83.2 58.9L96.1 63.3Z"/><path fill="#766994" d="M-172.9 -89.6L-159.4 -96L-139.3 -84.7L-138.2 -77.2L-162.7 -79.3Z"/><path fill="url(#fl4)" d="M-175.9 -91.3L-162.4 -97.7L-142.4 -86.4L-141.2 -78.9L-165.8 -81Z"/><path fill="#6c5f8a" d="M-120.9 -121.5L-110.2 -115.9L-107.7 -103L-111.5 -93.6L-122.1 -101.1L-124 -113.1Z"/><path fill="url(#fl3)" d="M-125.1 -124.8L-114.4 -119.2L-112 -106.4L-115.7 -97L-126.3 -104.5L-128.3 -116.5Z"/><path fill="#7f729c" d="M-122.5 -65L-111.4 -73.1L-99.4 -71.5L-97.3 -63.5L-109.9 -57.9Z"/><path fill="url(#fl6)" d="M-126.1 -69.5L-115 -77.6L-103 -76L-100.9 -68L-113.5 -62.4Z"/><path fill="#7f729c" d="M-130.7 123.5L-128.4 111.6L-116 106.5L-105.1 112.7L-109.2 128.1L-123.6 130.5Z"/><path fill="url(#fl6)" d="M-133.9 120.2L-131.6 108.4L-119.1 103.2L-108.2 109.5L-112.3 124.8L-126.8 127.3Z"/><path fill="#766994" d="M-112.1 32.3L-122.9 25.7L-123.2 7.2L-111.3 14.7Z"/><path fill="url(#fl5)" d="M-116.5 31L-127.2 24.4L-127.6 5.9L-115.7 13.4Z"/><path fill="#766994" d="M-150 39.3L-155.7 35.7L-161.4 18.3L-156.5 15.9L-148.2 27.6Z"/><path fill="url(#fl5)" d="M-154.7 37.1L-160.4 33.5L-166.1 16L-161.2 13.6L-152.9 25.3Z"/><path fill="#766994" d="M134 -100L137 -88.8L126.4 -73.1L115.2 -70.7L112.1 -78.8L125.6 -98.5Z"/><path fill="url(#fl4)" d="M131.6 -105.9L134.6 -94.7L124 -79L112.8 -76.6L109.7 -84.7L123.1 -104.5Z"/><path fill="#6c5f8a" d="M-57.6 -0.8L-53.1 -16.6L-33.5 -22.1L-39.6 -1.2Z"/><path fill="url(#fl3)" d="M-58.9 -6.3L-54.4 -22.2L-34.8 -27.6L-40.9 -6.8Z"/><path fill="#7f729c" d="M18.2 27.6L27.1 23.4L41.9 24.6L39.3 30.5L30.3 33Z"/><path fill="url(#fl6)" d="M15 22.7L24 18.5L38.8 19.7L36.2 25.6L27.1 28.1Z"/><path fill="#7f729c" d="M-35.2 -27.8L-46.4 -29.4L-61.2 -54.2L-54.2 -59.9L-33.3 -43.7Z"/><path fill="url(#fl6)" d="M-38.6 -30.9L-49.9 -32.5L-64.7 -57.3L-57.6 -63L-36.8 -46.9Z"/><path fill="#766994" d="M-83.6 72L-89.7 78.6L-104.2 74L-108.3 62.7L-99 57.3L-85.8 59.5Z"/><path fill="url(#fl4)" d="M-88.8 69.3L-94.9 75.9L-109.4 71.4L-113.5 60L-104.2 54.6L-91 56.8Z"/><path fill="#63567f" d="M-151.2 -73.2L-141.8 -69.9L-137.7 -58.5L-140.5 -47.6L-150.9 -50.2L-158.2 -63.8Z"/><path fill="url(#fl1)" d="M-152.5 -77.2L-143.2 -73.8L-139 -62.4L-141.9 -51.6L-152.3 -54.1L-159.5 -67.7Z"/><path fill="#766994" d="M112.3 -117.9L113 -103.6L107.3 -94.7L93.6 -92.5L94.5 -102.6L100.4 -114.1Z"/><path fill="url(#fl4)" d="M108 -121.9L108.7 -107.5L102.9 -98.6L89.3 -96.4L90.2 -106.5L96 -118.1Z"/><path fill="#7f729c" d="M-182.9 -2.6L-170.5 -10.5L-142.9 -7.9L-136.3 5.6L-168.6 13.6Z"/><path fill="url(#fl7)" d="M-184.9 -5L-172.5 -12.9L-144.9 -10.4L-138.3 3.2L-170.6 11.2Z"/><path fill="#766994" d="M-200.5 9.1L-195.6 -10.4L-177 -14.2L-169.2 -7.6L-186.9 14.1Z"/><path fill="url(#fl4)" d="M-201.9 6.2L-196.9 -13.3L-178.4 -17.1L-170.5 -10.5L-188.3 11.2Z"/><path fill="#63567f" d="M26 125.8L24.6 116.1L29.7 102.6L34.2 102.5L34 117.7Z"/><path fill="url(#fl1)" d="M23.9 120.2L22.4 110.5L27.5 97L32.1 97L31.8 112.1Z"/><path fill="#766994" d="M-78.8 -59.1L-77.7 -68.6L-72.3 -75.5L-62.5 -76.6L-59.9 -67.8L-66.6 -58.4Z"/><path fill="url(#fl4)" d="M-80.5 -61.8L-79.4 -71.2L-73.9 -78.1L-64.2 -79.2L-61.5 -70.4L-68.3 -61.1Z"/><path fill="#766994" d="M-173.4 94.8L-169 77.7L-143.2 75.4L-140.4 85.3L-161.2 99.3Z"/><path fill="url(#fl4)" d="M-177 93.2L-172.6 76.1L-146.8 73.8L-144.1 83.7L-164.9 97.7Z"/><path fill="#6c5f8a" d="M-126.9 56.6L-143.2 62.8L-160.5 54.1L-160.9 43.1L-149.4 33.7L-126.6 43.8Z"/><path fill="url(#fl3)" d="M-132.7 55.4L-149 61.6L-166.3 52.9L-166.7 41.9L-155.2 32.5L-132.3 42.6Z"/><path fill="#7f729c" d="M116 -138.4L101.7 -112.1L80.6 -108.6L93.2 -137.7Z"/><path fill="url(#fl6)" d="M113.9 -141.4L99.6 -115.1L78.6 -111.6L91.2 -140.7Z"/><path fill="#766994" d="M-20.7 -140.4L-11.1 -126.3L-20.2 -103.9L-29.4 -103.2L-29.5 -128.4Z"/><path fill="url(#fl4)" d="M-23.6 -141.9L-13.9 -127.8L-23.1 -105.3L-32.3 -104.7L-32.4 -129.8Z"/><path fill="#6c5f8a" d="M28.8 111.4L14.9 113.8L5.8 110.4L6 101.1L20.4 102.8Z"/><path fill="url(#fl3)" d="M25.1 110.1L11.3 112.5L2.1 109.1L2.4 99.8L16.8 101.5Z"/><path fill="#6c5f8a" d="M89.6 153.1L75.7 135L86.2 109.4L96.4 136.3Z"/><path fill="url(#fl2)" d="M87.4 148.9L73.4 130.9L83.9 105.2L94.1 132.1Z"/><path fill="#7f729c" d="M158.4 9.4L138.8 13.5L123.6 -18.8L146.5 -21.1Z"/><path fill="url(#fl6)" d="M155 5.6L135.5 9.6L120.2 -22.7L143.1 -24.9Z"/><path fill="#63567f" d="M2.7 -20.5L6 -31.5L20 -38L28.1 -30.5L18.9 -16.7Z"/><path fill="url(#fl1)" d="M-1.4 -22.1L1.9 -33.2L15.9 -39.7L24 -32.2L14.8 -18.3Z"/><path fill="#766994" d="M67.8 -67.2L48.7 -64.3L28.4 -82.3L53.9 -85.5Z"/><path fill="url(#fl5)" d="M65.4 -69.1L46.3 -66.2L25.9 -84.2L51.5 -87.4Z"/><path fill="#6c5f8a" d="M47.4 97.4L41 91.5L43.4 77.9L54.6 72.4L61.3 79.6L57 93.7Z"/><path fill="url(#fl3)" d="M45 95.2L38.6 89.4L41 75.8L52.2 70.3L58.9 77.4L54.6 91.6Z"/><path fill="#6c5f8a" d="M68.9 41.9L50.2 44L25.1 30.5L34.5 20.7L55.3 22.7Z"/><path fill="url(#fl2)" d="M63.9 40.4L45.2 42.5L20.1 29L29.5 19.2L50.3 21.2Z"/><path fill="#6c5f8a" d="M-137.5 -108.2L-125 -103.8L-111.7 -93.1L-110.5 -80.1L-121.2 -77.4L-136.8 -91.2Z"/><path fill="url(#fl3)" d="M-141.8 -109.4L-129.3 -105L-116 -94.2L-114.8 -81.3L-125.5 -78.6L-141.1 -92.4Z"/><path fill="#766994" d="M-66.8 -28L-59.7 -36.8L-52.1 -40L-44.2 -36.8L-47.2 -28L-55.3 -24.7Z"/><path fill="url(#fl4)" d="M-71.9 -31.4L-64.8 -40.2L-57.3 -43.4L-49.3 -40.2L-52.4 -31.4L-60.4 -28.1Z"/><path fill="#6c5f8a" d="M-64.8 33.2L-64.8 23.4L-58.9 15.3L-52.4 9.9L-49.4 17.5L-57.8 31.7Z"/><path fill="url(#fl3)" d="M-68.7 31.8L-68.7 21.9L-62.8 13.8L-56.3 8.4L-53.3 16L-61.8 30.2Z"/><path fill="#6c5f8a" d="M-136.8 111.4L-128.7 101.7L-114.7 103.8L-126.8 116.1Z"/><path fill="url(#fl3)" d="M-140.1 106.1L-132 96.4L-117.9 98.5L-130.1 110.7Z"/><path fill="#7f729c" d="M152.2 86.7L134.6 84.4L127.1 70.3L130.7 54.9L141.5 57.4L154.2 74.7Z"/><path fill="url(#fl6)" d="M147.5 82.5L129.8 80.2L122.4 66.1L126 50.7L136.8 53.2L149.5 70.6Z"/><path fill="#6c5f8a" d="M-122.2 62.8L-133.6 47.2L-126.4 20.2L-106.8 43.7Z"/><path fill="url(#fl3)" d="M-125.3 57.4L-136.7 41.8L-129.5 14.8L-109.9 38.3Z"/><path fill="#6c5f8a" d="M-210.3 16.9L-189.5 2.7L-175.1 12.5L-193.5 24.9Z"/><path fill="url(#fl3)" d="M-212.6 12L-191.8 -2.2L-177.4 7.6L-195.8 20Z"/><path fill="#6c5f8a" d="M-74.7 46.4L-92.2 49.4L-94.9 23L-76.2 29.2Z"/><path fill="url(#fl2)" d="M-77.6 44.8L-95.1 47.8L-97.7 21.4L-79 27.6Z"/><path fill="#63567f" d="M116.2 -38L106.9 -29.5L87.1 -34.8L88.6 -44.7L104.7 -45.4Z"/><path fill="url(#fl1)" d="M113.2 -39.4L103.9 -30.9L84.2 -36.2L85.6 -46.1L101.7 -46.8Z"/></g></g><radialGradient id="dotG" cx=".45" cy=".42" r=".6"><stop offset="0" stop-color="#5c5c5c"/><stop offset=".6" stop-color="#3e3e3e"/><stop offset="1" stop-color="#1e1e1e"/></radialGradient><clipPath id="cav5"><polygon points="151.8,-8.5 151.3,5 150.5,18.7 148.7,22.4 150.1,32 145,38.2 147,41.8 144.2,49.5 138.7,52.1 139.4,57.5 133.8,63.4 130.4,64.4 125.7,70.5 124,74.7 118,76 114.9,79.1 109.4,83.4 103,85.5 95.4,86.8 91.2,89.4 81.5,90.9 78.6,95.1 69.2,95 61.9,95.5 51.9,95.2 41.7,100.5 30.2,96.7 14.5,98.1 0.2,96.6 -7.8,96.7 -9.8,99.7 -12.3,97.6 -18.3,93.9 -20.2,94.3 -21.8,92 -27.4,87.7 -30,85.3 -31.5,85.4 -34.4,78.3 -37.4,74.2 -43.3,73.6 -45.1,70 -45.9,64.7 -48.7,61.3 -49.8,52.2 -51.1,49.1 -56.3,45.9 -55,40 -57.4,30.7 -60.9,28.8 -58.5,20.4 -60.6,13.6 -61.4,8.7 -65.1,1.8 -63.1,-3 -62.6,-9.7 -62.9,-16.5 -61.8,-25.2 -62.1,-29.2 -64,-35.1 -60.3,-40.9 -61.3,-50 -56.7,-54 -56.1,-63.1 -54.1,-68.7 -53.3,-73.6 -49.3,-82.5 -48.2,-83.6 -47.4,-92.1 -43.9,-98 -40.1,-100.5 -38,-103.5 -38.1,-110.4 -33.2,-112.1 -30.3,-117.1 -28.7,-119.4 -20.9,-124 -19.1,-125.5 -13.9,-124.6 -14,-125.3 -9.9,-127.9 -6.6,-130.6 -3.9,-130.9 5.9,-132.2 14.6,-132 28.4,-129.3 37.8,-128 44.8,-127.1 54.3,-125.5 62.6,-123.2 67.1,-120.6 74.2,-118 83.1,-113.4 92.9,-112.7 97.6,-105.7 104.2,-104.6 108.8,-97 114.8,-93.6 119,-88.2 125,-83.1 128,-80.3 131.5,-72.9 134.7,-68.2 140.7,-62.4 141.5,-56.2 144.9,-47 145.9,-41.2 150.9,-34.1 148.5,-24.9 152.2,-17.3"/></clipPath><clipPath id="face5c"><path d="M181.5 0L181.2 10.5L180.3 18.9L178.8 26.6L176.6 33.8L173.9 40.7L170.6 47.2L166.7 53.4L162.2 59.4L157.2 65L151.5 70.3L145.4 75.3L138.7 80L131.5 84.4L123.7 88.5L115.5 92.3L106.7 95.7L97.5 98.8L87.8 101.5L77.5 103.9L66.8 105.9L55.5 107.5L43.6 108.8L31 109.8L17.2 110.3L0 110.5L-4.7 110.3L-9.5 109.6L-14.1 108.5L-18.8 107L-23.3 105.1L-27.8 102.7L-32.1 100L-36.4 96.8L-40.5 93.3L-44.4 89.4L-48.1 85.1L-51.7 80.6L-55 75.6L-58.2 70.4L-61.1 65L-63.7 59.2L-66.2 53.2L-68.3 47L-70.2 40.7L-71.8 34.1L-73.1 27.5L-74.2 20.7L-74.9 13.8L-75.4 6.9L-75.5 0L-75.4 -9.5L-74.9 -19L-74.2 -28.4L-73.1 -37.7L-71.8 -46.8L-70.2 -55.8L-68.3 -64.5L-66.2 -73L-63.7 -81.2L-61.1 -89L-58.2 -96.6L-55 -103.7L-51.7 -110.4L-48.1 -116.7L-44.4 -122.6L-40.5 -127.9L-36.4 -132.8L-32.1 -137.1L-27.8 -140.9L-23.3 -144.1L-18.8 -146.7L-14.1 -148.8L-9.5 -150.3L-4.7 -151.2L0 -151.5L11.4 -151.2L22.7 -150.3L34 -148.8L45.1 -146.7L56.1 -144.1L66.8 -140.9L77.3 -137.1L87.4 -132.8L97.3 -127.9L106.7 -122.6L115.7 -116.7L124.2 -110.4L132.3 -103.7L139.8 -96.6L146.8 -89L153.2 -81.2L159 -73L164.2 -64.5L168.8 -55.8L172.6 -46.8L175.8 -37.7L178.3 -28.4L180.1 -19L181.1 -9.5Z"/></clipPath><linearGradient id="f5L" x1="0" y1="0" x2="0" y2="1"><stop offset="0" stop-color="#969f52"/><stop offset="1" stop-color="#8a9447"/></linearGradient><linearGradient id="f5R" x1="0" y1="0" x2="1" y2="1"><stop offset="0" stop-color="#87913f"/><stop offset=".5" stop-color="#7b8536"/><stop offset="1" stop-color="#828c3e"/></linearGradient><g id="face5"><path d="M181.5 0L181.2 10.5L180.3 18.9L178.8 26.6L176.6 33.8L173.9 40.7L170.6 47.2L166.7 53.4L162.2 59.4L157.2 65L151.5 70.3L145.4 75.3L138.7 80L131.5 84.4L123.7 88.5L115.5 92.3L106.7 95.7L97.5 98.8L87.8 101.5L77.5 103.9L66.8 105.9L55.5 107.5L43.6 108.8L31 109.8L17.2 110.3L0 110.5L-4.7 110.3L-9.5 109.6L-14.1 108.5L-18.8 107L-23.3 105.1L-27.8 102.7L-32.1 100L-36.4 96.8L-40.5 93.3L-44.4 89.4L-48.1 85.1L-51.7 80.6L-55 75.6L-58.2 70.4L-61.1 65L-63.7 59.2L-66.2 53.2L-68.3 47L-70.2 40.7L-71.8 34.1L-73.1 27.5L-74.2 20.7L-74.9 13.8L-75.4 6.9L-75.5 0L-75.4 -9.5L-74.9 -19L-74.2 -28.4L-73.1 -37.7L-71.8 -46.8L-70.2 -55.8L-68.3 -64.5L-66.2 -73L-63.7 -81.2L-61.1 -89L-58.2 -96.6L-55 -103.7L-51.7 -110.4L-48.1 -116.7L-44.4 -122.6L-40.5 -127.9L-36.4 -132.8L-32.1 -137.1L-27.8 -140.9L-23.3 -144.1L-18.8 -146.7L-14.1 -148.8L-9.5 -150.3L-4.7 -151.2L0 -151.5L11.4 -151.2L22.7 -150.3L34 -148.8L45.1 -146.7L56.1 -144.1L66.8 -140.9L77.3 -137.1L87.4 -132.8L97.3 -127.9L106.7 -122.6L115.7 -116.7L124.2 -110.4L132.3 -103.7L139.8 -96.6L146.8 -89L153.2 -81.2L159 -73L164.2 -64.5L168.8 -55.8L172.6 -46.8L175.8 -37.7L178.3 -28.4L180.1 -19L181.1 -9.5Z" fill="url(#f5R)"/><g clip-path="url(#face5c)"><rect x="-80" y="-155" width="80" height="270" fill="url(#f5L)"/><rect x="-80" y="-155" width="265" height="270" filter="url(#grain)" opacity=".4"/></g><g clip-path="url(#cav5)"><rect x="-70" y="-135" width="225" height="240" fill="#12150a"/><use href="#cavCells" transform="translate(-2.99 -10.05) scale(0.9839 0.9913)"/></g></g><g id="edgeFl" stroke="#d6cee8" stroke-width=".9" stroke-linejoin="round" stroke-opacity=".75"><polygon points="5.6,118.7 -6.4,125.8 -19.7,121.1 -19.7,112.9 -2.9,110.8" fill="#ab9fc7"/><polygon points="-10.7,115.6 -16.9,117.7 -30.8,111.4 -28.8,105.2 -16.4,107" fill="#a295bf"/><polygon points="-23.8,102.3 -29.1,112.3 -42.4,111.9 -43.6,99.5 -30.5,96.4" fill="#b4a9ce"/><polygon points="-34.6,101.4 -46.2,106 -57.5,99.4 -53.9,88.8 -39,90.4" fill="#beb4d6"/><polygon points="-46.8,88.2 -54,93.3 -67.7,89.4 -67.9,78.6 -55.2,77.1" fill="#ab9fc7"/><polygon points="-53.1,74.7 -66.9,78.9 -79,71.2 -76,63.4 -59.8,65.4" fill="#b4a9ce"/><polygon points="-62.8,63.2 -78.9,66.5 -91.9,57.7 -88.4,44.5 -72.6,46.6" fill="#b4a9ce"/><polygon points="-69.2,32.3 -73.9,40.5 -85.2,43.7 -88.7,36.8 -77.8,30.3" fill="#ab9fc7"/><polygon points="-71.4,24.4 -82.7,27.5 -94.1,18.2 -91.9,12.2 -76,13.7" fill="#a295bf"/><polygon points="-69.7,-3.7 -74.7,7.6 -95.8,6 -94.4,-5.9 -83.1,-10.4" fill="#beb4d6"/><polygon points="-71.6,-27.1 -79.4,-18.2 -91.4,-18.7 -94.4,-27.7 -82.9,-33.5" fill="#beb4d6"/><polygon points="-66.3,-45.4 -81,-41.4 -91.5,-51.7 -83.7,-61.2 -71.9,-57.6" fill="#beb4d6"/><polygon points="-60.4,-74.2 -66.3,-67.5 -82.8,-69.2 -81.4,-79.3 -70.1,-82.6" fill="#ab9fc7"/><polygon points="-53.9,-97.5 -61.3,-88.1 -80.3,-91.1 -79.2,-104.7 -64.3,-108.3" fill="#978ab5"/><polygon points="-44.5,-110 -53.5,-105.9 -67.5,-114.9 -63.9,-123.8 -50.7,-120.5" fill="#b4a9ce"/><polygon points="-34.3,-135.2 -38.5,-123.6 -52,-120 -57.3,-132.2 -45.5,-140.2" fill="#b4a9ce"/><polygon points="-20.3,-140.2 -32,-134.8 -49.6,-144 -43.8,-156.1 -30.6,-155.4" fill="#b4a9ce"/><polygon points="-9.3,-152.3 -17.9,-141.1 -32.9,-146.2 -30.9,-158.1 -18.3,-160.4" fill="#beb4d6"/><polygon points="5.5,-147.3 -7.5,-143.4 -23.1,-155.9 -14.5,-170.2 -0.9,-166.8" fill="#978ab5"/></g>
</defs>
<rect width="2427" height="2051" fill="#fff"/>
<ellipse cx="418" cy="281" rx="88" ry="9" fill="#8f8f9a" opacity=".5" filter="url(#blur6)"/>
<ellipse cx="381" cy="192" rx="127.6" ry="98.6" fill="url(#s1g)"/>
<ellipse cx="1290" cy="290" rx="85" ry="9" fill="#9a9ab0" opacity=".6" filter="url(#blur6)"/>
<use href="#geo" x="1221" y="181"/>
<ellipse cx="2158.5" cy="305.5" rx="150" ry="19" fill="#000" opacity=".92" filter="url(#blur14)"/><ellipse cx="2146.5" cy="299.5" rx="160" ry="14" fill="#000" opacity=".55" filter="url(#blur6)"/>
<g transform="translate(2136.5 171.5)">
<use href="#shellBody"/>
<g clip-path="url(#cavSm)"><rect x="-70" y="-125" width="230" height="240" fill="#6f6845"/><use href="#geo" transform="translate(2.5 -3) scale(1.1 1.08)"/></g>
</g>
<ellipse cx="2158.2" cy="898.2" rx="150" ry="19" fill="#000" opacity=".92" filter="url(#blur14)"/><ellipse cx="2146.2" cy="892.2" rx="160" ry="14" fill="#000" opacity=".55" filter="url(#blur6)"/>
<g transform="translate(2136.2 764.2)"><use href="#shellBody"/><use href="#cavity"/></g>
<ellipse cx="1253.3" cy="889" rx="172" ry="12" fill="#333" opacity=".5" filter="url(#blur10)"/>
<use href="#flakes" x="1245.3" y="742"/>
<use href="#face5" x="1242.5" y="752"/>
<use href="#edgeFl" x="1242.5" y="752"/>
<ellipse cx="416.6" cy="889" rx="172" ry="12" fill="#333" opacity=".5" filter="url(#blur10)"/>
<use href="#flakes" x="408.6" y="742"/>
<use href="#face5" x="405.8" y="752"/>
<use href="#edgeFl" x="405.8" y="752"/>
<g fill="url(#dotG)"><ellipse cx="331.7" cy="616.3" rx="13" ry="12.2"/><ellipse cx="288.2" cy="638.8" rx="13" ry="12.2"/><ellipse cx="298.8" cy="665.9" rx="13" ry="12.2"/><ellipse cx="239.8" cy="687.3" rx="13" ry="12.2"/><ellipse cx="222.9" cy="739.1" rx="13" ry="12.2"/><ellipse cx="301.3" cy="752.6" rx="13" ry="12.2"/><ellipse cx="253.3" cy="763.8" rx="13" ry="12.2"/><ellipse cx="267.5" cy="807.3" rx="13" ry="12.2"/><ellipse cx="325.4" cy="813.4" rx="13" ry="12.2"/><ellipse cx="337.8" cy="869.7" rx="13" ry="12.2"/></g>
<g stroke="#19191a" stroke-width="1.4" stroke-linejoin="round" fill="url(#arG)" filter="url(#arB)">
<use href="#arR" x="670" y="110"/>
<use href="#arR" x="1560.3" y="110"/>
<use href="#arR" transform="translate(690 690) rotate(180 120.46 77.33)"/>
<use href="#arR" transform="translate(1582.6 690) rotate(180 120.46 77.33)"/>
</g>
<path d="M2056.6 414.4Q2090 441 2126.4 439.9Q2163 438 2192.7 413.2L2127.5 566.3Z" fill="url(#arV)" stroke="#19191a" stroke-width="1.4" stroke-linejoin="round" filter="url(#arB)"/>
<g font-family='"Liberation Serif", serif' font-weight="700" font-size="63.3" fill="#000">
<text x="89.2" y="142.6">(a)</text>
<text x="85.2" y="1026.3">(b)</text>
<text x="1235" y="1026.3">(c)</text>
</g>
<g font-family='"Liberation Sans", sans-serif' fill="#1b2412" stroke="#1b2412" stroke-width="1.4" stroke-linejoin="round">
<text x="330" y="364.2" font-size="42.3" textLength="113" lengthAdjust="spacingAndGlyphs">SiO<tspan font-size="30.5">2</tspan></text>
<text x="1081" y="362.5" font-size="42.3" textLength="303.5" lengthAdjust="spacingAndGlyphs">SiO<tspan font-size="30.5">2</tspan>@mSiO<tspan font-size="30.5">2</tspan></text>
<text x="1872" y="367.3" font-size="38" textLength="537" lengthAdjust="spacingAndGlyphs">SiO<tspan font-size="27.5">2</tspan>@mSiO<tspan font-size="27.5">2</tspan>@g-C<tspan font-size="27.5">3</tspan>N<tspan font-size="27.5">4</tspan></text>
<text x="166.5" y="949.3" font-size="42.3" textLength="493.5" lengthAdjust="spacingAndGlyphs">HCNS@LDH/NQCDs</text>
<text x="1107.5" y="957.6" font-size="42.3" textLength="292" lengthAdjust="spacingAndGlyphs">HCNS@LDH</text>
<text x="2061" y="964.3" font-size="42.3" textLength="144" lengthAdjust="spacingAndGlyphs">HCNS</text>
</g>
<g id="chartb">
<polyline points="270.9,1120.7 350.7,1120.7 430.5,1120.7 536.9,1120.7 643.3,1122.2 749.7,1124.6 856.1,1128.4 962.5,1126.1 1068.9,1128.4" fill="none" stroke="#000000" stroke-width="10" stroke-linejoin="round" stroke-linecap="round"/>
<g fill="url(#gb0)"><circle cx="270.9" cy="1120.7" r="11.5"/><circle cx="350.7" cy="1120.7" r="11.5"/><circle cx="430.5" cy="1120.7" r="11.5"/><circle cx="536.9" cy="1120.7" r="11.5"/><circle cx="643.3" cy="1122.2" r="11.5"/><circle cx="749.7" cy="1124.6" r="11.5"/><circle cx="856.1" cy="1128.4" r="11.5"/><circle cx="962.5" cy="1126.1" r="11.5"/><circle cx="1068.9" cy="1128.4" r="11.5"/></g>
<polyline points="270.9,1120.7 350.7,1151.6 430.5,1153.2 536.9,1236.7 643.3,1267.6 749.7,1298.6 856.1,1321.8 962.5,1337.2 1068.9,1352.7" fill="none" stroke="#2d0b4f" stroke-width="10" stroke-linejoin="round" stroke-linecap="round"/>
<g fill="url(#gb1)"><circle cx="270.9" cy="1120.7" r="11.5"/><circle cx="350.7" cy="1151.6" r="11.5"/><circle cx="430.5" cy="1153.2" r="11.5"/><circle cx="536.9" cy="1236.7" r="11.5"/><circle cx="643.3" cy="1267.6" r="11.5"/><circle cx="749.7" cy="1298.6" r="11.5"/><circle cx="856.1" cy="1321.8" r="11.5"/><circle cx="962.5" cy="1337.2" r="11.5"/><circle cx="1068.9" cy="1352.7" r="11.5"/></g>
<polyline points="270.9,1120.7 350.7,1160.9 430.5,1167.1 536.9,1321.8 643.3,1383.6 749.7,1430 856.1,1461 962.5,1484.2 1068.9,1507.3" fill="none" stroke="#3e0b69" stroke-width="10" stroke-linejoin="round" stroke-linecap="round"/>
<g fill="url(#gb2)"><circle cx="270.9" cy="1120.7" r="11.5"/><circle cx="350.7" cy="1160.9" r="11.5"/><circle cx="430.5" cy="1167.1" r="11.5"/><circle cx="536.9" cy="1321.8" r="11.5"/><circle cx="643.3" cy="1383.6" r="11.5"/><circle cx="749.7" cy="1430" r="11.5"/><circle cx="856.1" cy="1461" r="11.5"/><circle cx="962.5" cy="1484.2" r="11.5"/><circle cx="1068.9" cy="1507.3" r="11.5"/></g>
<polyline points="270.9,1120.7 350.7,1169.4 430.5,1173.3 536.9,1391.4 643.3,1445.5 749.7,1491.9 856.1,1522.8 962.5,1546 1068.9,1553.7" fill="none" stroke="#7618f3" stroke-width="10" stroke-linejoin="round" stroke-linecap="round"/>
<g fill="url(#gb3)"><circle cx="270.9" cy="1120.7" r="11.5"/><circle cx="350.7" cy="1169.4" r="11.5"/><circle cx="430.5" cy="1173.3" r="11.5"/><circle cx="536.9" cy="1391.4" r="11.5"/><circle cx="643.3" cy="1445.5" r="11.5"/><circle cx="749.7" cy="1491.9" r="11.5"/><circle cx="856.1" cy="1522.8" r="11.5"/><circle cx="962.5" cy="1546" r="11.5"/><circle cx="1068.9" cy="1553.7" r="11.5"/></g>
<polyline points="270.9,1120.7 350.7,1178.7 430.5,1181 536.9,1430 643.3,1476.4 749.7,1522.8 856.1,1553.7 962.5,1576.9 1068.9,1584.7" fill="none" stroke="#9458f6" stroke-width="10" stroke-linejoin="round" stroke-linecap="round"/>
<g fill="url(#gb4)"><circle cx="270.9" cy="1120.7" r="11.5"/><circle cx="350.7" cy="1178.7" r="11.5"/><circle cx="430.5" cy="1181" r="11.5"/><circle cx="536.9" cy="1430" r="11.5"/><circle cx="643.3" cy="1476.4" r="11.5"/><circle cx="749.7" cy="1522.8" r="11.5"/><circle cx="856.1" cy="1553.7" r="11.5"/><circle cx="962.5" cy="1576.9" r="11.5"/><circle cx="1068.9" cy="1584.7" r="11.5"/></g>
<polyline points="270.9,1120.7 350.7,1186.4 430.5,1188.8 536.9,1468.7 643.3,1538.3 749.7,1584.7 856.1,1607.9 962.5,1638.8 1068.9,1669.7" fill="none" stroke="#b854f7" stroke-width="10" stroke-linejoin="round" stroke-linecap="round"/>
<g fill="url(#gb5)"><circle cx="270.9" cy="1120.7" r="11.5"/><circle cx="350.7" cy="1186.4" r="11.5"/><circle cx="430.5" cy="1188.8" r="11.5"/><circle cx="536.9" cy="1468.7" r="11.5"/><circle cx="643.3" cy="1538.3" r="11.5"/><circle cx="749.7" cy="1584.7" r="11.5"/><circle cx="856.1" cy="1607.9" r="11.5"/><circle cx="962.5" cy="1638.8" r="11.5"/><circle cx="1068.9" cy="1669.7" r="11.5"/></g>
<polyline points="270.9,1120.7 350.7,1194.2 430.5,1194.2 536.9,1546 643.3,1623.3 749.7,1677.5 856.1,1739.3 962.5,1778 1068.9,1801.2" fill="none" stroke="#d79df8" stroke-width="10" stroke-linejoin="round" stroke-linecap="round"/>
<g fill="url(#gb6)"><circle cx="270.9" cy="1120.7" r="11.5"/><circle cx="350.7" cy="1194.2" r="11.5"/><circle cx="430.5" cy="1194.2" r="11.5"/><circle cx="536.9" cy="1546" r="11.5"/><circle cx="643.3" cy="1623.3" r="11.5"/><circle cx="749.7" cy="1677.5" r="11.5"/><circle cx="856.1" cy="1739.3" r="11.5"/><circle cx="962.5" cy="1778" r="11.5"/><circle cx="1068.9" cy="1801.2" r="11.5"/></g>
<polyline points="270.9,1120.7 350.7,1198 430.5,1198 536.9,1476.4 643.3,1538.3 749.7,1584.7 856.1,1615.6 962.5,1654.3 1068.9,1669.7" fill="none" stroke="#c4a2f7" stroke-width="10" stroke-linejoin="round" stroke-linecap="round"/>
<g fill="url(#gb7)"><circle cx="270.9" cy="1120.7" r="11.5"/><circle cx="350.7" cy="1198" r="11.5"/><circle cx="430.5" cy="1198" r="11.5"/><circle cx="536.9" cy="1476.4" r="11.5"/><circle cx="643.3" cy="1538.3" r="11.5"/><circle cx="749.7" cy="1584.7" r="11.5"/><circle cx="856.1" cy="1615.6" r="11.5"/><circle cx="962.5" cy="1654.3" r="11.5"/><circle cx="1068.9" cy="1669.7" r="11.5"/></g>
<path d="M270.9 1117.6V1123.8M261.7 1117.6H280.1M261.7 1123.8H280.1M430.5 1105.2V1136.2M421.3 1105.2H439.7M421.3 1136.2H439.7M536.9 1105.2V1136.2M527.7 1105.2H546.1M527.7 1136.2H546.1M643.3 1110.6V1133.8M634.1 1110.6H652.5M634.1 1133.8H652.5M749.7 1113V1136.2M740.5 1113H758.9M740.5 1136.2H758.9M856.1 1109.1V1147.8M846.9 1109.1H865.3M846.9 1147.8H865.3M962.5 1114.5V1137.7M953.3 1114.5H971.7M953.3 1137.7H971.7M1068.9 1119.2V1137.7M1059.7 1119.2H1078.1M1059.7 1137.7H1078.1M270.9 1116.1V1125.3M261.7 1116.1H280.1M261.7 1125.3H280.1M350.7 1137.7V1165.6M341.5 1137.7H359.9M341.5 1165.6H359.9M430.5 1140V1166.3M421.3 1140H439.7M421.3 1166.3H439.7M536.9 1221.2V1252.2M527.7 1221.2H546.1M527.7 1252.2H546.1M643.3 1252.2V1283.1M634.1 1252.2H652.5M634.1 1283.1H652.5M749.7 1279.2V1317.9M740.5 1279.2H758.9M740.5 1317.9H758.9M856.1 1312.5V1331M846.9 1312.5H865.3M846.9 1331H865.3M962.5 1321.8V1352.7M953.3 1321.8H971.7M953.3 1352.7H971.7M1068.9 1333.4V1372M1059.7 1333.4H1078.1M1059.7 1372H1078.1M270.9 1113.7V1127.7M261.7 1113.7H280.1M261.7 1127.7H280.1M350.7 1148.5V1173.3M341.5 1148.5H359.9M341.5 1173.3H359.9M430.5 1154.7V1179.5M421.3 1154.7H439.7M421.3 1179.5H439.7M536.9 1303.2V1340.3M527.7 1303.2H546.1M527.7 1340.3H546.1M643.3 1369.7V1397.5M634.1 1369.7H652.5M634.1 1397.5H652.5M749.7 1414.6V1445.5M740.5 1414.6H758.9M740.5 1445.5H758.9M856.1 1445.5V1476.4M846.9 1445.5H865.3M846.9 1476.4H865.3M962.5 1474.9V1493.4M953.3 1474.9H971.7M953.3 1493.4H971.7M1068.9 1498.1V1516.6M1059.7 1498.1H1078.1M1059.7 1516.6H1078.1M270.9 1112.2V1129.2M261.7 1112.2H280.1M261.7 1129.2H280.1M350.7 1157V1181.8M341.5 1157H359.9M341.5 1181.8H359.9M430.5 1160.9V1185.7M421.3 1160.9H439.7M421.3 1185.7H439.7M536.9 1376.7V1406M527.7 1376.7H546.1M527.7 1406H546.1M643.3 1430V1461M634.1 1430H652.5M634.1 1461H652.5M749.7 1482.6V1501.2M740.5 1482.6H758.9M740.5 1501.2H758.9M856.1 1510.4V1535.2M846.9 1510.4H865.3M846.9 1535.2H865.3M962.5 1530.5V1561.5M953.3 1530.5H971.7M953.3 1561.5H971.7M1068.9 1544.5V1563M1059.7 1544.5H1078.1M1059.7 1563H1078.1M270.9 1110.6V1130.8M261.7 1110.6H280.1M261.7 1130.8H280.1M350.7 1166.3V1191.1M341.5 1166.3H359.9M341.5 1191.1H359.9M430.5 1168.6V1193.4M421.3 1168.6H439.7M421.3 1193.4H439.7M536.9 1420.7V1439.3M527.7 1420.7H546.1M527.7 1439.3H546.1M643.3 1461V1491.9M634.1 1461H652.5M634.1 1491.9H652.5M749.7 1507.4V1538.3M740.5 1507.4H758.9M740.5 1538.3H758.9M856.1 1541.4V1566.1M846.9 1541.4H865.3M846.9 1566.1H865.3M962.5 1563V1590.9M953.3 1563H971.7M953.3 1590.9H971.7M1068.9 1565.3V1604M1059.7 1565.3H1078.1M1059.7 1604H1078.1M270.9 1109.5V1131.9M261.7 1109.5H280.1M261.7 1131.9H280.1M350.7 1174.8V1198M341.5 1174.8H359.9M341.5 1198H359.9M430.5 1176.4V1201.1M421.3 1176.4H439.7M421.3 1201.1H439.7M536.9 1453.2V1484.2M527.7 1453.2H546.1M527.7 1484.2H546.1M643.3 1529V1547.6M634.1 1529H652.5M634.1 1547.6H652.5M749.7 1570.8V1598.6M740.5 1570.8H758.9M740.5 1598.6H758.9M856.1 1597.1V1618.7M846.9 1597.1H865.3M846.9 1618.7H865.3M962.5 1624.9V1652.7M953.3 1624.9H971.7M953.3 1652.7H971.7M1068.9 1660.5V1679M1059.7 1660.5H1078.1M1059.7 1679H1078.1M270.9 1108.7V1132.7M261.7 1108.7H280.1M261.7 1132.7H280.1M350.7 1183.3V1205M341.5 1183.3H359.9M341.5 1205H359.9M430.5 1182.6V1205.8M421.3 1182.6H439.7M421.3 1205.8H439.7M536.9 1529V1563M527.7 1529H546.1M527.7 1563H546.1M643.3 1614.1V1632.6M634.1 1614.1H652.5M634.1 1632.6H652.5M749.7 1660.5V1694.5M740.5 1660.5H758.9M740.5 1694.5H758.9M856.1 1727V1751.7M846.9 1727H865.3M846.9 1751.7H865.3M962.5 1768.7V1787.3M953.3 1768.7H971.7M953.3 1787.3H971.7M1068.9 1789.6V1812.8M1059.7 1789.6H1078.1M1059.7 1812.8H1078.1M270.9 1112.2V1129.2M261.7 1112.2H280.1M261.7 1129.2H280.1M350.7 1187.6V1208.5M341.5 1187.6H359.9M341.5 1208.5H359.9M430.5 1186.4V1209.6M421.3 1186.4H439.7M421.3 1209.6H439.7M536.9 1457.1V1495.8M527.7 1457.1H546.1M527.7 1495.8H546.1M643.3 1529V1547.6M634.1 1529H652.5M634.1 1547.6H652.5M749.7 1570.8V1598.6M740.5 1570.8H758.9M740.5 1598.6H758.9M856.1 1601.7V1629.5M846.9 1601.7H865.3M846.9 1629.5H865.3M962.5 1638.8V1669.7M953.3 1638.8H971.7M953.3 1669.7H971.7M1068.9 1660.5V1679M1059.7 1660.5H1078.1M1059.7 1679H1078.1" fill="none" stroke="#000" stroke-width="3.4"/>
<g font-family='"Liberation Sans", sans-serif' font-weight="700" font-size="28.5" fill="#000">
<line x1="184.4" x2="246.7" y1="1596.4" y2="1596.4" stroke="#000000" stroke-width="9.6" stroke-linecap="round"/>
<circle cx="215.1" cy="1596.4" r="12.5" fill="url(#gb0)"/>
<text transform="translate(255.2 1606.4) scale(0.97 1)">Blank</text>
<line x1="184.4" x2="246.7" y1="1633.1" y2="1633.1" stroke="#2d0b4f" stroke-width="9.6" stroke-linecap="round"/>
<circle cx="215.1" cy="1633.1" r="12.5" fill="url(#gb1)"/>
<text transform="translate(255.2 1643.1) scale(0.97 1)">g-C<tspan font-size="18.5" dy="7.5">3</tspan><tspan dy="-7.5">N</tspan><tspan font-size="18.5" dy="7.5">4</tspan></text>
<line x1="184.4" x2="246.7" y1="1677.4" y2="1677.4" stroke="#3e0b69" stroke-width="9.6" stroke-linecap="round"/>
<circle cx="215.1" cy="1677.4" r="12.5" fill="url(#gb2)"/>
<text transform="translate(255.2 1687.4) scale(0.97 1)">LDH</text>
<line x1="184.4" x2="246.7" y1="1714" y2="1714" stroke="#7618f3" stroke-width="9.6" stroke-linecap="round"/>
<circle cx="215.1" cy="1714" r="12.5" fill="url(#gb3)"/>
<text transform="translate(255.2 1724) scale(0.97 1)">HCNS@LDH</text>
<line x1="184.4" x2="246.7" y1="1751.7" y2="1751.7" stroke="#9458f6" stroke-width="9.6" stroke-linecap="round"/>
<circle cx="215.1" cy="1751.7" r="12.5" fill="url(#gb4)"/>
<text transform="translate(255.2 1761.7) scale(0.97 1)">HCNS@LDH/NCQDs <tspan fill="#31095a" dx="2.5">(1 wt%)</tspan></text>
<line x1="184.4" x2="246.7" y1="1788.3" y2="1788.3" stroke="#b854f7" stroke-width="9.6" stroke-linecap="round"/>
<circle cx="215.1" cy="1788.3" r="12.5" fill="url(#gb5)"/>
<text transform="translate(255.2 1798.3) scale(0.97 1)">HCNS@LDH/NCQDs <tspan fill="#31095a" dx="2.5">(3 wt%)</tspan></text>
<line x1="184.4" x2="246.7" y1="1825.5" y2="1825.5" stroke="#d79df8" stroke-width="9.6" stroke-linecap="round"/>
<circle cx="215.1" cy="1825.5" r="12.5" fill="url(#gb6)"/>
<text transform="translate(255.2 1835.5) scale(0.97 1)">HCNS@LDH/NCQDs <tspan fill="#31095a" dx="2.5">(5 wt%)</tspan></text>
<line x1="184.4" x2="246.7" y1="1862.4" y2="1862.4" stroke="#c4a2f7" stroke-width="9.6" stroke-linecap="round"/>
<circle cx="215.1" cy="1862.4" r="12.5" fill="url(#gb7)"/>
<text transform="translate(255.2 1872.4) scale(0.97 1)">HCNS@LDH/NCQDs <tspan fill="#31095a" dx="2.5">(7 wt%)</tspan></text>
</g>
<rect x="164.6" y="1043" width="1010.7" height="851" fill="none" stroke="#000" stroke-width="9.3"/>
<path d="M164.6 1894H149M164.6 1739.3H149M164.6 1584.7H149M164.6 1430H149M164.6 1275.4H149M164.6 1120.7H149M164.6 1816.7H157.3M164.6 1662H157.3M164.6 1507.3H157.3M164.6 1352.7H157.3M164.6 1198H157.3M164.6 1043.4H157.3M270.9 1894V1910.6M430.5 1894V1910.6M590.1 1894V1910.6M749.7 1894V1910.6M909.3 1894V1910.6M1068.9 1894V1910.6" fill="none" stroke="#000" stroke-width="9.2"/>
<g font-family='"Liberation Sans", sans-serif' font-weight="700" font-size="46.6" fill="#000">
<text transform="translate(137.9 1908) scale(0.915 1)" text-anchor="end">0.0</text>
<text transform="translate(137.9 1753.3) scale(0.915 1)" text-anchor="end">0.2</text>
<text transform="translate(137.9 1598.7) scale(0.915 1)" text-anchor="end">0.4</text>
<text transform="translate(137.9 1444) scale(0.915 1)" text-anchor="end">0.6</text>
<text transform="translate(137.9 1289.4) scale(0.915 1)" text-anchor="end">0.8</text>
<text transform="translate(137.9 1134.7) scale(0.915 1)" text-anchor="end">1.0</text>
<text transform="translate(271.4 1957.6) scale(0.915 1)" text-anchor="middle">-30</text>
<text transform="translate(430.5 1957.6) scale(0.915 1)" text-anchor="middle">0</text>
<text transform="translate(590.1 1957.6) scale(0.915 1)" text-anchor="middle">30</text>
<text transform="translate(749.7 1957.6) scale(0.915 1)" text-anchor="middle">60</text>
<text transform="translate(909.3 1957.6) scale(0.915 1)" text-anchor="middle">90</text>
<text transform="translate(1068.9 1957.6) scale(0.915 1)" text-anchor="middle">120</text>
<text transform="translate(543.2 2022.8) scale(0.968 1)" font-size="43.8">Time (min)</text>
<text transform="translate(57.5 1530.5) rotate(-90) scale(0.96 1)" font-size="46">C/C<tspan font-size="28" dy="10">0</tspan></text>
</g>
</g>
<g id="chartc">
<g fill="url(#gc0)"><circle cx="1427.4" cy="1833.8" r="11.5"/><circle cx="1595.9" cy="1815.1" r="11.5"/><circle cx="1764.3" cy="1795.8" r="11.5"/><circle cx="1932.8" cy="1781.3" r="11.5"/><circle cx="2101.2" cy="1770.9" r="11.5"/><circle cx="2269.7" cy="1761.1" r="11.5"/></g>
<g fill="url(#gc1)"><circle cx="1427.4" cy="1781.1" r="11.5"/><circle cx="1595.9" cy="1737.7" r="11.5"/><circle cx="1764.3" cy="1702.5" r="11.5"/><circle cx="1932.8" cy="1676.1" r="11.5"/><circle cx="2101.2" cy="1654.5" r="11.5"/><circle cx="2269.7" cy="1633.8" r="11.5"/></g>
<g fill="url(#gc2)"><circle cx="1427.4" cy="1732.4" r="11.5"/><circle cx="1595.9" cy="1688.5" r="11.5"/><circle cx="1764.3" cy="1648.5" r="11.5"/><circle cx="1932.8" cy="1618.3" r="11.5"/><circle cx="2101.2" cy="1593" r="11.5"/><circle cx="2269.7" cy="1585.8" r="11.5"/></g>
<g fill="url(#gc3)"><circle cx="1427.4" cy="1701.6" r="11.5"/><circle cx="1595.9" cy="1662.1" r="11.5"/><circle cx="1764.3" cy="1618.3" r="11.5"/><circle cx="1932.8" cy="1584.3" r="11.5"/><circle cx="2101.2" cy="1558.2" r="11.5"/><circle cx="2269.7" cy="1549.1" r="11.5"/></g>
<g fill="url(#gc4)"><circle cx="1427.4" cy="1668.5" r="11.5"/><circle cx="1595.9" cy="1606.6" r="11.5"/><circle cx="1764.3" cy="1578.6" r="11.5"/><circle cx="1932.8" cy="1525" r="11.5"/><circle cx="2101.2" cy="1472.8" r="11.5"/><circle cx="2269.7" cy="1429.8" r="11.5"/></g>
<g fill="url(#gc6)"><circle cx="1427.4" cy="1671.5" r="11.5"/><circle cx="1595.9" cy="1593" r="11.5"/><circle cx="1764.3" cy="1555" r="11.5"/><circle cx="1932.8" cy="1508.7" r="11.5"/><circle cx="2101.2" cy="1452" r="11.5"/><circle cx="2269.7" cy="1426.7" r="11.5"/></g>
<g fill="url(#gc5)"><circle cx="1427.4" cy="1593" r="11.5"/><circle cx="1595.9" cy="1498.9" r="11.5"/><circle cx="1764.3" cy="1414.6" r="11.5"/><circle cx="1932.8" cy="1286.6" r="11.5"/><circle cx="2101.2" cy="1206.5" r="11.5"/><circle cx="2269.7" cy="1093.5" r="11.5"/></g>
<line x1="1343.2" y1="1852.5" x2="2305.1" y2="1744.1" stroke="#2c0a4c" stroke-width="10" stroke-dasharray="52 49.5"/>
<line x1="1343.2" y1="1800.2" x2="2296.7" y2="1609.3" stroke="#450d72" stroke-width="10" stroke-dasharray="52 49.5"/>
<line x1="1343.2" y1="1743.3" x2="2301.7" y2="1569.5" stroke="#6c1df4" stroke-width="10" stroke-dasharray="52 49.5"/>
<line x1="1343.2" y1="1726" x2="2293.3" y2="1519.3" stroke="#a30ef2" stroke-width="10" stroke-dasharray="52 49.5"/>
<line x1="1343.2" y1="1707.4" x2="2269.7" y2="1400.4" stroke="#b455f3" stroke-width="10" stroke-dasharray="52 49.5"/>
<line x1="1343.2" y1="1706.3" x2="2262.1" y2="1380.4" stroke="#c5a6f8" stroke-width="10" stroke-dasharray="52 49.5"/>
<line x1="1343.2" y1="1638.3" x2="2268" y2="1098.8" stroke="#d9a3f8" stroke-width="10" stroke-dasharray="52 49.5"/>
<path d="M1427.4 1826.3V1841.4M1418.2 1826.3H1436.6M1418.2 1841.4H1436.6M1595.9 1803.8V1826.4M1586.7 1803.8H1605.1M1586.7 1826.4H1605.1M1764.3 1786.4V1805.3M1755.1 1786.4H1773.5M1755.1 1805.3H1773.5M1932.8 1768.1V1794.5M1923.6 1768.1H1942M1923.6 1794.5H1942M2101.2 1762.6V1779.2M2092 1762.6H2110.4M2092 1779.2H2110.4M2269.7 1751.6V1770.5M2260.5 1751.6H2278.9M2260.5 1770.5H2278.9M1427.4 1773.5V1788.7M1418.2 1773.5H1436.6M1418.2 1788.7H1436.6M1595.9 1727.1V1748.2M1586.7 1727.1H1605.1M1586.7 1748.2H1605.1M1764.3 1688.2V1716.9M1755.1 1688.2H1773.5M1755.1 1716.9H1773.5M1932.8 1669.3V1682.9M1923.6 1669.3H1942M1923.6 1682.9H1942M2101.2 1643.2V1665.9M2092 1643.2H2110.4M2092 1665.9H2110.4M2269.7 1627V1640.6M2260.5 1627H2278.9M2260.5 1640.6H2278.9M1427.4 1722.9V1741.8M1418.2 1722.9H1436.6M1418.2 1741.8H1436.6M1595.9 1681.7V1695.3M1586.7 1681.7H1605.1M1586.7 1695.3H1605.1M1764.3 1641.7V1655.3M1755.1 1641.7H1773.5M1755.1 1655.3H1773.5M1932.8 1606.9V1629.6M1923.6 1606.9H1942M1923.6 1629.6H1942M2101.2 1579.7V1606.2M2092 1579.7H2110.4M2092 1606.2H2110.4M2269.7 1570.7V1600.9M2260.5 1570.7H2278.9M2260.5 1600.9H2278.9M1427.4 1688.4V1714.8M1418.2 1688.4H1436.6M1418.2 1714.8H1436.6M1595.9 1651.5V1672.7M1586.7 1651.5H1605.1M1586.7 1672.7H1605.1M1764.3 1606.9V1629.6M1755.1 1606.9H1773.5M1755.1 1629.6H1773.5M1932.8 1576V1592.6M1923.6 1576H1942M1923.6 1592.6H1942M2101.2 1546.9V1569.5M2092 1546.9H2110.4M2092 1569.5H2110.4M2269.7 1538.6V1559.7M2260.5 1538.6H2278.9M2260.5 1559.7H2278.9M1427.4 1661.7V1675.3M1418.2 1661.7H1436.6M1418.2 1675.3H1436.6M1595.9 1599V1614.1M1586.7 1599H1605.1M1586.7 1614.1H1605.1M1764.3 1565.4V1591.8M1755.1 1565.4H1773.5M1755.1 1591.8H1773.5M1932.8 1510.6V1539.3M1923.6 1510.6H1942M1923.6 1539.3H1942M2101.2 1457.7V1487.9M2092 1457.7H2110.4M2092 1487.9H2110.4M2269.7 1421.4V1438.1M2260.5 1421.4H2278.9M2260.5 1438.1H2278.9M1427.4 1577.8V1608.1M1418.2 1577.8H1436.6M1418.2 1608.1H1436.6M1595.9 1491.3V1506.4M1586.7 1491.3H1605.1M1586.7 1506.4H1605.1M1764.3 1400.3V1429M1755.1 1400.3H1773.5M1755.1 1429H1773.5M1932.8 1275.2V1297.9M1923.6 1275.2H1942M1923.6 1297.9H1942M2101.2 1198.2V1214.8M2092 1198.2H2110.4M2092 1214.8H2110.4M2269.7 1085.2V1101.8M2260.5 1085.2H2278.9M2260.5 1101.8H2278.9M1427.4 1662.1V1681M1418.2 1662.1H1436.6M1418.2 1681H1436.6M1595.9 1579.7V1606.2M1586.7 1579.7H1605.1M1586.7 1606.2H1605.1M1764.3 1539.8V1570.1M1755.1 1539.8H1773.5M1755.1 1570.1H1773.5M1932.8 1491.7V1525.7M1923.6 1491.7H1942M1923.6 1525.7H1942M2101.2 1435V1469M2092 1435H2110.4M2092 1469H2110.4M2269.7 1417.3V1436.2M2260.5 1417.3H2278.9M2260.5 1436.2H2278.9" fill="none" stroke="#000" stroke-width="3.4"/>
<g font-family='"Liberation Sans", sans-serif' font-weight="700" font-size="28" fill="#000">
<circle cx="1392.6" cy="1084.3" r="12" fill="url(#gc0)"/>
<text transform="translate(1423.4 1094.1) scale(0.97 1)">g-C<tspan font-size="18" dy="7.5">3</tspan><tspan dy="-7.5">N</tspan><tspan font-size="18" dy="7.5">4</tspan></text>
<circle cx="1392.6" cy="1126.1" r="12" fill="url(#gc1)"/>
<text transform="translate(1423.4 1135.9) scale(0.97 1)">LDH</text>
<circle cx="1392.6" cy="1161.6" r="12" fill="url(#gc2)"/>
<text transform="translate(1423.4 1171.4) scale(0.97 1)">HCNS@LDH</text>
<circle cx="1392.6" cy="1196.8" r="12" fill="url(#gc3)"/>
<text transform="translate(1423.4 1206.6) scale(0.97 1)">HCNS@LDH/NCQDs <tspan fill="#1c0a36" dx="1">(1 wt%)</tspan></text>
<circle cx="1392.6" cy="1231.9" r="12" fill="url(#gc4)"/>
<text transform="translate(1423.4 1241.7) scale(0.97 1)">HCNS@LDH/NCQDs <tspan fill="#1c0a36" dx="1">(3 wt%)</tspan></text>
<circle cx="1392.6" cy="1267.4" r="12" fill="url(#gc5)"/>
<text transform="translate(1423.4 1277.2) scale(0.97 1)">HCNS@LDH/NCQDs <tspan fill="#1c0a36" dx="1">(5 wt%)</tspan></text>
<circle cx="1392.6" cy="1302.8" r="12" fill="url(#gc6)"/>
<text transform="translate(1423.4 1312.6) scale(0.97 1)">HCNS@LDH/NCQDs <tspan fill="#1c0a36" dx="1">(7 wt%)</tspan></text>
</g>
<rect x="1343.1" y="1045" width="1011" height="850.2" fill="none" stroke="#000" stroke-width="9.2"/>
<path d="M1343.1 1895.2H1327.5M1343.1 1706.3H1327.5M1343.1 1517.4H1327.5M1343.1 1328.5H1327.5M1343.1 1139.6H1327.5M1343.1 1800.8H1335.7M1343.1 1611.8H1335.7M1343.1 1423H1335.7M1343.1 1234.1H1335.7M1343.1 1045.2H1335.7M1427.4 1895.2V1911.6M1595.9 1895.2V1911.6M1764.3 1895.2V1911.6M1932.8 1895.2V1911.6M2101.2 1895.2V1911.6M2269.7 1895.2V1911.6M1343.2 1895.2V1903.2M1511.6 1895.2V1903.2M1680.1 1895.2V1903.2M1848.6 1895.2V1903.2M2017 1895.2V1903.2M2185.5 1895.2V1903.2M2353.9 1895.2V1903.2" fill="none" stroke="#000" stroke-width="9.1"/>
<g font-family='"Liberation Sans", sans-serif' font-weight="700" font-size="46.6" fill="#000">
<text transform="translate(1316.2 1908.8) scale(0.915 1)" text-anchor="end">0.0</text>
<text transform="translate(1316.2 1719.9) scale(0.915 1)" text-anchor="end">0.5</text>
<text transform="translate(1316.2 1531) scale(0.915 1)" text-anchor="end">1.0</text>
<text transform="translate(1316.2 1342.1) scale(0.915 1)" text-anchor="end">1.5</text>
<text transform="translate(1316.2 1153.2) scale(0.915 1)" text-anchor="end">2.0</text>
<text transform="translate(1427.4 1958.2) scale(0.915 1)" text-anchor="middle">20</text>
<text transform="translate(1595.9 1958.2) scale(0.915 1)" text-anchor="middle">40</text>
<text transform="translate(1764.3 1958.2) scale(0.915 1)" text-anchor="middle">60</text>
<text transform="translate(1932.8 1958.2) scale(0.915 1)" text-anchor="middle">80</text>
<text transform="translate(2101.2 1958.2) scale(0.915 1)" text-anchor="middle">100</text>
<text transform="translate(2269.7 1958.2) scale(0.915 1)" text-anchor="middle">120</text>
<text transform="translate(1599.6 2024.6) scale(0.961 1)" font-size="44.2">Irradiation time (min)</text>
<text transform="translate(1230.7 1565.5) rotate(-90) scale(1.01 1)" font-size="46.5">ln(C/C<tspan font-size="28.5" dy="10">0</tspan><tspan dy="-10">)</tspan></text>
</g>
</g>
</svg>
</body></html>
